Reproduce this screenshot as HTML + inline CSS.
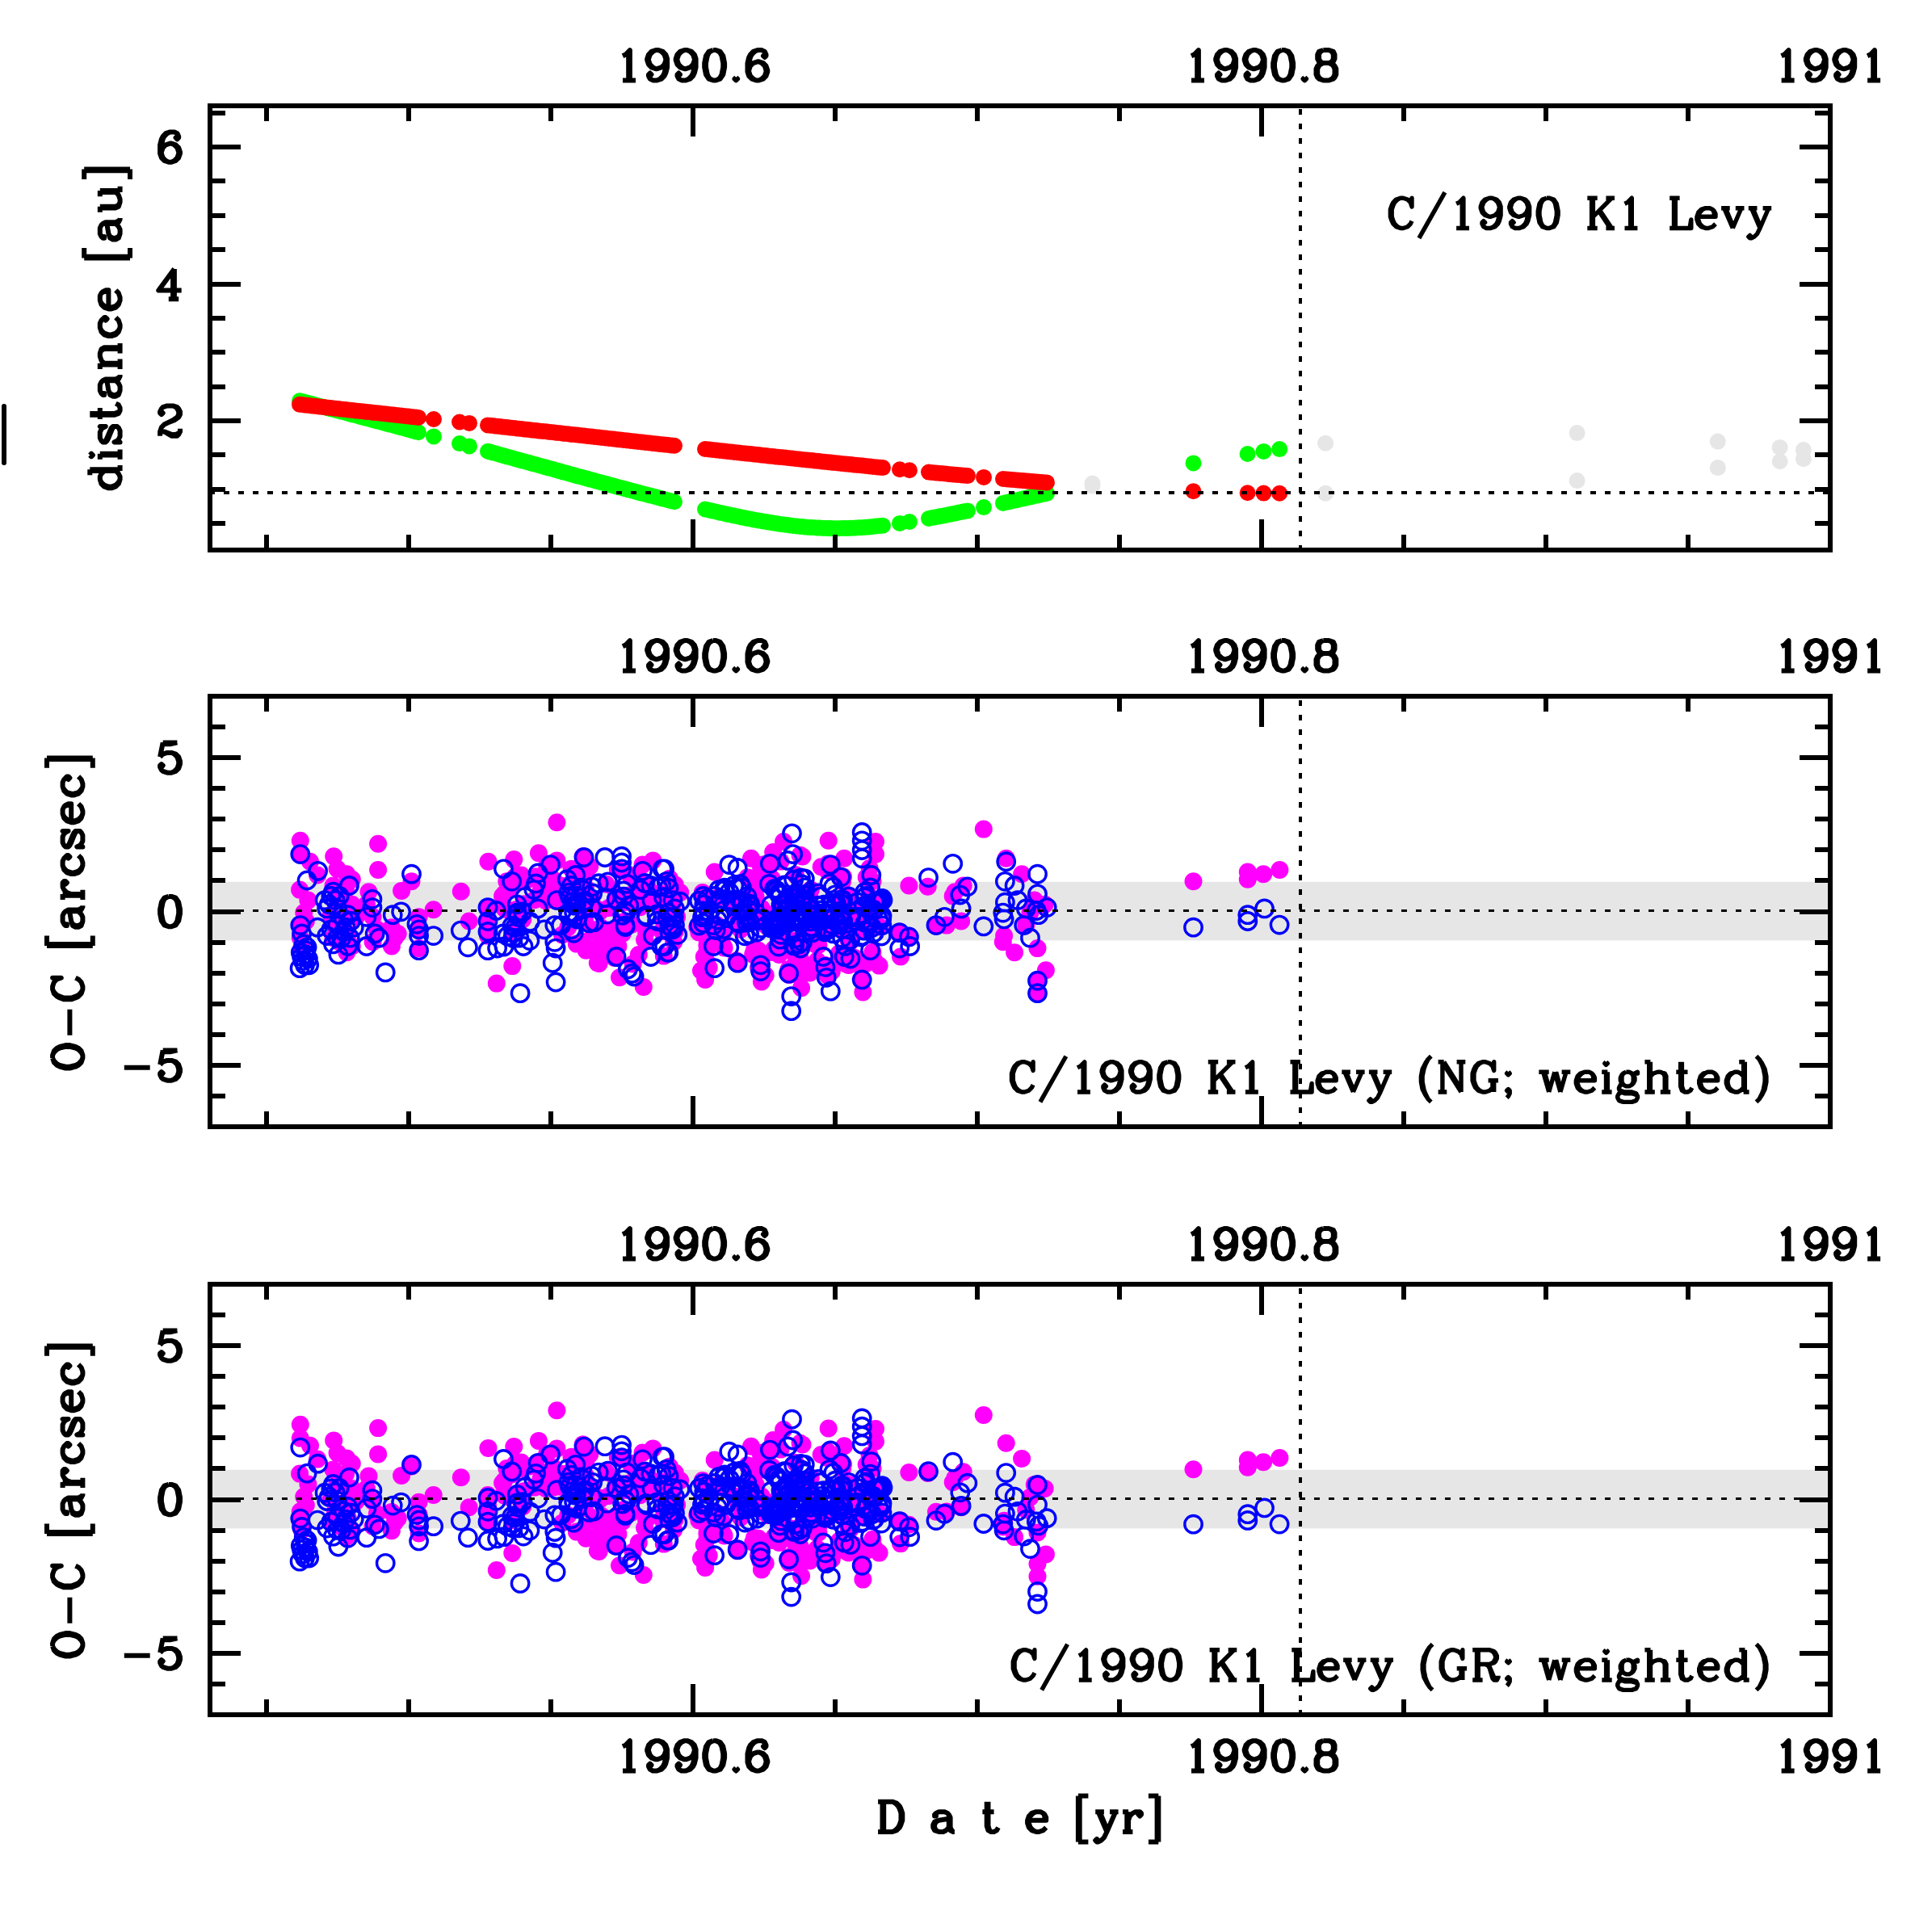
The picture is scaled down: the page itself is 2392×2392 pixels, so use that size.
<!DOCTYPE html><html><head><meta charset="utf-8"><title>C/1990 K1 Levy</title>
<style>html,body{margin:0;padding:0;background:#fff}svg{display:block}text{font-family:"Liberation Sans",sans-serif}</style></head><body>
<svg width="2392" height="2392" viewBox="0 0 2392 2392">
<rect width="2392" height="2392" fill="#fff"/>
<path d="M5 503V573" stroke="#000" stroke-width="6" stroke-linecap="round"/>
<path d="M1342.5 598.5a10 10 0 1 0 20 0a10 10 0 1 0 -20 0M1342.5 601.5a10 10 0 1 0 20 0a10 10 0 1 0 -20 0M1631.1 548.8a10 10 0 1 0 20 0a10 10 0 1 0 -20 0M1631.1 610.8a10 10 0 1 0 20 0a10 10 0 1 0 -20 0M1942.6 536.1a10 10 0 1 0 20 0a10 10 0 1 0 -20 0M1942.6 595.1a10 10 0 1 0 20 0a10 10 0 1 0 -20 0M2116.8 546.6a10 10 0 1 0 20 0a10 10 0 1 0 -20 0M2116.8 579.1a10 10 0 1 0 20 0a10 10 0 1 0 -20 0M2193.7 553.9a10 10 0 1 0 20 0a10 10 0 1 0 -20 0M2193.7 571.2a10 10 0 1 0 20 0a10 10 0 1 0 -20 0M2222.9 557.0a10 10 0 1 0 20 0a10 10 0 1 0 -20 0M2222.9 568.2a10 10 0 1 0 20 0a10 10 0 1 0 -20 0" fill="#e6e6e6"/>
<path d="M361.0 496.2a10 10 0 1 0 20 0a10 10 0 1 0 -20 0M364.0 497.0a10 10 0 1 0 20 0a10 10 0 1 0 -20 0M367.0 497.8a10 10 0 1 0 20 0a10 10 0 1 0 -20 0M370.0 498.6a10 10 0 1 0 20 0a10 10 0 1 0 -20 0M373.0 499.3a10 10 0 1 0 20 0a10 10 0 1 0 -20 0M376.0 500.1a10 10 0 1 0 20 0a10 10 0 1 0 -20 0M379.0 500.9a10 10 0 1 0 20 0a10 10 0 1 0 -20 0M382.0 501.7a10 10 0 1 0 20 0a10 10 0 1 0 -20 0M385.0 502.4a10 10 0 1 0 20 0a10 10 0 1 0 -20 0M388.0 503.2a10 10 0 1 0 20 0a10 10 0 1 0 -20 0M391.0 504.0a10 10 0 1 0 20 0a10 10 0 1 0 -20 0M394.0 504.8a10 10 0 1 0 20 0a10 10 0 1 0 -20 0M397.0 505.6a10 10 0 1 0 20 0a10 10 0 1 0 -20 0M400.0 506.4a10 10 0 1 0 20 0a10 10 0 1 0 -20 0M403.0 507.2a10 10 0 1 0 20 0a10 10 0 1 0 -20 0M406.0 507.9a10 10 0 1 0 20 0a10 10 0 1 0 -20 0M409.0 508.7a10 10 0 1 0 20 0a10 10 0 1 0 -20 0M412.0 509.5a10 10 0 1 0 20 0a10 10 0 1 0 -20 0M415.0 510.3a10 10 0 1 0 20 0a10 10 0 1 0 -20 0M418.0 511.1a10 10 0 1 0 20 0a10 10 0 1 0 -20 0M421.0 511.9a10 10 0 1 0 20 0a10 10 0 1 0 -20 0M424.0 512.7a10 10 0 1 0 20 0a10 10 0 1 0 -20 0M427.0 513.5a10 10 0 1 0 20 0a10 10 0 1 0 -20 0M430.0 514.3a10 10 0 1 0 20 0a10 10 0 1 0 -20 0M433.0 515.1a10 10 0 1 0 20 0a10 10 0 1 0 -20 0M436.0 515.9a10 10 0 1 0 20 0a10 10 0 1 0 -20 0M439.0 516.7a10 10 0 1 0 20 0a10 10 0 1 0 -20 0M442.0 517.5a10 10 0 1 0 20 0a10 10 0 1 0 -20 0M445.0 518.3a10 10 0 1 0 20 0a10 10 0 1 0 -20 0M448.0 519.1a10 10 0 1 0 20 0a10 10 0 1 0 -20 0M451.0 519.9a10 10 0 1 0 20 0a10 10 0 1 0 -20 0M454.0 520.7a10 10 0 1 0 20 0a10 10 0 1 0 -20 0M457.0 521.5a10 10 0 1 0 20 0a10 10 0 1 0 -20 0M460.0 522.3a10 10 0 1 0 20 0a10 10 0 1 0 -20 0M463.0 523.1a10 10 0 1 0 20 0a10 10 0 1 0 -20 0M466.0 523.9a10 10 0 1 0 20 0a10 10 0 1 0 -20 0M469.0 524.7a10 10 0 1 0 20 0a10 10 0 1 0 -20 0M472.0 525.5a10 10 0 1 0 20 0a10 10 0 1 0 -20 0M475.0 526.3a10 10 0 1 0 20 0a10 10 0 1 0 -20 0M478.0 527.1a10 10 0 1 0 20 0a10 10 0 1 0 -20 0M481.0 527.9a10 10 0 1 0 20 0a10 10 0 1 0 -20 0M484.0 528.7a10 10 0 1 0 20 0a10 10 0 1 0 -20 0M487.0 529.5a10 10 0 1 0 20 0a10 10 0 1 0 -20 0M490.0 530.3a10 10 0 1 0 20 0a10 10 0 1 0 -20 0M493.0 531.2a10 10 0 1 0 20 0a10 10 0 1 0 -20 0M496.0 532.0a10 10 0 1 0 20 0a10 10 0 1 0 -20 0M499.0 532.8a10 10 0 1 0 20 0a10 10 0 1 0 -20 0M502.0 533.6a10 10 0 1 0 20 0a10 10 0 1 0 -20 0M505.0 534.4a10 10 0 1 0 20 0a10 10 0 1 0 -20 0M508.0 535.2a10 10 0 1 0 20 0a10 10 0 1 0 -20 0M527.0 540.4a10 10 0 1 0 20 0a10 10 0 1 0 -20 0M559.0 549.1a10 10 0 1 0 20 0a10 10 0 1 0 -20 0M571.0 552.4a10 10 0 1 0 20 0a10 10 0 1 0 -20 0M594.0 558.8a10 10 0 1 0 20 0a10 10 0 1 0 -20 0M597.0 559.6a10 10 0 1 0 20 0a10 10 0 1 0 -20 0M600.0 560.4a10 10 0 1 0 20 0a10 10 0 1 0 -20 0M603.0 561.3a10 10 0 1 0 20 0a10 10 0 1 0 -20 0M606.0 562.1a10 10 0 1 0 20 0a10 10 0 1 0 -20 0M609.0 562.9a10 10 0 1 0 20 0a10 10 0 1 0 -20 0M612.0 563.7a10 10 0 1 0 20 0a10 10 0 1 0 -20 0M615.0 564.6a10 10 0 1 0 20 0a10 10 0 1 0 -20 0M618.0 565.4a10 10 0 1 0 20 0a10 10 0 1 0 -20 0M621.0 566.2a10 10 0 1 0 20 0a10 10 0 1 0 -20 0M624.0 567.1a10 10 0 1 0 20 0a10 10 0 1 0 -20 0M627.0 567.9a10 10 0 1 0 20 0a10 10 0 1 0 -20 0M630.0 568.7a10 10 0 1 0 20 0a10 10 0 1 0 -20 0M633.0 569.5a10 10 0 1 0 20 0a10 10 0 1 0 -20 0M636.0 570.4a10 10 0 1 0 20 0a10 10 0 1 0 -20 0M639.0 571.2a10 10 0 1 0 20 0a10 10 0 1 0 -20 0M642.0 572.0a10 10 0 1 0 20 0a10 10 0 1 0 -20 0M645.0 572.8a10 10 0 1 0 20 0a10 10 0 1 0 -20 0M648.0 573.7a10 10 0 1 0 20 0a10 10 0 1 0 -20 0M651.0 574.5a10 10 0 1 0 20 0a10 10 0 1 0 -20 0M654.0 575.3a10 10 0 1 0 20 0a10 10 0 1 0 -20 0M657.0 576.2a10 10 0 1 0 20 0a10 10 0 1 0 -20 0M660.0 577.0a10 10 0 1 0 20 0a10 10 0 1 0 -20 0M663.0 577.8a10 10 0 1 0 20 0a10 10 0 1 0 -20 0M666.0 578.6a10 10 0 1 0 20 0a10 10 0 1 0 -20 0M669.0 579.5a10 10 0 1 0 20 0a10 10 0 1 0 -20 0M672.0 580.3a10 10 0 1 0 20 0a10 10 0 1 0 -20 0M675.0 581.1a10 10 0 1 0 20 0a10 10 0 1 0 -20 0M678.0 581.9a10 10 0 1 0 20 0a10 10 0 1 0 -20 0M681.0 582.8a10 10 0 1 0 20 0a10 10 0 1 0 -20 0M684.0 583.6a10 10 0 1 0 20 0a10 10 0 1 0 -20 0M687.0 584.4a10 10 0 1 0 20 0a10 10 0 1 0 -20 0M690.0 585.2a10 10 0 1 0 20 0a10 10 0 1 0 -20 0M693.0 586.1a10 10 0 1 0 20 0a10 10 0 1 0 -20 0M696.0 586.9a10 10 0 1 0 20 0a10 10 0 1 0 -20 0M699.0 587.7a10 10 0 1 0 20 0a10 10 0 1 0 -20 0M702.0 588.5a10 10 0 1 0 20 0a10 10 0 1 0 -20 0M705.0 589.4a10 10 0 1 0 20 0a10 10 0 1 0 -20 0M708.0 590.2a10 10 0 1 0 20 0a10 10 0 1 0 -20 0M711.0 591.0a10 10 0 1 0 20 0a10 10 0 1 0 -20 0M714.0 591.8a10 10 0 1 0 20 0a10 10 0 1 0 -20 0M717.0 592.6a10 10 0 1 0 20 0a10 10 0 1 0 -20 0M720.0 593.4a10 10 0 1 0 20 0a10 10 0 1 0 -20 0M723.0 594.3a10 10 0 1 0 20 0a10 10 0 1 0 -20 0M726.0 595.1a10 10 0 1 0 20 0a10 10 0 1 0 -20 0M729.0 595.9a10 10 0 1 0 20 0a10 10 0 1 0 -20 0M732.0 596.7a10 10 0 1 0 20 0a10 10 0 1 0 -20 0M735.0 597.5a10 10 0 1 0 20 0a10 10 0 1 0 -20 0M738.0 598.3a10 10 0 1 0 20 0a10 10 0 1 0 -20 0M741.0 599.1a10 10 0 1 0 20 0a10 10 0 1 0 -20 0M744.0 600.0a10 10 0 1 0 20 0a10 10 0 1 0 -20 0M747.0 600.8a10 10 0 1 0 20 0a10 10 0 1 0 -20 0M750.0 601.6a10 10 0 1 0 20 0a10 10 0 1 0 -20 0M753.0 602.4a10 10 0 1 0 20 0a10 10 0 1 0 -20 0M756.0 603.2a10 10 0 1 0 20 0a10 10 0 1 0 -20 0M759.0 604.0a10 10 0 1 0 20 0a10 10 0 1 0 -20 0M762.0 604.8a10 10 0 1 0 20 0a10 10 0 1 0 -20 0M765.0 605.6a10 10 0 1 0 20 0a10 10 0 1 0 -20 0M768.0 606.4a10 10 0 1 0 20 0a10 10 0 1 0 -20 0M771.0 607.2a10 10 0 1 0 20 0a10 10 0 1 0 -20 0M774.0 608.0a10 10 0 1 0 20 0a10 10 0 1 0 -20 0M777.0 608.8a10 10 0 1 0 20 0a10 10 0 1 0 -20 0M780.0 609.6a10 10 0 1 0 20 0a10 10 0 1 0 -20 0M783.0 610.4a10 10 0 1 0 20 0a10 10 0 1 0 -20 0M786.0 611.2a10 10 0 1 0 20 0a10 10 0 1 0 -20 0M789.0 611.9a10 10 0 1 0 20 0a10 10 0 1 0 -20 0M792.0 612.7a10 10 0 1 0 20 0a10 10 0 1 0 -20 0M795.0 613.5a10 10 0 1 0 20 0a10 10 0 1 0 -20 0M798.0 614.3a10 10 0 1 0 20 0a10 10 0 1 0 -20 0M801.0 615.1a10 10 0 1 0 20 0a10 10 0 1 0 -20 0M804.0 615.8a10 10 0 1 0 20 0a10 10 0 1 0 -20 0M807.0 616.6a10 10 0 1 0 20 0a10 10 0 1 0 -20 0M810.0 617.4a10 10 0 1 0 20 0a10 10 0 1 0 -20 0M813.0 618.2a10 10 0 1 0 20 0a10 10 0 1 0 -20 0M816.0 618.9a10 10 0 1 0 20 0a10 10 0 1 0 -20 0M819.0 619.7a10 10 0 1 0 20 0a10 10 0 1 0 -20 0M822.0 620.5a10 10 0 1 0 20 0a10 10 0 1 0 -20 0M825.0 621.2a10 10 0 1 0 20 0a10 10 0 1 0 -20 0M863.0 630.5a10 10 0 1 0 20 0a10 10 0 1 0 -20 0M866.0 631.2a10 10 0 1 0 20 0a10 10 0 1 0 -20 0M869.0 631.9a10 10 0 1 0 20 0a10 10 0 1 0 -20 0M872.0 632.6a10 10 0 1 0 20 0a10 10 0 1 0 -20 0M875.1 633.3a10 10 0 1 0 20 0a10 10 0 1 0 -20 0M878.1 634.0a10 10 0 1 0 20 0a10 10 0 1 0 -20 0M881.1 634.7a10 10 0 1 0 20 0a10 10 0 1 0 -20 0M884.1 635.3a10 10 0 1 0 20 0a10 10 0 1 0 -20 0M887.1 636.0a10 10 0 1 0 20 0a10 10 0 1 0 -20 0M890.1 636.7a10 10 0 1 0 20 0a10 10 0 1 0 -20 0M893.1 637.3a10 10 0 1 0 20 0a10 10 0 1 0 -20 0M896.2 638.0a10 10 0 1 0 20 0a10 10 0 1 0 -20 0M899.2 638.6a10 10 0 1 0 20 0a10 10 0 1 0 -20 0M902.2 639.2a10 10 0 1 0 20 0a10 10 0 1 0 -20 0M905.2 639.8a10 10 0 1 0 20 0a10 10 0 1 0 -20 0M908.2 640.5a10 10 0 1 0 20 0a10 10 0 1 0 -20 0M911.2 641.1a10 10 0 1 0 20 0a10 10 0 1 0 -20 0M914.2 641.7a10 10 0 1 0 20 0a10 10 0 1 0 -20 0M917.2 642.3a10 10 0 1 0 20 0a10 10 0 1 0 -20 0M920.3 642.8a10 10 0 1 0 20 0a10 10 0 1 0 -20 0M923.3 643.4a10 10 0 1 0 20 0a10 10 0 1 0 -20 0M926.3 644.0a10 10 0 1 0 20 0a10 10 0 1 0 -20 0M929.3 644.5a10 10 0 1 0 20 0a10 10 0 1 0 -20 0M932.3 645.1a10 10 0 1 0 20 0a10 10 0 1 0 -20 0M935.3 645.6a10 10 0 1 0 20 0a10 10 0 1 0 -20 0M938.3 646.1a10 10 0 1 0 20 0a10 10 0 1 0 -20 0M941.4 646.6a10 10 0 1 0 20 0a10 10 0 1 0 -20 0M944.4 647.1a10 10 0 1 0 20 0a10 10 0 1 0 -20 0M947.4 647.6a10 10 0 1 0 20 0a10 10 0 1 0 -20 0M950.4 648.0a10 10 0 1 0 20 0a10 10 0 1 0 -20 0M953.4 648.5a10 10 0 1 0 20 0a10 10 0 1 0 -20 0M956.4 648.9a10 10 0 1 0 20 0a10 10 0 1 0 -20 0M959.4 649.3a10 10 0 1 0 20 0a10 10 0 1 0 -20 0M962.5 649.7a10 10 0 1 0 20 0a10 10 0 1 0 -20 0M965.5 650.1a10 10 0 1 0 20 0a10 10 0 1 0 -20 0M968.5 650.5a10 10 0 1 0 20 0a10 10 0 1 0 -20 0M971.5 650.9a10 10 0 1 0 20 0a10 10 0 1 0 -20 0M974.5 651.2a10 10 0 1 0 20 0a10 10 0 1 0 -20 0M977.5 651.5a10 10 0 1 0 20 0a10 10 0 1 0 -20 0M980.5 651.9a10 10 0 1 0 20 0a10 10 0 1 0 -20 0M983.5 652.1a10 10 0 1 0 20 0a10 10 0 1 0 -20 0M986.6 652.4a10 10 0 1 0 20 0a10 10 0 1 0 -20 0M989.6 652.7a10 10 0 1 0 20 0a10 10 0 1 0 -20 0M992.6 652.9a10 10 0 1 0 20 0a10 10 0 1 0 -20 0M995.6 653.1a10 10 0 1 0 20 0a10 10 0 1 0 -20 0M998.6 653.3a10 10 0 1 0 20 0a10 10 0 1 0 -20 0M1001.6 653.5a10 10 0 1 0 20 0a10 10 0 1 0 -20 0M1004.6 653.6a10 10 0 1 0 20 0a10 10 0 1 0 -20 0M1007.7 653.8a10 10 0 1 0 20 0a10 10 0 1 0 -20 0M1010.7 653.9a10 10 0 1 0 20 0a10 10 0 1 0 -20 0M1013.7 654.0a10 10 0 1 0 20 0a10 10 0 1 0 -20 0M1016.7 654.1a10 10 0 1 0 20 0a10 10 0 1 0 -20 0M1019.7 654.1a10 10 0 1 0 20 0a10 10 0 1 0 -20 0M1022.7 654.2a10 10 0 1 0 20 0a10 10 0 1 0 -20 0M1025.7 654.2a10 10 0 1 0 20 0a10 10 0 1 0 -20 0M1028.8 654.2a10 10 0 1 0 20 0a10 10 0 1 0 -20 0M1031.8 654.1a10 10 0 1 0 20 0a10 10 0 1 0 -20 0M1034.8 654.1a10 10 0 1 0 20 0a10 10 0 1 0 -20 0M1037.8 654.0a10 10 0 1 0 20 0a10 10 0 1 0 -20 0M1040.8 653.9a10 10 0 1 0 20 0a10 10 0 1 0 -20 0M1043.8 653.8a10 10 0 1 0 20 0a10 10 0 1 0 -20 0M1046.8 653.7a10 10 0 1 0 20 0a10 10 0 1 0 -20 0M1049.8 653.5a10 10 0 1 0 20 0a10 10 0 1 0 -20 0M1052.9 653.3a10 10 0 1 0 20 0a10 10 0 1 0 -20 0M1055.9 653.2a10 10 0 1 0 20 0a10 10 0 1 0 -20 0M1058.9 653.0a10 10 0 1 0 20 0a10 10 0 1 0 -20 0M1061.9 652.7a10 10 0 1 0 20 0a10 10 0 1 0 -20 0M1064.9 652.5a10 10 0 1 0 20 0a10 10 0 1 0 -20 0M1067.9 652.2a10 10 0 1 0 20 0a10 10 0 1 0 -20 0M1070.9 651.9a10 10 0 1 0 20 0a10 10 0 1 0 -20 0M1074.0 651.6a10 10 0 1 0 20 0a10 10 0 1 0 -20 0M1077.0 651.3a10 10 0 1 0 20 0a10 10 0 1 0 -20 0M1080.0 651.0a10 10 0 1 0 20 0a10 10 0 1 0 -20 0M1083.0 650.7a10 10 0 1 0 20 0a10 10 0 1 0 -20 0M1104.0 647.9a10 10 0 1 0 20 0a10 10 0 1 0 -20 0M1116.0 646.0a10 10 0 1 0 20 0a10 10 0 1 0 -20 0M1140.0 641.9a10 10 0 1 0 20 0a10 10 0 1 0 -20 0M1143.0 641.3a10 10 0 1 0 20 0a10 10 0 1 0 -20 0M1146.0 640.8a10 10 0 1 0 20 0a10 10 0 1 0 -20 0M1149.0 640.2a10 10 0 1 0 20 0a10 10 0 1 0 -20 0M1152.0 639.6a10 10 0 1 0 20 0a10 10 0 1 0 -20 0M1155.0 639.0a10 10 0 1 0 20 0a10 10 0 1 0 -20 0M1158.0 638.5a10 10 0 1 0 20 0a10 10 0 1 0 -20 0M1161.0 637.9a10 10 0 1 0 20 0a10 10 0 1 0 -20 0M1164.0 637.3a10 10 0 1 0 20 0a10 10 0 1 0 -20 0M1167.0 636.7a10 10 0 1 0 20 0a10 10 0 1 0 -20 0M1170.0 636.1a10 10 0 1 0 20 0a10 10 0 1 0 -20 0M1173.0 635.5a10 10 0 1 0 20 0a10 10 0 1 0 -20 0M1176.0 634.8a10 10 0 1 0 20 0a10 10 0 1 0 -20 0M1179.0 634.2a10 10 0 1 0 20 0a10 10 0 1 0 -20 0M1182.0 633.6a10 10 0 1 0 20 0a10 10 0 1 0 -20 0M1185.0 633.0a10 10 0 1 0 20 0a10 10 0 1 0 -20 0M1188.0 632.4a10 10 0 1 0 20 0a10 10 0 1 0 -20 0M1208.0 628.1a10 10 0 1 0 20 0a10 10 0 1 0 -20 0M1232.0 622.9a10 10 0 1 0 20 0a10 10 0 1 0 -20 0M1235.0 622.2a10 10 0 1 0 20 0a10 10 0 1 0 -20 0M1238.0 621.5a10 10 0 1 0 20 0a10 10 0 1 0 -20 0M1241.0 620.9a10 10 0 1 0 20 0a10 10 0 1 0 -20 0M1244.0 620.2a10 10 0 1 0 20 0a10 10 0 1 0 -20 0M1247.0 619.5a10 10 0 1 0 20 0a10 10 0 1 0 -20 0M1250.0 618.9a10 10 0 1 0 20 0a10 10 0 1 0 -20 0M1253.0 618.2a10 10 0 1 0 20 0a10 10 0 1 0 -20 0M1256.0 617.6a10 10 0 1 0 20 0a10 10 0 1 0 -20 0M1259.0 616.9a10 10 0 1 0 20 0a10 10 0 1 0 -20 0M1262.0 616.2a10 10 0 1 0 20 0a10 10 0 1 0 -20 0M1265.0 615.6a10 10 0 1 0 20 0a10 10 0 1 0 -20 0M1268.0 614.9a10 10 0 1 0 20 0a10 10 0 1 0 -20 0M1271.0 614.2a10 10 0 1 0 20 0a10 10 0 1 0 -20 0M1274.0 613.6a10 10 0 1 0 20 0a10 10 0 1 0 -20 0M1277.0 612.9a10 10 0 1 0 20 0a10 10 0 1 0 -20 0M1280.0 612.2a10 10 0 1 0 20 0a10 10 0 1 0 -20 0M1283.0 611.6a10 10 0 1 0 20 0a10 10 0 1 0 -20 0M1286.0 610.9a10 10 0 1 0 20 0a10 10 0 1 0 -20 0M1467.5 573.4a10 10 0 1 0 20 0a10 10 0 1 0 -20 0M1534.6 562.0a10 10 0 1 0 20 0a10 10 0 1 0 -20 0M1554.5 558.9a10 10 0 1 0 20 0a10 10 0 1 0 -20 0M1574.2 556.1a10 10 0 1 0 20 0a10 10 0 1 0 -20 0" fill="#00ff00"/>
<path d="M361.0 500.8a10 10 0 1 0 20 0a10 10 0 1 0 -20 0M364.0 501.1a10 10 0 1 0 20 0a10 10 0 1 0 -20 0M367.0 501.5a10 10 0 1 0 20 0a10 10 0 1 0 -20 0M370.0 501.8a10 10 0 1 0 20 0a10 10 0 1 0 -20 0M373.0 502.1a10 10 0 1 0 20 0a10 10 0 1 0 -20 0M376.0 502.5a10 10 0 1 0 20 0a10 10 0 1 0 -20 0M379.0 502.8a10 10 0 1 0 20 0a10 10 0 1 0 -20 0M382.0 503.1a10 10 0 1 0 20 0a10 10 0 1 0 -20 0M385.0 503.4a10 10 0 1 0 20 0a10 10 0 1 0 -20 0M388.0 503.8a10 10 0 1 0 20 0a10 10 0 1 0 -20 0M391.0 504.1a10 10 0 1 0 20 0a10 10 0 1 0 -20 0M394.0 504.4a10 10 0 1 0 20 0a10 10 0 1 0 -20 0M397.0 504.7a10 10 0 1 0 20 0a10 10 0 1 0 -20 0M400.0 505.1a10 10 0 1 0 20 0a10 10 0 1 0 -20 0M403.0 505.4a10 10 0 1 0 20 0a10 10 0 1 0 -20 0M406.0 505.7a10 10 0 1 0 20 0a10 10 0 1 0 -20 0M409.0 506.1a10 10 0 1 0 20 0a10 10 0 1 0 -20 0M412.0 506.4a10 10 0 1 0 20 0a10 10 0 1 0 -20 0M415.0 506.7a10 10 0 1 0 20 0a10 10 0 1 0 -20 0M418.0 507.0a10 10 0 1 0 20 0a10 10 0 1 0 -20 0M421.0 507.4a10 10 0 1 0 20 0a10 10 0 1 0 -20 0M424.0 507.7a10 10 0 1 0 20 0a10 10 0 1 0 -20 0M427.0 508.0a10 10 0 1 0 20 0a10 10 0 1 0 -20 0M430.0 508.4a10 10 0 1 0 20 0a10 10 0 1 0 -20 0M433.0 508.7a10 10 0 1 0 20 0a10 10 0 1 0 -20 0M436.0 509.0a10 10 0 1 0 20 0a10 10 0 1 0 -20 0M439.0 509.3a10 10 0 1 0 20 0a10 10 0 1 0 -20 0M442.0 509.7a10 10 0 1 0 20 0a10 10 0 1 0 -20 0M445.0 510.0a10 10 0 1 0 20 0a10 10 0 1 0 -20 0M448.0 510.3a10 10 0 1 0 20 0a10 10 0 1 0 -20 0M451.0 510.7a10 10 0 1 0 20 0a10 10 0 1 0 -20 0M454.0 511.0a10 10 0 1 0 20 0a10 10 0 1 0 -20 0M457.0 511.3a10 10 0 1 0 20 0a10 10 0 1 0 -20 0M460.0 511.6a10 10 0 1 0 20 0a10 10 0 1 0 -20 0M463.0 512.0a10 10 0 1 0 20 0a10 10 0 1 0 -20 0M466.0 512.3a10 10 0 1 0 20 0a10 10 0 1 0 -20 0M469.0 512.6a10 10 0 1 0 20 0a10 10 0 1 0 -20 0M472.0 513.0a10 10 0 1 0 20 0a10 10 0 1 0 -20 0M475.0 513.3a10 10 0 1 0 20 0a10 10 0 1 0 -20 0M478.0 513.6a10 10 0 1 0 20 0a10 10 0 1 0 -20 0M481.0 513.9a10 10 0 1 0 20 0a10 10 0 1 0 -20 0M484.0 514.3a10 10 0 1 0 20 0a10 10 0 1 0 -20 0M487.0 514.6a10 10 0 1 0 20 0a10 10 0 1 0 -20 0M490.0 514.9a10 10 0 1 0 20 0a10 10 0 1 0 -20 0M493.0 515.3a10 10 0 1 0 20 0a10 10 0 1 0 -20 0M496.0 515.6a10 10 0 1 0 20 0a10 10 0 1 0 -20 0M499.0 515.9a10 10 0 1 0 20 0a10 10 0 1 0 -20 0M502.0 516.3a10 10 0 1 0 20 0a10 10 0 1 0 -20 0M505.0 516.6a10 10 0 1 0 20 0a10 10 0 1 0 -20 0M508.0 516.9a10 10 0 1 0 20 0a10 10 0 1 0 -20 0M527.0 519.0a10 10 0 1 0 20 0a10 10 0 1 0 -20 0M559.0 522.5a10 10 0 1 0 20 0a10 10 0 1 0 -20 0M571.0 523.9a10 10 0 1 0 20 0a10 10 0 1 0 -20 0M594.0 526.4a10 10 0 1 0 20 0a10 10 0 1 0 -20 0M597.0 526.7a10 10 0 1 0 20 0a10 10 0 1 0 -20 0M600.0 527.1a10 10 0 1 0 20 0a10 10 0 1 0 -20 0M603.0 527.4a10 10 0 1 0 20 0a10 10 0 1 0 -20 0M606.0 527.7a10 10 0 1 0 20 0a10 10 0 1 0 -20 0M609.0 528.1a10 10 0 1 0 20 0a10 10 0 1 0 -20 0M612.0 528.4a10 10 0 1 0 20 0a10 10 0 1 0 -20 0M615.0 528.7a10 10 0 1 0 20 0a10 10 0 1 0 -20 0M618.0 529.0a10 10 0 1 0 20 0a10 10 0 1 0 -20 0M621.0 529.4a10 10 0 1 0 20 0a10 10 0 1 0 -20 0M624.0 529.7a10 10 0 1 0 20 0a10 10 0 1 0 -20 0M627.0 530.0a10 10 0 1 0 20 0a10 10 0 1 0 -20 0M630.0 530.4a10 10 0 1 0 20 0a10 10 0 1 0 -20 0M633.0 530.7a10 10 0 1 0 20 0a10 10 0 1 0 -20 0M636.0 531.0a10 10 0 1 0 20 0a10 10 0 1 0 -20 0M639.0 531.4a10 10 0 1 0 20 0a10 10 0 1 0 -20 0M642.0 531.7a10 10 0 1 0 20 0a10 10 0 1 0 -20 0M645.0 532.0a10 10 0 1 0 20 0a10 10 0 1 0 -20 0M648.0 532.4a10 10 0 1 0 20 0a10 10 0 1 0 -20 0M651.0 532.7a10 10 0 1 0 20 0a10 10 0 1 0 -20 0M654.0 533.0a10 10 0 1 0 20 0a10 10 0 1 0 -20 0M657.0 533.4a10 10 0 1 0 20 0a10 10 0 1 0 -20 0M660.0 533.7a10 10 0 1 0 20 0a10 10 0 1 0 -20 0M663.0 534.0a10 10 0 1 0 20 0a10 10 0 1 0 -20 0M666.0 534.3a10 10 0 1 0 20 0a10 10 0 1 0 -20 0M669.0 534.7a10 10 0 1 0 20 0a10 10 0 1 0 -20 0M672.0 535.0a10 10 0 1 0 20 0a10 10 0 1 0 -20 0M675.0 535.3a10 10 0 1 0 20 0a10 10 0 1 0 -20 0M678.0 535.7a10 10 0 1 0 20 0a10 10 0 1 0 -20 0M681.0 536.0a10 10 0 1 0 20 0a10 10 0 1 0 -20 0M684.0 536.3a10 10 0 1 0 20 0a10 10 0 1 0 -20 0M687.0 536.7a10 10 0 1 0 20 0a10 10 0 1 0 -20 0M690.0 537.0a10 10 0 1 0 20 0a10 10 0 1 0 -20 0M693.0 537.3a10 10 0 1 0 20 0a10 10 0 1 0 -20 0M696.0 537.7a10 10 0 1 0 20 0a10 10 0 1 0 -20 0M699.0 538.0a10 10 0 1 0 20 0a10 10 0 1 0 -20 0M702.0 538.3a10 10 0 1 0 20 0a10 10 0 1 0 -20 0M705.0 538.6a10 10 0 1 0 20 0a10 10 0 1 0 -20 0M708.0 539.0a10 10 0 1 0 20 0a10 10 0 1 0 -20 0M711.0 539.3a10 10 0 1 0 20 0a10 10 0 1 0 -20 0M714.0 539.6a10 10 0 1 0 20 0a10 10 0 1 0 -20 0M717.0 540.0a10 10 0 1 0 20 0a10 10 0 1 0 -20 0M720.0 540.3a10 10 0 1 0 20 0a10 10 0 1 0 -20 0M723.0 540.6a10 10 0 1 0 20 0a10 10 0 1 0 -20 0M726.0 541.0a10 10 0 1 0 20 0a10 10 0 1 0 -20 0M729.0 541.3a10 10 0 1 0 20 0a10 10 0 1 0 -20 0M732.0 541.6a10 10 0 1 0 20 0a10 10 0 1 0 -20 0M735.0 542.0a10 10 0 1 0 20 0a10 10 0 1 0 -20 0M738.0 542.3a10 10 0 1 0 20 0a10 10 0 1 0 -20 0M741.0 542.6a10 10 0 1 0 20 0a10 10 0 1 0 -20 0M744.0 542.9a10 10 0 1 0 20 0a10 10 0 1 0 -20 0M747.0 543.3a10 10 0 1 0 20 0a10 10 0 1 0 -20 0M750.0 543.6a10 10 0 1 0 20 0a10 10 0 1 0 -20 0M753.0 543.9a10 10 0 1 0 20 0a10 10 0 1 0 -20 0M756.0 544.3a10 10 0 1 0 20 0a10 10 0 1 0 -20 0M759.0 544.6a10 10 0 1 0 20 0a10 10 0 1 0 -20 0M762.0 544.9a10 10 0 1 0 20 0a10 10 0 1 0 -20 0M765.0 545.3a10 10 0 1 0 20 0a10 10 0 1 0 -20 0M768.0 545.6a10 10 0 1 0 20 0a10 10 0 1 0 -20 0M771.0 545.9a10 10 0 1 0 20 0a10 10 0 1 0 -20 0M774.0 546.2a10 10 0 1 0 20 0a10 10 0 1 0 -20 0M777.0 546.6a10 10 0 1 0 20 0a10 10 0 1 0 -20 0M780.0 546.9a10 10 0 1 0 20 0a10 10 0 1 0 -20 0M783.0 547.2a10 10 0 1 0 20 0a10 10 0 1 0 -20 0M786.0 547.6a10 10 0 1 0 20 0a10 10 0 1 0 -20 0M789.0 547.9a10 10 0 1 0 20 0a10 10 0 1 0 -20 0M792.0 548.2a10 10 0 1 0 20 0a10 10 0 1 0 -20 0M795.0 548.5a10 10 0 1 0 20 0a10 10 0 1 0 -20 0M798.0 548.9a10 10 0 1 0 20 0a10 10 0 1 0 -20 0M801.0 549.2a10 10 0 1 0 20 0a10 10 0 1 0 -20 0M804.0 549.5a10 10 0 1 0 20 0a10 10 0 1 0 -20 0M807.0 549.9a10 10 0 1 0 20 0a10 10 0 1 0 -20 0M810.0 550.2a10 10 0 1 0 20 0a10 10 0 1 0 -20 0M813.0 550.5a10 10 0 1 0 20 0a10 10 0 1 0 -20 0M816.0 550.8a10 10 0 1 0 20 0a10 10 0 1 0 -20 0M819.0 551.2a10 10 0 1 0 20 0a10 10 0 1 0 -20 0M822.0 551.5a10 10 0 1 0 20 0a10 10 0 1 0 -20 0M825.0 551.8a10 10 0 1 0 20 0a10 10 0 1 0 -20 0M863.0 556.0a10 10 0 1 0 20 0a10 10 0 1 0 -20 0M866.0 556.3a10 10 0 1 0 20 0a10 10 0 1 0 -20 0M869.0 556.6a10 10 0 1 0 20 0a10 10 0 1 0 -20 0M872.0 556.9a10 10 0 1 0 20 0a10 10 0 1 0 -20 0M875.1 557.3a10 10 0 1 0 20 0a10 10 0 1 0 -20 0M878.1 557.6a10 10 0 1 0 20 0a10 10 0 1 0 -20 0M881.1 557.9a10 10 0 1 0 20 0a10 10 0 1 0 -20 0M884.1 558.3a10 10 0 1 0 20 0a10 10 0 1 0 -20 0M887.1 558.6a10 10 0 1 0 20 0a10 10 0 1 0 -20 0M890.1 558.9a10 10 0 1 0 20 0a10 10 0 1 0 -20 0M893.1 559.2a10 10 0 1 0 20 0a10 10 0 1 0 -20 0M896.2 559.6a10 10 0 1 0 20 0a10 10 0 1 0 -20 0M899.2 559.9a10 10 0 1 0 20 0a10 10 0 1 0 -20 0M902.2 560.2a10 10 0 1 0 20 0a10 10 0 1 0 -20 0M905.2 560.5a10 10 0 1 0 20 0a10 10 0 1 0 -20 0M908.2 560.9a10 10 0 1 0 20 0a10 10 0 1 0 -20 0M911.2 561.2a10 10 0 1 0 20 0a10 10 0 1 0 -20 0M914.2 561.5a10 10 0 1 0 20 0a10 10 0 1 0 -20 0M917.2 561.8a10 10 0 1 0 20 0a10 10 0 1 0 -20 0M920.3 562.1a10 10 0 1 0 20 0a10 10 0 1 0 -20 0M923.3 562.5a10 10 0 1 0 20 0a10 10 0 1 0 -20 0M926.3 562.8a10 10 0 1 0 20 0a10 10 0 1 0 -20 0M929.3 563.1a10 10 0 1 0 20 0a10 10 0 1 0 -20 0M932.3 563.4a10 10 0 1 0 20 0a10 10 0 1 0 -20 0M935.3 563.8a10 10 0 1 0 20 0a10 10 0 1 0 -20 0M938.3 564.1a10 10 0 1 0 20 0a10 10 0 1 0 -20 0M941.4 564.4a10 10 0 1 0 20 0a10 10 0 1 0 -20 0M944.4 564.7a10 10 0 1 0 20 0a10 10 0 1 0 -20 0M947.4 565.0a10 10 0 1 0 20 0a10 10 0 1 0 -20 0M950.4 565.4a10 10 0 1 0 20 0a10 10 0 1 0 -20 0M953.4 565.7a10 10 0 1 0 20 0a10 10 0 1 0 -20 0M956.4 566.0a10 10 0 1 0 20 0a10 10 0 1 0 -20 0M959.4 566.3a10 10 0 1 0 20 0a10 10 0 1 0 -20 0M962.5 566.6a10 10 0 1 0 20 0a10 10 0 1 0 -20 0M965.5 567.0a10 10 0 1 0 20 0a10 10 0 1 0 -20 0M968.5 567.3a10 10 0 1 0 20 0a10 10 0 1 0 -20 0M971.5 567.6a10 10 0 1 0 20 0a10 10 0 1 0 -20 0M974.5 567.9a10 10 0 1 0 20 0a10 10 0 1 0 -20 0M977.5 568.2a10 10 0 1 0 20 0a10 10 0 1 0 -20 0M980.5 568.5a10 10 0 1 0 20 0a10 10 0 1 0 -20 0M983.5 568.9a10 10 0 1 0 20 0a10 10 0 1 0 -20 0M986.6 569.2a10 10 0 1 0 20 0a10 10 0 1 0 -20 0M989.6 569.5a10 10 0 1 0 20 0a10 10 0 1 0 -20 0M992.6 569.8a10 10 0 1 0 20 0a10 10 0 1 0 -20 0M995.6 570.1a10 10 0 1 0 20 0a10 10 0 1 0 -20 0M998.6 570.4a10 10 0 1 0 20 0a10 10 0 1 0 -20 0M1001.6 570.8a10 10 0 1 0 20 0a10 10 0 1 0 -20 0M1004.6 571.1a10 10 0 1 0 20 0a10 10 0 1 0 -20 0M1007.7 571.4a10 10 0 1 0 20 0a10 10 0 1 0 -20 0M1010.7 571.7a10 10 0 1 0 20 0a10 10 0 1 0 -20 0M1013.7 572.0a10 10 0 1 0 20 0a10 10 0 1 0 -20 0M1016.7 572.3a10 10 0 1 0 20 0a10 10 0 1 0 -20 0M1019.7 572.6a10 10 0 1 0 20 0a10 10 0 1 0 -20 0M1022.7 572.9a10 10 0 1 0 20 0a10 10 0 1 0 -20 0M1025.7 573.3a10 10 0 1 0 20 0a10 10 0 1 0 -20 0M1028.8 573.6a10 10 0 1 0 20 0a10 10 0 1 0 -20 0M1031.8 573.9a10 10 0 1 0 20 0a10 10 0 1 0 -20 0M1034.8 574.2a10 10 0 1 0 20 0a10 10 0 1 0 -20 0M1037.8 574.5a10 10 0 1 0 20 0a10 10 0 1 0 -20 0M1040.8 574.8a10 10 0 1 0 20 0a10 10 0 1 0 -20 0M1043.8 575.1a10 10 0 1 0 20 0a10 10 0 1 0 -20 0M1046.8 575.4a10 10 0 1 0 20 0a10 10 0 1 0 -20 0M1049.8 575.7a10 10 0 1 0 20 0a10 10 0 1 0 -20 0M1052.9 576.0a10 10 0 1 0 20 0a10 10 0 1 0 -20 0M1055.9 576.3a10 10 0 1 0 20 0a10 10 0 1 0 -20 0M1058.9 576.6a10 10 0 1 0 20 0a10 10 0 1 0 -20 0M1061.9 577.0a10 10 0 1 0 20 0a10 10 0 1 0 -20 0M1064.9 577.3a10 10 0 1 0 20 0a10 10 0 1 0 -20 0M1067.9 577.6a10 10 0 1 0 20 0a10 10 0 1 0 -20 0M1070.9 577.9a10 10 0 1 0 20 0a10 10 0 1 0 -20 0M1074.0 578.2a10 10 0 1 0 20 0a10 10 0 1 0 -20 0M1077.0 578.5a10 10 0 1 0 20 0a10 10 0 1 0 -20 0M1080.0 578.8a10 10 0 1 0 20 0a10 10 0 1 0 -20 0M1083.0 579.1a10 10 0 1 0 20 0a10 10 0 1 0 -20 0M1104.0 581.2a10 10 0 1 0 20 0a10 10 0 1 0 -20 0M1116.0 582.3a10 10 0 1 0 20 0a10 10 0 1 0 -20 0M1140.0 584.6a10 10 0 1 0 20 0a10 10 0 1 0 -20 0M1143.0 584.9a10 10 0 1 0 20 0a10 10 0 1 0 -20 0M1146.0 585.2a10 10 0 1 0 20 0a10 10 0 1 0 -20 0M1149.0 585.5a10 10 0 1 0 20 0a10 10 0 1 0 -20 0M1152.0 585.8a10 10 0 1 0 20 0a10 10 0 1 0 -20 0M1155.0 586.1a10 10 0 1 0 20 0a10 10 0 1 0 -20 0M1158.0 586.3a10 10 0 1 0 20 0a10 10 0 1 0 -20 0M1161.0 586.6a10 10 0 1 0 20 0a10 10 0 1 0 -20 0M1164.0 586.9a10 10 0 1 0 20 0a10 10 0 1 0 -20 0M1167.0 587.2a10 10 0 1 0 20 0a10 10 0 1 0 -20 0M1170.0 587.5a10 10 0 1 0 20 0a10 10 0 1 0 -20 0M1173.0 587.7a10 10 0 1 0 20 0a10 10 0 1 0 -20 0M1176.0 588.0a10 10 0 1 0 20 0a10 10 0 1 0 -20 0M1179.0 588.3a10 10 0 1 0 20 0a10 10 0 1 0 -20 0M1182.0 588.6a10 10 0 1 0 20 0a10 10 0 1 0 -20 0M1185.0 588.8a10 10 0 1 0 20 0a10 10 0 1 0 -20 0M1188.0 589.1a10 10 0 1 0 20 0a10 10 0 1 0 -20 0M1208.0 590.9a10 10 0 1 0 20 0a10 10 0 1 0 -20 0M1232.0 593.0a10 10 0 1 0 20 0a10 10 0 1 0 -20 0M1235.0 593.3a10 10 0 1 0 20 0a10 10 0 1 0 -20 0M1238.0 593.5a10 10 0 1 0 20 0a10 10 0 1 0 -20 0M1241.0 593.8a10 10 0 1 0 20 0a10 10 0 1 0 -20 0M1244.0 594.0a10 10 0 1 0 20 0a10 10 0 1 0 -20 0M1247.0 594.3a10 10 0 1 0 20 0a10 10 0 1 0 -20 0M1250.0 594.5a10 10 0 1 0 20 0a10 10 0 1 0 -20 0M1253.0 594.8a10 10 0 1 0 20 0a10 10 0 1 0 -20 0M1256.0 595.0a10 10 0 1 0 20 0a10 10 0 1 0 -20 0M1259.0 595.3a10 10 0 1 0 20 0a10 10 0 1 0 -20 0M1262.0 595.5a10 10 0 1 0 20 0a10 10 0 1 0 -20 0M1265.0 595.7a10 10 0 1 0 20 0a10 10 0 1 0 -20 0M1268.0 596.0a10 10 0 1 0 20 0a10 10 0 1 0 -20 0M1271.0 596.2a10 10 0 1 0 20 0a10 10 0 1 0 -20 0M1274.0 596.5a10 10 0 1 0 20 0a10 10 0 1 0 -20 0M1277.0 596.7a10 10 0 1 0 20 0a10 10 0 1 0 -20 0M1280.0 596.9a10 10 0 1 0 20 0a10 10 0 1 0 -20 0M1283.0 597.2a10 10 0 1 0 20 0a10 10 0 1 0 -20 0M1286.0 597.4a10 10 0 1 0 20 0a10 10 0 1 0 -20 0M1467.5 608.3a10 10 0 1 0 20 0a10 10 0 1 0 -20 0M1534.6 610.3a10 10 0 1 0 20 0a10 10 0 1 0 -20 0M1554.5 610.6a10 10 0 1 0 20 0a10 10 0 1 0 -20 0M1574.2 610.8a10 10 0 1 0 20 0a10 10 0 1 0 -20 0" fill="#ff0000"/>
<path d="M259 610.0H2266.0" stroke="#000" stroke-width="4" stroke-dasharray="7 11" fill="none" shape-rendering="crispEdges"/>
<path d="M1610 135.0V681.0" stroke="#000" stroke-width="4" stroke-dasharray="7 11" fill="none" shape-rendering="crispEdges"/>
<path d="M330 131.0v19M330 681.0v-19M506 131.0v19M506 681.0v-19M682 131.0v19M682 681.0v-19M858 131.0v38M858 681.0v-38M1034 131.0v19M1034 681.0v-19M1210 131.0v19M1210 681.0v-19M1386 131.0v19M1386 681.0v-19M1562 131.0v38M1562 681.0v-38M1738 131.0v19M1738 681.0v-19M1914 131.0v19M1914 681.0v-19M2090 131.0v19M2090 681.0v-19M260.0 648.1h19M2266.0 648.1h-19M260.0 605.8h19M2266.0 605.8h-19M260.0 563.4h19M2266.0 563.4h-19M260.0 478.6h19M2266.0 478.6h-19M260.0 436.2h19M2266.0 436.2h-19M260.0 393.9h19M2266.0 393.9h-19M260.0 309.1h19M2266.0 309.1h-19M260.0 266.8h19M2266.0 266.8h-19M260.0 224.4h19M2266.0 224.4h-19M260.0 139.6h19M2266.0 139.6h-19M260.0 521.0h38M2266.0 521.0h-38M260.0 351.5h38M2266.0 351.5h-38M260.0 182.0h38M2266.0 182.0h-38" stroke="#000" stroke-width="6.0" fill="none" shape-rendering="crispEdges"/>
<rect x="260.0" y="131.0" width="2006.0" height="550.0" fill="none" stroke="#000" stroke-width="6.0" shape-rendering="crispEdges"/>
<path transform="translate(858.0 99.4) translate(-97.6 0)" d="M10.6 -30.2L14.2 -31.9L19.5 -37.3L19.5 0.0M17.8 -35.5L17.8 0.0M10.6 0.0L26.6 0.0M63.9 -24.8L62.1 -19.5L58.6 -16.0L53.2 -14.2L51.5 -14.2L46.1 -16.0L42.6 -19.5L40.8 -24.8L40.8 -26.6L42.6 -31.9L46.1 -35.5L51.5 -37.3L55.0 -37.3L60.3 -35.5L63.9 -31.9L65.7 -26.6L65.7 -16.0L63.9 -8.9L62.1 -5.3L58.6 -1.8L53.2 0.0L47.9 0.0L44.4 -1.8L42.6 -5.3L42.6 -7.1L44.4 -8.9L46.1 -7.1L44.4 -5.3M51.5 -14.2L47.9 -16.0L44.4 -19.5L42.6 -24.8L42.6 -26.6L44.4 -31.9L47.9 -35.5L51.5 -37.3M55.0 -37.3L58.6 -35.5L62.1 -31.9L63.9 -26.6L63.9 -16.0L62.1 -8.9L60.3 -5.3L56.8 -1.8L53.2 0.0M99.4 -24.8L97.6 -19.5L94.1 -16.0L88.8 -14.2L87.0 -14.2L81.6 -16.0L78.1 -19.5L76.3 -24.8L76.3 -26.6L78.1 -31.9L81.6 -35.5L87.0 -37.3L90.5 -37.3L95.8 -35.5L99.4 -31.9L101.2 -26.6L101.2 -16.0L99.4 -8.9L97.6 -5.3L94.1 -1.8L88.8 0.0L83.4 0.0L79.9 -1.8L78.1 -5.3L78.1 -7.1L79.9 -8.9L81.6 -7.1L79.9 -5.3M87.0 -14.2L83.4 -16.0L79.9 -19.5L78.1 -24.8L78.1 -26.6L79.9 -31.9L83.4 -35.5L87.0 -37.3M90.5 -37.3L94.1 -35.5L97.6 -31.9L99.4 -26.6L99.4 -16.0L97.6 -8.9L95.8 -5.3L92.3 -1.8L88.8 0.0M122.5 -37.3L117.1 -35.5L113.6 -30.2L111.8 -21.3L111.8 -16.0L113.6 -7.1L117.1 -1.8L122.5 0.0L126.0 0.0L131.3 -1.8L134.9 -7.1L136.7 -16.0L136.7 -21.3L134.9 -30.2L131.3 -35.5L126.0 -37.3L122.5 -37.3M122.5 -37.3L118.9 -35.5L117.1 -33.7L115.4 -30.2L113.6 -21.3L113.6 -16.0L115.4 -7.1L117.1 -3.5L118.9 -1.8L122.5 0.0M126.0 0.0L129.6 -1.8L131.3 -3.5L133.1 -7.1L134.9 -16.0L134.9 -21.3L133.1 -30.2L131.3 -33.7L129.6 -35.5L126.0 -37.3M150.9 -3.5L149.1 -1.8L150.9 0.0L152.7 -1.8L150.9 -3.5M186.4 -31.9L184.6 -30.2L186.4 -28.4L188.1 -30.2L188.1 -31.9L186.4 -35.5L182.8 -37.3L177.5 -37.3L172.2 -35.5L168.6 -31.9L166.8 -28.4L165.1 -21.3L165.1 -10.6L166.8 -5.3L170.4 -1.8L175.7 0.0L179.3 0.0L184.6 -1.8L188.1 -5.3L189.9 -10.6L189.9 -12.4L188.1 -17.8L184.6 -21.3L179.3 -23.1L177.5 -23.1L172.2 -21.3L168.6 -17.8L166.8 -12.4M177.5 -37.3L173.9 -35.5L170.4 -31.9L168.6 -28.4L166.8 -21.3L166.8 -10.6L168.6 -5.3L172.2 -1.8L175.7 0.0M179.3 0.0L182.8 -1.8L186.4 -5.3L188.1 -10.6L188.1 -12.4L186.4 -17.8L182.8 -21.3L179.3 -23.1" fill="none" stroke="#000" stroke-width="6.0" stroke-linecap="butt" stroke-linejoin="round"/>
<path transform="translate(1562.0 99.4) translate(-97.6 0)" d="M10.6 -30.2L14.2 -31.9L19.5 -37.3L19.5 0.0M17.8 -35.5L17.8 0.0M10.6 0.0L26.6 0.0M63.9 -24.8L62.1 -19.5L58.6 -16.0L53.2 -14.2L51.5 -14.2L46.1 -16.0L42.6 -19.5L40.8 -24.8L40.8 -26.6L42.6 -31.9L46.1 -35.5L51.5 -37.3L55.0 -37.3L60.3 -35.5L63.9 -31.9L65.7 -26.6L65.7 -16.0L63.9 -8.9L62.1 -5.3L58.6 -1.8L53.2 0.0L47.9 0.0L44.4 -1.8L42.6 -5.3L42.6 -7.1L44.4 -8.9L46.1 -7.1L44.4 -5.3M51.5 -14.2L47.9 -16.0L44.4 -19.5L42.6 -24.8L42.6 -26.6L44.4 -31.9L47.9 -35.5L51.5 -37.3M55.0 -37.3L58.6 -35.5L62.1 -31.9L63.9 -26.6L63.9 -16.0L62.1 -8.9L60.3 -5.3L56.8 -1.8L53.2 0.0M99.4 -24.8L97.6 -19.5L94.1 -16.0L88.8 -14.2L87.0 -14.2L81.6 -16.0L78.1 -19.5L76.3 -24.8L76.3 -26.6L78.1 -31.9L81.6 -35.5L87.0 -37.3L90.5 -37.3L95.8 -35.5L99.4 -31.9L101.2 -26.6L101.2 -16.0L99.4 -8.9L97.6 -5.3L94.1 -1.8L88.8 0.0L83.4 0.0L79.9 -1.8L78.1 -5.3L78.1 -7.1L79.9 -8.9L81.6 -7.1L79.9 -5.3M87.0 -14.2L83.4 -16.0L79.9 -19.5L78.1 -24.8L78.1 -26.6L79.9 -31.9L83.4 -35.5L87.0 -37.3M90.5 -37.3L94.1 -35.5L97.6 -31.9L99.4 -26.6L99.4 -16.0L97.6 -8.9L95.8 -5.3L92.3 -1.8L88.8 0.0M122.5 -37.3L117.1 -35.5L113.6 -30.2L111.8 -21.3L111.8 -16.0L113.6 -7.1L117.1 -1.8L122.5 0.0L126.0 0.0L131.3 -1.8L134.9 -7.1L136.7 -16.0L136.7 -21.3L134.9 -30.2L131.3 -35.5L126.0 -37.3L122.5 -37.3M122.5 -37.3L118.9 -35.5L117.1 -33.7L115.4 -30.2L113.6 -21.3L113.6 -16.0L115.4 -7.1L117.1 -3.5L118.9 -1.8L122.5 0.0M126.0 0.0L129.6 -1.8L131.3 -3.5L133.1 -7.1L134.9 -16.0L134.9 -21.3L133.1 -30.2L131.3 -33.7L129.6 -35.5L126.0 -37.3M150.9 -3.5L149.1 -1.8L150.9 0.0L152.7 -1.8L150.9 -3.5M173.9 -37.3L168.6 -35.5L166.8 -31.9L166.8 -26.6L168.6 -23.1L173.9 -21.3L181.0 -21.3L186.4 -23.1L188.1 -26.6L188.1 -31.9L186.4 -35.5L181.0 -37.3L173.9 -37.3M173.9 -37.3L170.4 -35.5L168.6 -31.9L168.6 -26.6L170.4 -23.1L173.9 -21.3M181.0 -21.3L184.6 -23.1L186.4 -26.6L186.4 -31.9L184.6 -35.5L181.0 -37.3M173.9 -21.3L168.6 -19.5L166.8 -17.8L165.1 -14.2L165.1 -7.1L166.8 -3.5L168.6 -1.8L173.9 0.0L181.0 0.0L186.4 -1.8L188.1 -3.5L189.9 -7.1L189.9 -14.2L188.1 -17.8L186.4 -19.5L181.0 -21.3M173.9 -21.3L170.4 -19.5L168.6 -17.8L166.8 -14.2L166.8 -7.1L168.6 -3.5L170.4 -1.8L173.9 0.0M181.0 0.0L184.6 -1.8L186.4 -3.5L188.1 -7.1L188.1 -14.2L186.4 -17.8L184.6 -19.5L181.0 -21.3" fill="none" stroke="#000" stroke-width="6.0" stroke-linecap="butt" stroke-linejoin="round"/>
<path transform="translate(2266.0 99.4) translate(-71.0 0)" d="M10.6 -30.2L14.2 -31.9L19.5 -37.3L19.5 0.0M17.8 -35.5L17.8 0.0M10.6 0.0L26.6 0.0M63.9 -24.8L62.1 -19.5L58.6 -16.0L53.2 -14.2L51.5 -14.2L46.1 -16.0L42.6 -19.5L40.8 -24.8L40.8 -26.6L42.6 -31.9L46.1 -35.5L51.5 -37.3L55.0 -37.3L60.3 -35.5L63.9 -31.9L65.7 -26.6L65.7 -16.0L63.9 -8.9L62.1 -5.3L58.6 -1.8L53.2 0.0L47.9 0.0L44.4 -1.8L42.6 -5.3L42.6 -7.1L44.4 -8.9L46.1 -7.1L44.4 -5.3M51.5 -14.2L47.9 -16.0L44.4 -19.5L42.6 -24.8L42.6 -26.6L44.4 -31.9L47.9 -35.5L51.5 -37.3M55.0 -37.3L58.6 -35.5L62.1 -31.9L63.9 -26.6L63.9 -16.0L62.1 -8.9L60.3 -5.3L56.8 -1.8L53.2 0.0M99.4 -24.8L97.6 -19.5L94.1 -16.0L88.8 -14.2L87.0 -14.2L81.6 -16.0L78.1 -19.5L76.3 -24.8L76.3 -26.6L78.1 -31.9L81.6 -35.5L87.0 -37.3L90.5 -37.3L95.8 -35.5L99.4 -31.9L101.2 -26.6L101.2 -16.0L99.4 -8.9L97.6 -5.3L94.1 -1.8L88.8 0.0L83.4 0.0L79.9 -1.8L78.1 -5.3L78.1 -7.1L79.9 -8.9L81.6 -7.1L79.9 -5.3M87.0 -14.2L83.4 -16.0L79.9 -19.5L78.1 -24.8L78.1 -26.6L79.9 -31.9L83.4 -35.5L87.0 -37.3M90.5 -37.3L94.1 -35.5L97.6 -31.9L99.4 -26.6L99.4 -16.0L97.6 -8.9L95.8 -5.3L92.3 -1.8L88.8 0.0M117.1 -30.2L120.7 -31.9L126.0 -37.3L126.0 0.0M124.2 -35.5L124.2 0.0M117.1 0.0L133.1 0.0" fill="none" stroke="#000" stroke-width="6.0" stroke-linecap="butt" stroke-linejoin="round"/>
<path transform="translate(228.3 539.7) translate(-35.5 0)" d="M7.1 -30.2L8.9 -28.4L7.1 -26.6L5.3 -28.4L5.3 -30.2L7.1 -33.7L8.9 -35.5L14.2 -37.3L21.3 -37.3L26.6 -35.5L28.4 -33.7L30.2 -30.2L30.2 -26.6L28.4 -23.1L23.1 -19.5L14.2 -16.0L10.6 -14.2L7.1 -10.6L5.3 -5.3L5.3 0.0M21.3 -37.3L24.8 -35.5L26.6 -33.7L28.4 -30.2L28.4 -26.6L26.6 -23.1L21.3 -19.5L14.2 -16.0M5.3 -3.5L7.1 -5.3L10.6 -5.3L19.5 -1.8L24.8 -1.8L28.4 -3.5L30.2 -5.3M10.6 -5.3L19.5 0.0L26.6 0.0L28.4 -1.8L30.2 -5.3L30.2 -8.9" fill="none" stroke="#000" stroke-width="6.0" stroke-linecap="butt" stroke-linejoin="round"/>
<path transform="translate(228.3 370.2) translate(-35.5 0)" d="M21.3 -33.7L21.3 0.0M23.1 -37.3L23.1 0.0M23.1 -37.3L3.5 -10.6L31.9 -10.6M16.0 0.0L28.4 0.0" fill="none" stroke="#000" stroke-width="6.0" stroke-linecap="butt" stroke-linejoin="round"/>
<path transform="translate(228.3 200.7) translate(-35.5 0)" d="M26.6 -31.9L24.8 -30.2L26.6 -28.4L28.4 -30.2L28.4 -31.9L26.6 -35.5L23.1 -37.3L17.8 -37.3L12.4 -35.5L8.9 -31.9L7.1 -28.4L5.3 -21.3L5.3 -10.6L7.1 -5.3L10.6 -1.8L16.0 0.0L19.5 0.0L24.8 -1.8L28.4 -5.3L30.2 -10.6L30.2 -12.4L28.4 -17.8L24.8 -21.3L19.5 -23.1L17.8 -23.1L12.4 -21.3L8.9 -17.8L7.1 -12.4M17.8 -37.3L14.2 -35.5L10.6 -31.9L8.9 -28.4L7.1 -21.3L7.1 -10.6L8.9 -5.3L12.4 -1.8L16.0 0.0M19.5 0.0L23.1 -1.8L26.6 -5.3L28.4 -10.6L28.4 -12.4L26.6 -17.8L23.1 -21.3L19.5 -23.1" fill="none" stroke="#000" stroke-width="6.0" stroke-linecap="butt" stroke-linejoin="round"/>
<path transform="translate(148.6 406.0) rotate(-90) translate(-203.6 0)" d="M26.6 -37.3L26.6 0.0M28.4 -37.3L28.4 0.0M26.6 -19.5L23.1 -23.1L19.5 -24.8L16.0 -24.8L10.6 -23.1L7.1 -19.5L5.3 -14.2L5.3 -10.6L7.1 -5.3L10.6 -1.8L16.0 0.0L19.5 0.0L23.1 -1.8L26.6 -5.3M16.0 -24.8L12.4 -23.1L8.9 -19.5L7.1 -14.2L7.1 -10.6L8.9 -5.3L12.4 -1.8L16.0 0.0M21.3 -37.3L28.4 -37.3M26.6 0.0L33.7 0.0M46.1 -37.3L44.4 -35.5L46.1 -33.7L47.9 -35.5L46.1 -37.3M46.1 -24.8L46.1 0.0M47.9 -24.8L47.9 0.0M40.8 -24.8L47.9 -24.8M40.8 0.0L53.2 0.0M79.9 -21.3L81.6 -24.8L81.6 -17.8L79.9 -21.3L78.1 -23.1L74.5 -24.8L67.5 -24.8L63.9 -23.1L62.1 -21.3L62.1 -17.8L63.9 -16.0L67.5 -14.2L76.3 -10.6L79.9 -8.9L81.6 -7.1M62.1 -19.5L63.9 -17.8L67.5 -16.0L76.3 -12.4L79.9 -10.6L81.6 -8.9L81.6 -3.5L79.9 -1.8L76.3 0.0L69.2 0.0L65.7 -1.8L63.9 -3.5L62.1 -7.1L62.1 0.0L63.9 -3.5M95.8 -37.3L95.8 -7.1L97.6 -1.8L101.2 0.0L104.7 0.0L108.3 -1.8L110.0 -5.3M97.6 -37.3L97.6 -7.1L99.4 -1.8L101.2 0.0M90.5 -24.8L104.7 -24.8M122.5 -21.3L122.5 -19.5L120.7 -19.5L120.7 -21.3L122.5 -23.1L126.0 -24.8L133.1 -24.8L136.7 -23.1L138.4 -21.3L140.2 -17.8L140.2 -5.3L142.0 -1.8L143.8 0.0M138.4 -21.3L138.4 -5.3L140.2 -1.8L143.8 0.0L145.5 0.0M138.4 -17.8L136.7 -16.0L126.0 -14.2L120.7 -12.4L118.9 -8.9L118.9 -5.3L120.7 -1.8L126.0 0.0L131.3 0.0L134.9 -1.8L138.4 -5.3M126.0 -14.2L122.5 -12.4L120.7 -8.9L120.7 -5.3L122.5 -1.8L126.0 0.0M158.0 -24.8L158.0 0.0M159.8 -24.8L159.8 0.0M159.8 -19.5L163.3 -23.1L168.6 -24.8L172.2 -24.8L177.5 -23.1L179.3 -19.5L179.3 0.0M172.2 -24.8L175.7 -23.1L177.5 -19.5L177.5 0.0M152.7 -24.8L159.8 -24.8M152.7 0.0L165.1 0.0M172.2 0.0L184.6 0.0M214.8 -19.5L213.0 -17.8L214.8 -16.0L216.5 -17.8L216.5 -19.5L213.0 -23.1L209.4 -24.8L204.1 -24.8L198.8 -23.1L195.2 -19.5L193.5 -14.2L193.5 -10.6L195.2 -5.3L198.8 -1.8L204.1 0.0L207.7 0.0L213.0 -1.8L216.5 -5.3M204.1 -24.8L200.6 -23.1L197.0 -19.5L195.2 -14.2L195.2 -10.6L197.0 -5.3L200.6 -1.8L204.1 0.0M229.0 -14.2L250.3 -14.2L250.3 -17.8L248.5 -21.3L246.7 -23.1L243.2 -24.8L237.8 -24.8L232.5 -23.1L229.0 -19.5L227.2 -14.2L227.2 -10.6L229.0 -5.3L232.5 -1.8L237.8 0.0L241.4 0.0L246.7 -1.8L250.3 -5.3M248.5 -14.2L248.5 -19.5L246.7 -23.1M237.8 -24.8L234.3 -23.1L230.8 -19.5L229.0 -14.2L229.0 -10.6L230.8 -5.3L234.3 -1.8L237.8 0.0M290.0 -44.4L290.0 12.4M291.8 -44.4L291.8 12.4M290.0 -44.4L302.5 -44.4M290.0 12.4L302.5 12.4M316.7 -21.3L316.7 -19.5L314.9 -19.5L314.9 -21.3L316.7 -23.1L320.2 -24.8L327.3 -24.8L330.9 -23.1L332.6 -21.3L334.4 -17.8L334.4 -5.3L336.2 -1.8L338.0 0.0M332.6 -21.3L332.6 -5.3L334.4 -1.8L338.0 0.0L339.7 0.0M332.6 -17.8L330.9 -16.0L320.2 -14.2L314.9 -12.4L313.1 -8.9L313.1 -5.3L314.9 -1.8L320.2 0.0L325.5 0.0L329.1 -1.8L332.6 -5.3M320.2 -14.2L316.7 -12.4L314.9 -8.9L314.9 -5.3L316.7 -1.8L320.2 0.0M352.2 -24.8L352.2 -5.3L353.9 -1.8L359.3 0.0L362.8 0.0L368.1 -1.8L371.7 -5.3M353.9 -24.8L353.9 -5.3L355.7 -1.8L359.3 0.0M371.7 -24.8L371.7 0.0M373.5 -24.8L373.5 0.0M346.8 -24.8L353.9 -24.8M366.4 -24.8L373.5 -24.8M371.7 0.0L378.8 0.0M398.3 -44.4L398.3 12.4M400.1 -44.4L400.1 12.4M387.7 -44.4L400.1 -44.4M387.7 12.4L400.1 12.4" fill="none" stroke="#000" stroke-width="6.0" stroke-linecap="butt" stroke-linejoin="round"/>
<path transform="translate(2195.0 282.5) translate(-478.9 0)" d="M30.2 -31.9L31.9 -26.6L31.9 -37.3L30.2 -31.9L26.6 -35.5L21.3 -37.3L17.8 -37.3L12.4 -35.5L8.9 -31.9L7.1 -28.4L5.3 -23.1L5.3 -14.2L7.1 -8.9L8.9 -5.3L12.4 -1.8L17.8 0.0L21.3 0.0L26.6 -1.8L30.2 -5.3L31.9 -8.9M17.8 -37.3L14.2 -35.5L10.6 -31.9L8.9 -28.4L7.1 -23.1L7.1 -14.2L8.9 -8.9L10.6 -5.3L14.2 -1.8L17.8 0.0M72.8 -44.4L40.8 12.4M87.0 -30.2L90.5 -31.9L95.8 -37.3L95.8 0.0M94.1 -35.5L94.1 0.0M87.0 0.0L102.9 0.0M140.2 -24.8L138.4 -19.5L134.9 -16.0L129.6 -14.2L127.8 -14.2L122.5 -16.0L118.9 -19.5L117.1 -24.8L117.1 -26.6L118.9 -31.9L122.5 -35.5L127.8 -37.3L131.3 -37.3L136.7 -35.5L140.2 -31.9L142.0 -26.6L142.0 -16.0L140.2 -8.9L138.4 -5.3L134.9 -1.8L129.6 0.0L124.2 0.0L120.7 -1.8L118.9 -5.3L118.9 -7.1L120.7 -8.9L122.5 -7.1L120.7 -5.3M127.8 -14.2L124.2 -16.0L120.7 -19.5L118.9 -24.8L118.9 -26.6L120.7 -31.9L124.2 -35.5L127.8 -37.3M131.3 -37.3L134.9 -35.5L138.4 -31.9L140.2 -26.6L140.2 -16.0L138.4 -8.9L136.7 -5.3L133.1 -1.8L129.6 0.0M175.7 -24.8L173.9 -19.5L170.4 -16.0L165.1 -14.2L163.3 -14.2L158.0 -16.0L154.4 -19.5L152.7 -24.8L152.7 -26.6L154.4 -31.9L158.0 -35.5L163.3 -37.3L166.8 -37.3L172.2 -35.5L175.7 -31.9L177.5 -26.6L177.5 -16.0L175.7 -8.9L173.9 -5.3L170.4 -1.8L165.1 0.0L159.8 0.0L156.2 -1.8L154.4 -5.3L154.4 -7.1L156.2 -8.9L158.0 -7.1L156.2 -5.3M163.3 -14.2L159.8 -16.0L156.2 -19.5L154.4 -24.8L154.4 -26.6L156.2 -31.9L159.8 -35.5L163.3 -37.3M166.8 -37.3L170.4 -35.5L173.9 -31.9L175.7 -26.6L175.7 -16.0L173.9 -8.9L172.2 -5.3L168.6 -1.8L165.1 0.0M198.8 -37.3L193.5 -35.5L189.9 -30.2L188.1 -21.3L188.1 -16.0L189.9 -7.1L193.5 -1.8L198.8 0.0L202.3 0.0L207.7 -1.8L211.2 -7.1L213.0 -16.0L213.0 -21.3L211.2 -30.2L207.7 -35.5L202.3 -37.3L198.8 -37.3M198.8 -37.3L195.2 -35.5L193.5 -33.7L191.7 -30.2L189.9 -21.3L189.9 -16.0L191.7 -7.1L193.5 -3.5L195.2 -1.8L198.8 0.0M202.3 0.0L205.9 -1.8L207.7 -3.5L209.4 -7.1L211.2 -16.0L211.2 -21.3L209.4 -30.2L207.7 -33.7L205.9 -35.5L202.3 -37.3M254.5 -37.3L254.5 0.0M256.3 -37.3L256.3 0.0M279.4 -37.3L256.3 -14.2M265.2 -21.3L279.4 0.0M263.4 -21.3L277.6 0.0M249.2 -37.3L261.6 -37.3M272.3 -37.3L282.9 -37.3M249.2 0.0L261.6 0.0M272.3 0.0L282.9 0.0M295.4 -30.2L298.9 -31.9L304.2 -37.3L304.2 0.0M302.5 -35.5L302.5 0.0M295.4 0.0L311.3 0.0M356.4 -37.3L356.4 0.0M358.2 -37.3L358.2 0.0M351.1 -37.3L363.5 -37.3M351.1 0.0L377.7 0.0L377.7 -10.6L375.9 0.0M386.6 -14.2L407.9 -14.2L407.9 -17.8L406.1 -21.3L404.3 -23.1L400.8 -24.8L395.5 -24.8L390.1 -23.1L386.6 -19.5L384.8 -14.2L384.8 -10.6L386.6 -5.3L390.1 -1.8L395.5 0.0L399.0 0.0L404.3 -1.8L407.9 -5.3M406.1 -14.2L406.1 -19.5L404.3 -23.1M395.5 -24.8L391.9 -23.1L388.4 -19.5L386.6 -14.2L386.6 -10.6L388.4 -5.3L391.9 -1.8L395.5 0.0M418.5 -24.8L429.2 0.0M420.3 -24.8L429.2 -3.5M439.8 -24.8L429.2 0.0M415.0 -24.8L425.6 -24.8M432.7 -24.8L443.4 -24.8M452.3 -24.8L462.9 0.0M454.0 -24.8L462.9 -3.5M473.6 -24.8L462.9 0.0L459.4 7.1L455.8 10.6L452.3 12.4L450.5 12.4L448.7 10.6L450.5 8.9L452.3 10.6M448.7 -24.8L459.4 -24.8M466.5 -24.8L477.1 -24.8" fill="none" stroke="#000" stroke-width="5.4" stroke-linecap="butt" stroke-linejoin="round"/>
<rect x="260.0" y="1091.8" width="2006.0" height="72.6" fill="#e6e6e6"/>
<path d="M360.8 1040.8a11 11 0 1 0 22 0a11 11 0 1 0 -22 0M360.8 1057.6a11 11 0 1 0 22 0a11 11 0 1 0 -22 0M373.0 1066.7a11 11 0 1 0 22 0a11 11 0 1 0 -22 0M382.1 1083.5a11 11 0 1 0 22 0a11 11 0 1 0 -22 0M360.1 1101.6a11 11 0 1 0 22 0a11 11 0 1 0 -22 0M370.4 1114.6a11 11 0 1 0 22 0a11 11 0 1 0 -22 0M365.2 1130.1a11 11 0 1 0 22 0a11 11 0 1 0 -22 0M367.8 1140.5a11 11 0 1 0 22 0a11 11 0 1 0 -22 0M360.8 1148.2a11 11 0 1 0 22 0a11 11 0 1 0 -22 0M360.8 1161.2a11 11 0 1 0 22 0a11 11 0 1 0 -22 0M362.6 1171.5a11 11 0 1 0 22 0a11 11 0 1 0 -22 0M402.2 1060.2a11 11 0 1 0 22 0a11 11 0 1 0 -22 0M406.6 1075.8a11 11 0 1 0 22 0a11 11 0 1 0 -22 0M418.3 1082.2a11 11 0 1 0 22 0a11 11 0 1 0 -22 0M424.8 1088.7a11 11 0 1 0 22 0a11 11 0 1 0 -22 0M401.5 1096.5a11 11 0 1 0 22 0a11 11 0 1 0 -22 0M417.0 1101.6a11 11 0 1 0 22 0a11 11 0 1 0 -22 0M406.6 1114.6a11 11 0 1 0 22 0a11 11 0 1 0 -22 0M424.8 1119.8a11 11 0 1 0 22 0a11 11 0 1 0 -22 0M398.9 1132.7a11 11 0 1 0 22 0a11 11 0 1 0 -22 0M414.4 1137.9a11 11 0 1 0 22 0a11 11 0 1 0 -22 0M429.9 1135.3a11 11 0 1 0 22 0a11 11 0 1 0 -22 0M404.1 1148.2a11 11 0 1 0 22 0a11 11 0 1 0 -22 0M419.6 1156.0a11 11 0 1 0 22 0a11 11 0 1 0 -22 0M409.2 1166.3a11 11 0 1 0 22 0a11 11 0 1 0 -22 0M424.8 1171.5a11 11 0 1 0 22 0a11 11 0 1 0 -22 0M418.3 1179.3a11 11 0 1 0 22 0a11 11 0 1 0 -22 0M401.5 1161.2a11 11 0 1 0 22 0a11 11 0 1 0 -22 0M457.1 1044.7a11 11 0 1 0 22 0a11 11 0 1 0 -22 0M457.1 1077.0a11 11 0 1 0 22 0a11 11 0 1 0 -22 0M445.5 1104.2a11 11 0 1 0 22 0a11 11 0 1 0 -22 0M442.9 1119.8a11 11 0 1 0 22 0a11 11 0 1 0 -22 0M450.6 1135.3a11 11 0 1 0 22 0a11 11 0 1 0 -22 0M455.8 1150.8a11 11 0 1 0 22 0a11 11 0 1 0 -22 0M450.6 1166.3a11 11 0 1 0 22 0a11 11 0 1 0 -22 0M473.9 1148.2a11 11 0 1 0 22 0a11 11 0 1 0 -22 0M477.8 1161.2a11 11 0 1 0 22 0a11 11 0 1 0 -22 0M473.9 1171.5a11 11 0 1 0 22 0a11 11 0 1 0 -22 0M481.7 1156.0a11 11 0 1 0 22 0a11 11 0 1 0 -22 0M498.5 1091.3a11 11 0 1 0 22 0a11 11 0 1 0 -22 0M486.1 1102.9a11 11 0 1 0 22 0a11 11 0 1 0 -22 0M525.7 1126.2a11 11 0 1 0 22 0a11 11 0 1 0 -22 0M507.6 1135.3a11 11 0 1 0 22 0a11 11 0 1 0 -22 0M507.6 1150.8a11 11 0 1 0 22 0a11 11 0 1 0 -22 0M507.6 1174.1a11 11 0 1 0 22 0a11 11 0 1 0 -22 0M559.8 1103.7a11 11 0 1 0 22 0a11 11 0 1 0 -22 0M569.7 1140.5a11 11 0 1 0 22 0a11 11 0 1 0 -22 0M593.0 1124.9a11 11 0 1 0 22 0a11 11 0 1 0 -22 0M593.0 1137.9a11 11 0 1 0 22 0a11 11 0 1 0 -22 0M593.0 1150.8a11 11 0 1 0 22 0a11 11 0 1 0 -22 0M593.0 1158.6a11 11 0 1 0 22 0a11 11 0 1 0 -22 0M593.5 1066.7a11 11 0 1 0 22 0a11 11 0 1 0 -22 0M625.3 1064.1a11 11 0 1 0 22 0a11 11 0 1 0 -22 0M655.9 1056.3a11 11 0 1 0 22 0a11 11 0 1 0 -22 0M678.4 1018.3a11 11 0 1 0 22 0a11 11 0 1 0 -22 0M678.4 1065.4a11 11 0 1 0 22 0a11 11 0 1 0 -22 0M616.3 1091.3a11 11 0 1 0 22 0a11 11 0 1 0 -22 0M634.4 1083.5a11 11 0 1 0 22 0a11 11 0 1 0 -22 0M611.1 1109.4a11 11 0 1 0 22 0a11 11 0 1 0 -22 0M613.7 1124.9a11 11 0 1 0 22 0a11 11 0 1 0 -22 0M623.3 1196.1a11 11 0 1 0 22 0a11 11 0 1 0 -22 0M603.8 1217.6a11 11 0 1 0 22 0a11 11 0 1 0 -22 0M728.8 1192.2a11 11 0 1 0 22 0a11 11 0 1 0 -22 0M714.6 1176.7a11 11 0 1 0 22 0a11 11 0 1 0 -22 0M756.0 1210.3a11 11 0 1 0 22 0a11 11 0 1 0 -22 0M785.8 1222.0a11 11 0 1 0 22 0a11 11 0 1 0 -22 0M797.4 1065.4a11 11 0 1 0 22 0a11 11 0 1 0 -22 0M784.5 1070.6a11 11 0 1 0 22 0a11 11 0 1 0 -22 0M710.7 1060.2a11 11 0 1 0 22 0a11 11 0 1 0 -22 0M696.5 1075.8a11 11 0 1 0 22 0a11 11 0 1 0 -22 0M769.0 1083.5a11 11 0 1 0 22 0a11 11 0 1 0 -22 0M824.5 1101.6a11 11 0 1 0 22 0a11 11 0 1 0 -22 0M821.9 1119.8a11 11 0 1 0 22 0a11 11 0 1 0 -22 0M827.1 1135.3a11 11 0 1 0 22 0a11 11 0 1 0 -22 0M824.5 1153.4a11 11 0 1 0 22 0a11 11 0 1 0 -22 0M823.2 1166.3a11 11 0 1 0 22 0a11 11 0 1 0 -22 0M873.7 1079.6a11 11 0 1 0 22 0a11 11 0 1 0 -22 0M864.6 1176.7a11 11 0 1 0 22 0a11 11 0 1 0 -22 0M863.3 1194.8a11 11 0 1 0 22 0a11 11 0 1 0 -22 0M862.1 1212.9a11 11 0 1 0 22 0a11 11 0 1 0 -22 0M860.8 1184.5a11 11 0 1 0 22 0a11 11 0 1 0 -22 0M871.1 1161.2a11 11 0 1 0 22 0a11 11 0 1 0 -22 0M919.0 1062.8a11 11 0 1 0 22 0a11 11 0 1 0 -22 0M919.0 1088.7a11 11 0 1 0 22 0a11 11 0 1 0 -22 0M900.9 1189.6a11 11 0 1 0 22 0a11 11 0 1 0 -22 0M902.2 1192.2a11 11 0 1 0 22 0a11 11 0 1 0 -22 0M931.9 1215.5a11 11 0 1 0 22 0a11 11 0 1 0 -22 0M930.6 1205.2a11 11 0 1 0 22 0a11 11 0 1 0 -22 0M928.0 1176.7a11 11 0 1 0 22 0a11 11 0 1 0 -22 0M959.1 1042.1a11 11 0 1 0 22 0a11 11 0 1 0 -22 0M946.2 1055.1a11 11 0 1 0 22 0a11 11 0 1 0 -22 0M941.0 1068.0a11 11 0 1 0 22 0a11 11 0 1 0 -22 0M981.1 1223.3a11 11 0 1 0 22 0a11 11 0 1 0 -22 0M977.2 1207.7a11 11 0 1 0 22 0a11 11 0 1 0 -22 0M974.6 1192.2a11 11 0 1 0 22 0a11 11 0 1 0 -22 0M1014.7 1040.8a11 11 0 1 0 22 0a11 11 0 1 0 -22 0M1005.7 1073.2a11 11 0 1 0 22 0a11 11 0 1 0 -22 0M1034.2 1062.8a11 11 0 1 0 22 0a11 11 0 1 0 -22 0M1013.5 1207.7a11 11 0 1 0 22 0a11 11 0 1 0 -22 0M1009.6 1194.8a11 11 0 1 0 22 0a11 11 0 1 0 -22 0M1073.0 1042.1a11 11 0 1 0 22 0a11 11 0 1 0 -22 0M1073.0 1057.6a11 11 0 1 0 22 0a11 11 0 1 0 -22 0M1057.4 1228.4a11 11 0 1 0 22 0a11 11 0 1 0 -22 0M1056.2 1212.9a11 11 0 1 0 22 0a11 11 0 1 0 -22 0M1054.9 1194.8a11 11 0 1 0 22 0a11 11 0 1 0 -22 0M1114.4 1096.5a11 11 0 1 0 22 0a11 11 0 1 0 -22 0M1137.7 1097.8a11 11 0 1 0 22 0a11 11 0 1 0 -22 0M1104.0 1156.0a11 11 0 1 0 22 0a11 11 0 1 0 -22 0M1104.0 1184.5a11 11 0 1 0 22 0a11 11 0 1 0 -22 0M1114.4 1161.2a11 11 0 1 0 22 0a11 11 0 1 0 -22 0M1171.3 1104.2a11 11 0 1 0 22 0a11 11 0 1 0 -22 0M1181.7 1096.5a11 11 0 1 0 22 0a11 11 0 1 0 -22 0M1168.7 1109.4a11 11 0 1 0 22 0a11 11 0 1 0 -22 0M1148.0 1145.6a11 11 0 1 0 22 0a11 11 0 1 0 -22 0M1161.0 1145.6a11 11 0 1 0 22 0a11 11 0 1 0 -22 0M1179.1 1140.5a11 11 0 1 0 22 0a11 11 0 1 0 -22 0M1206.8 1026.6a11 11 0 1 0 22 0a11 11 0 1 0 -22 0M1234.7 1062.8a11 11 0 1 0 22 0a11 11 0 1 0 -22 0M1254.1 1082.2a11 11 0 1 0 22 0a11 11 0 1 0 -22 0M1269.7 1114.6a11 11 0 1 0 22 0a11 11 0 1 0 -22 0M1282.6 1119.8a11 11 0 1 0 22 0a11 11 0 1 0 -22 0M1264.5 1130.1a11 11 0 1 0 22 0a11 11 0 1 0 -22 0M1232.1 1158.6a11 11 0 1 0 22 0a11 11 0 1 0 -22 0M1230.8 1166.3a11 11 0 1 0 22 0a11 11 0 1 0 -22 0M1245.1 1179.3a11 11 0 1 0 22 0a11 11 0 1 0 -22 0M1273.5 1174.1a11 11 0 1 0 22 0a11 11 0 1 0 -22 0M1259.3 1145.6a11 11 0 1 0 22 0a11 11 0 1 0 -22 0M1283.9 1201.3a11 11 0 1 0 22 0a11 11 0 1 0 -22 0M1273.5 1228.4a11 11 0 1 0 22 0a11 11 0 1 0 -22 0M1273.5 1212.9a11 11 0 1 0 22 0a11 11 0 1 0 -22 0M1466.5 1091.3a11 11 0 1 0 22 0a11 11 0 1 0 -22 0M1533.8 1079.6a11 11 0 1 0 22 0a11 11 0 1 0 -22 0M1533.8 1088.7a11 11 0 1 0 22 0a11 11 0 1 0 -22 0M1553.2 1082.2a11 11 0 1 0 22 0a11 11 0 1 0 -22 0M1573.4 1077.0a11 11 0 1 0 22 0a11 11 0 1 0 -22 0M612.8 1122.9a11 11 0 1 0 22 0a11 11 0 1 0 -22 0M613.3 1106.7a11 11 0 1 0 22 0a11 11 0 1 0 -22 0M650.7 1114.2a11 11 0 1 0 22 0a11 11 0 1 0 -22 0M644.5 1088.1a11 11 0 1 0 22 0a11 11 0 1 0 -22 0M636.3 1138.2a11 11 0 1 0 22 0a11 11 0 1 0 -22 0M636.1 1123.3a11 11 0 1 0 22 0a11 11 0 1 0 -22 0M627.7 1147.9a11 11 0 1 0 22 0a11 11 0 1 0 -22 0M628.7 1125.9a11 11 0 1 0 22 0a11 11 0 1 0 -22 0M623.4 1155.3a11 11 0 1 0 22 0a11 11 0 1 0 -22 0M623.4 1098.5a11 11 0 1 0 22 0a11 11 0 1 0 -22 0M634.8 1091.2a11 11 0 1 0 22 0a11 11 0 1 0 -22 0M616.8 1126.1a11 11 0 1 0 22 0a11 11 0 1 0 -22 0M637.6 1119.2a11 11 0 1 0 22 0a11 11 0 1 0 -22 0M626.6 1085.7a11 11 0 1 0 22 0a11 11 0 1 0 -22 0M664.7 1115.2a11 11 0 1 0 22 0a11 11 0 1 0 -22 0M674.4 1113.4a11 11 0 1 0 22 0a11 11 0 1 0 -22 0M692.3 1148.1a11 11 0 1 0 22 0a11 11 0 1 0 -22 0M658.4 1103.8a11 11 0 1 0 22 0a11 11 0 1 0 -22 0M673.8 1088.9a11 11 0 1 0 22 0a11 11 0 1 0 -22 0M699.8 1112.6a11 11 0 1 0 22 0a11 11 0 1 0 -22 0M685.2 1157.4a11 11 0 1 0 22 0a11 11 0 1 0 -22 0M705.9 1095.2a11 11 0 1 0 22 0a11 11 0 1 0 -22 0M652.2 1085.2a11 11 0 1 0 22 0a11 11 0 1 0 -22 0M666.2 1072.5a11 11 0 1 0 22 0a11 11 0 1 0 -22 0M671.7 1095.7a11 11 0 1 0 22 0a11 11 0 1 0 -22 0M665.0 1113.9a11 11 0 1 0 22 0a11 11 0 1 0 -22 0M692.4 1096.1a11 11 0 1 0 22 0a11 11 0 1 0 -22 0M680.4 1101.9a11 11 0 1 0 22 0a11 11 0 1 0 -22 0M680.2 1095.5a11 11 0 1 0 22 0a11 11 0 1 0 -22 0M682.8 1112.8a11 11 0 1 0 22 0a11 11 0 1 0 -22 0M770.9 1144.8a11 11 0 1 0 22 0a11 11 0 1 0 -22 0M739.6 1094.7a11 11 0 1 0 22 0a11 11 0 1 0 -22 0M772.6 1193.5a11 11 0 1 0 22 0a11 11 0 1 0 -22 0M781.4 1123.3a11 11 0 1 0 22 0a11 11 0 1 0 -22 0M721.1 1112.6a11 11 0 1 0 22 0a11 11 0 1 0 -22 0M702.9 1168.6a11 11 0 1 0 22 0a11 11 0 1 0 -22 0M753.8 1076.4a11 11 0 1 0 22 0a11 11 0 1 0 -22 0M732.5 1128.0a11 11 0 1 0 22 0a11 11 0 1 0 -22 0M713.7 1119.0a11 11 0 1 0 22 0a11 11 0 1 0 -22 0M753.7 1147.4a11 11 0 1 0 22 0a11 11 0 1 0 -22 0M752.7 1110.7a11 11 0 1 0 22 0a11 11 0 1 0 -22 0M760.8 1078.7a11 11 0 1 0 22 0a11 11 0 1 0 -22 0M722.3 1175.3a11 11 0 1 0 22 0a11 11 0 1 0 -22 0M752.1 1107.6a11 11 0 1 0 22 0a11 11 0 1 0 -22 0M754.4 1171.4a11 11 0 1 0 22 0a11 11 0 1 0 -22 0M768.4 1108.3a11 11 0 1 0 22 0a11 11 0 1 0 -22 0M710.8 1165.8a11 11 0 1 0 22 0a11 11 0 1 0 -22 0M748.2 1120.0a11 11 0 1 0 22 0a11 11 0 1 0 -22 0M719.2 1072.8a11 11 0 1 0 22 0a11 11 0 1 0 -22 0M740.1 1173.6a11 11 0 1 0 22 0a11 11 0 1 0 -22 0M743.1 1123.9a11 11 0 1 0 22 0a11 11 0 1 0 -22 0M779.8 1182.1a11 11 0 1 0 22 0a11 11 0 1 0 -22 0M714.3 1083.1a11 11 0 1 0 22 0a11 11 0 1 0 -22 0M713.8 1098.8a11 11 0 1 0 22 0a11 11 0 1 0 -22 0M733.6 1148.7a11 11 0 1 0 22 0a11 11 0 1 0 -22 0M739.5 1152.8a11 11 0 1 0 22 0a11 11 0 1 0 -22 0M731.4 1126.7a11 11 0 1 0 22 0a11 11 0 1 0 -22 0M763.4 1116.9a11 11 0 1 0 22 0a11 11 0 1 0 -22 0M712.9 1138.9a11 11 0 1 0 22 0a11 11 0 1 0 -22 0M721.9 1118.4a11 11 0 1 0 22 0a11 11 0 1 0 -22 0M749.9 1185.9a11 11 0 1 0 22 0a11 11 0 1 0 -22 0M732.4 1159.7a11 11 0 1 0 22 0a11 11 0 1 0 -22 0M752.6 1165.4a11 11 0 1 0 22 0a11 11 0 1 0 -22 0M735.2 1174.5a11 11 0 1 0 22 0a11 11 0 1 0 -22 0M724.5 1151.2a11 11 0 1 0 22 0a11 11 0 1 0 -22 0M749.9 1168.4a11 11 0 1 0 22 0a11 11 0 1 0 -22 0M728.9 1155.5a11 11 0 1 0 22 0a11 11 0 1 0 -22 0M741.3 1179.4a11 11 0 1 0 22 0a11 11 0 1 0 -22 0M762.4 1141.6a11 11 0 1 0 22 0a11 11 0 1 0 -22 0M730.6 1193.0a11 11 0 1 0 22 0a11 11 0 1 0 -22 0M759.8 1155.7a11 11 0 1 0 22 0a11 11 0 1 0 -22 0M761.1 1141.2a11 11 0 1 0 22 0a11 11 0 1 0 -22 0M797.9 1107.6a11 11 0 1 0 22 0a11 11 0 1 0 -22 0M779.0 1091.0a11 11 0 1 0 22 0a11 11 0 1 0 -22 0M810.8 1183.6a11 11 0 1 0 22 0a11 11 0 1 0 -22 0M789.9 1095.0a11 11 0 1 0 22 0a11 11 0 1 0 -22 0M780.1 1106.6a11 11 0 1 0 22 0a11 11 0 1 0 -22 0M805.3 1105.9a11 11 0 1 0 22 0a11 11 0 1 0 -22 0M811.4 1142.3a11 11 0 1 0 22 0a11 11 0 1 0 -22 0M790.4 1118.9a11 11 0 1 0 22 0a11 11 0 1 0 -22 0M787.1 1163.7a11 11 0 1 0 22 0a11 11 0 1 0 -22 0M817.2 1147.6a11 11 0 1 0 22 0a11 11 0 1 0 -22 0M831.2 1105.0a11 11 0 1 0 22 0a11 11 0 1 0 -22 0M819.8 1140.6a11 11 0 1 0 22 0a11 11 0 1 0 -22 0M824.8 1095.6a11 11 0 1 0 22 0a11 11 0 1 0 -22 0M789.2 1094.1a11 11 0 1 0 22 0a11 11 0 1 0 -22 0M810.3 1124.1a11 11 0 1 0 22 0a11 11 0 1 0 -22 0M808.8 1152.9a11 11 0 1 0 22 0a11 11 0 1 0 -22 0M818.0 1087.7a11 11 0 1 0 22 0a11 11 0 1 0 -22 0M789.1 1153.4a11 11 0 1 0 22 0a11 11 0 1 0 -22 0M879.0 1110.5a11 11 0 1 0 22 0a11 11 0 1 0 -22 0M883.3 1156.4a11 11 0 1 0 22 0a11 11 0 1 0 -22 0M865.4 1121.6a11 11 0 1 0 22 0a11 11 0 1 0 -22 0M867.8 1115.4a11 11 0 1 0 22 0a11 11 0 1 0 -22 0M885.6 1173.4a11 11 0 1 0 22 0a11 11 0 1 0 -22 0M914.4 1086.2a11 11 0 1 0 22 0a11 11 0 1 0 -22 0M857.0 1201.8a11 11 0 1 0 22 0a11 11 0 1 0 -22 0M863.9 1190.7a11 11 0 1 0 22 0a11 11 0 1 0 -22 0M864.6 1168.6a11 11 0 1 0 22 0a11 11 0 1 0 -22 0M877.1 1111.7a11 11 0 1 0 22 0a11 11 0 1 0 -22 0M905.9 1150.7a11 11 0 1 0 22 0a11 11 0 1 0 -22 0M852.3 1147.8a11 11 0 1 0 22 0a11 11 0 1 0 -22 0M854.4 1154.4a11 11 0 1 0 22 0a11 11 0 1 0 -22 0M874.8 1160.3a11 11 0 1 0 22 0a11 11 0 1 0 -22 0M914.7 1121.8a11 11 0 1 0 22 0a11 11 0 1 0 -22 0M903.1 1134.3a11 11 0 1 0 22 0a11 11 0 1 0 -22 0M884.2 1170.7a11 11 0 1 0 22 0a11 11 0 1 0 -22 0M864.4 1170.5a11 11 0 1 0 22 0a11 11 0 1 0 -22 0M876.2 1144.9a11 11 0 1 0 22 0a11 11 0 1 0 -22 0M858.8 1105.1a11 11 0 1 0 22 0a11 11 0 1 0 -22 0M866.7 1198.1a11 11 0 1 0 22 0a11 11 0 1 0 -22 0M897.7 1124.2a11 11 0 1 0 22 0a11 11 0 1 0 -22 0M981.2 1168.4a11 11 0 1 0 22 0a11 11 0 1 0 -22 0M923.5 1138.5a11 11 0 1 0 22 0a11 11 0 1 0 -22 0M973.8 1083.1a11 11 0 1 0 22 0a11 11 0 1 0 -22 0M979.6 1058.8a11 11 0 1 0 22 0a11 11 0 1 0 -22 0M984.5 1160.5a11 11 0 1 0 22 0a11 11 0 1 0 -22 0M931.8 1124.6a11 11 0 1 0 22 0a11 11 0 1 0 -22 0M937.5 1133.5a11 11 0 1 0 22 0a11 11 0 1 0 -22 0M944.6 1087.7a11 11 0 1 0 22 0a11 11 0 1 0 -22 0M924.6 1110.2a11 11 0 1 0 22 0a11 11 0 1 0 -22 0M990.7 1125.5a11 11 0 1 0 22 0a11 11 0 1 0 -22 0M970.6 1108.8a11 11 0 1 0 22 0a11 11 0 1 0 -22 0M936.7 1207.6a11 11 0 1 0 22 0a11 11 0 1 0 -22 0M935.0 1144.1a11 11 0 1 0 22 0a11 11 0 1 0 -22 0M962.3 1172.1a11 11 0 1 0 22 0a11 11 0 1 0 -22 0M933.1 1070.6a11 11 0 1 0 22 0a11 11 0 1 0 -22 0M961.0 1127.0a11 11 0 1 0 22 0a11 11 0 1 0 -22 0M959.9 1127.5a11 11 0 1 0 22 0a11 11 0 1 0 -22 0M947.4 1174.7a11 11 0 1 0 22 0a11 11 0 1 0 -22 0M940.1 1148.1a11 11 0 1 0 22 0a11 11 0 1 0 -22 0M982.5 1060.5a11 11 0 1 0 22 0a11 11 0 1 0 -22 0M991.7 1204.5a11 11 0 1 0 22 0a11 11 0 1 0 -22 0M951.7 1128.4a11 11 0 1 0 22 0a11 11 0 1 0 -22 0M931.1 1074.3a11 11 0 1 0 22 0a11 11 0 1 0 -22 0M934.1 1090.9a11 11 0 1 0 22 0a11 11 0 1 0 -22 0M955.1 1121.0a11 11 0 1 0 22 0a11 11 0 1 0 -22 0M924.6 1127.1a11 11 0 1 0 22 0a11 11 0 1 0 -22 0M953.7 1182.0a11 11 0 1 0 22 0a11 11 0 1 0 -22 0M965.4 1200.3a11 11 0 1 0 22 0a11 11 0 1 0 -22 0M953.6 1138.2a11 11 0 1 0 22 0a11 11 0 1 0 -22 0M921.2 1105.8a11 11 0 1 0 22 0a11 11 0 1 0 -22 0M923.0 1176.0a11 11 0 1 0 22 0a11 11 0 1 0 -22 0M962.8 1121.2a11 11 0 1 0 22 0a11 11 0 1 0 -22 0M975.1 1186.6a11 11 0 1 0 22 0a11 11 0 1 0 -22 0M955.7 1175.9a11 11 0 1 0 22 0a11 11 0 1 0 -22 0M959.1 1156.6a11 11 0 1 0 22 0a11 11 0 1 0 -22 0M974.0 1192.5a11 11 0 1 0 22 0a11 11 0 1 0 -22 0M971.9 1165.0a11 11 0 1 0 22 0a11 11 0 1 0 -22 0M955.5 1066.6a11 11 0 1 0 22 0a11 11 0 1 0 -22 0M992.2 1133.6a11 11 0 1 0 22 0a11 11 0 1 0 -22 0M985.7 1115.3a11 11 0 1 0 22 0a11 11 0 1 0 -22 0M923.6 1096.9a11 11 0 1 0 22 0a11 11 0 1 0 -22 0M991.5 1110.5a11 11 0 1 0 22 0a11 11 0 1 0 -22 0M934.0 1183.0a11 11 0 1 0 22 0a11 11 0 1 0 -22 0M921.2 1181.6a11 11 0 1 0 22 0a11 11 0 1 0 -22 0M980.5 1189.5a11 11 0 1 0 22 0a11 11 0 1 0 -22 0M932.9 1184.0a11 11 0 1 0 22 0a11 11 0 1 0 -22 0M979.9 1187.4a11 11 0 1 0 22 0a11 11 0 1 0 -22 0M971.3 1167.0a11 11 0 1 0 22 0a11 11 0 1 0 -22 0M945.3 1178.9a11 11 0 1 0 22 0a11 11 0 1 0 -22 0M966.0 1206.9a11 11 0 1 0 22 0a11 11 0 1 0 -22 0M928.1 1198.0a11 11 0 1 0 22 0a11 11 0 1 0 -22 0M960.2 1176.5a11 11 0 1 0 22 0a11 11 0 1 0 -22 0M1040.3 1110.5a11 11 0 1 0 22 0a11 11 0 1 0 -22 0M1066.2 1131.3a11 11 0 1 0 22 0a11 11 0 1 0 -22 0M1078.1 1147.5a11 11 0 1 0 22 0a11 11 0 1 0 -22 0M1010.9 1203.0a11 11 0 1 0 22 0a11 11 0 1 0 -22 0M1065.3 1110.0a11 11 0 1 0 22 0a11 11 0 1 0 -22 0M997.8 1155.6a11 11 0 1 0 22 0a11 11 0 1 0 -22 0M1038.5 1111.1a11 11 0 1 0 22 0a11 11 0 1 0 -22 0M1057.8 1132.1a11 11 0 1 0 22 0a11 11 0 1 0 -22 0M1069.5 1091.1a11 11 0 1 0 22 0a11 11 0 1 0 -22 0M1014.6 1145.4a11 11 0 1 0 22 0a11 11 0 1 0 -22 0M1039.6 1164.2a11 11 0 1 0 22 0a11 11 0 1 0 -22 0M1012.6 1077.3a11 11 0 1 0 22 0a11 11 0 1 0 -22 0M1030.1 1149.2a11 11 0 1 0 22 0a11 11 0 1 0 -22 0M999.1 1169.4a11 11 0 1 0 22 0a11 11 0 1 0 -22 0M1020.2 1076.5a11 11 0 1 0 22 0a11 11 0 1 0 -22 0M1013.9 1069.6a11 11 0 1 0 22 0a11 11 0 1 0 -22 0M1029.0 1122.0a11 11 0 1 0 22 0a11 11 0 1 0 -22 0M1030.4 1112.3a11 11 0 1 0 22 0a11 11 0 1 0 -22 0M1053.0 1121.5a11 11 0 1 0 22 0a11 11 0 1 0 -22 0M1048.5 1193.3a11 11 0 1 0 22 0a11 11 0 1 0 -22 0M1040.0 1155.4a11 11 0 1 0 22 0a11 11 0 1 0 -22 0M1032.0 1091.4a11 11 0 1 0 22 0a11 11 0 1 0 -22 0M1050.7 1123.0a11 11 0 1 0 22 0a11 11 0 1 0 -22 0M1017.6 1196.0a11 11 0 1 0 22 0a11 11 0 1 0 -22 0M1002.4 1170.0a11 11 0 1 0 22 0a11 11 0 1 0 -22 0M1005.5 1135.8a11 11 0 1 0 22 0a11 11 0 1 0 -22 0M1048.7 1151.1a11 11 0 1 0 22 0a11 11 0 1 0 -22 0M1061.7 1086.2a11 11 0 1 0 22 0a11 11 0 1 0 -22 0M1046.7 1185.8a11 11 0 1 0 22 0a11 11 0 1 0 -22 0M1050.7 1131.9a11 11 0 1 0 22 0a11 11 0 1 0 -22 0M1033.0 1085.6a11 11 0 1 0 22 0a11 11 0 1 0 -22 0M1001.4 1140.2a11 11 0 1 0 22 0a11 11 0 1 0 -22 0M1077.7 1115.7a11 11 0 1 0 22 0a11 11 0 1 0 -22 0M1077.0 1118.8a11 11 0 1 0 22 0a11 11 0 1 0 -22 0M1068.9 1127.8a11 11 0 1 0 22 0a11 11 0 1 0 -22 0M992.8 1101.6a11 11 0 1 0 22 0a11 11 0 1 0 -22 0M1036.5 1130.7a11 11 0 1 0 22 0a11 11 0 1 0 -22 0M1000.7 1189.6a11 11 0 1 0 22 0a11 11 0 1 0 -22 0M1065.6 1075.0a11 11 0 1 0 22 0a11 11 0 1 0 -22 0M1049.1 1124.8a11 11 0 1 0 22 0a11 11 0 1 0 -22 0M1013.8 1151.7a11 11 0 1 0 22 0a11 11 0 1 0 -22 0M1058.7 1150.1a11 11 0 1 0 22 0a11 11 0 1 0 -22 0M1061.6 1192.8a11 11 0 1 0 22 0a11 11 0 1 0 -22 0M1036.6 1193.4a11 11 0 1 0 22 0a11 11 0 1 0 -22 0M1018.8 1202.7a11 11 0 1 0 22 0a11 11 0 1 0 -22 0M1039.6 1195.0a11 11 0 1 0 22 0a11 11 0 1 0 -22 0M1027.8 1180.6a11 11 0 1 0 22 0a11 11 0 1 0 -22 0M1002.4 1162.2a11 11 0 1 0 22 0a11 11 0 1 0 -22 0M1041.6 1166.0a11 11 0 1 0 22 0a11 11 0 1 0 -22 0M1069.3 1178.7a11 11 0 1 0 22 0a11 11 0 1 0 -22 0M1077.6 1195.6a11 11 0 1 0 22 0a11 11 0 1 0 -22 0M1071.9 1190.1a11 11 0 1 0 22 0a11 11 0 1 0 -22 0" fill="#ff00ff"/>
<path d="M361.1 1057.6a10.7 10.7 0 1 0 21.4 0a10.7 10.7 0 1 0 -21.4 0M382.9 1078.3a10.7 10.7 0 1 0 21.4 0a10.7 10.7 0 1 0 -21.4 0M369.4 1090.0a10.7 10.7 0 1 0 21.4 0a10.7 10.7 0 1 0 -21.4 0M421.7 1096.5a10.7 10.7 0 1 0 21.4 0a10.7 10.7 0 1 0 -21.4 0M399.2 1109.4a10.7 10.7 0 1 0 21.4 0a10.7 10.7 0 1 0 -21.4 0M404.4 1114.6a10.7 10.7 0 1 0 21.4 0a10.7 10.7 0 1 0 -21.4 0M396.6 1119.8a10.7 10.7 0 1 0 21.4 0a10.7 10.7 0 1 0 -21.4 0M409.5 1109.4a10.7 10.7 0 1 0 21.4 0a10.7 10.7 0 1 0 -21.4 0M394.0 1124.9a10.7 10.7 0 1 0 21.4 0a10.7 10.7 0 1 0 -21.4 0M406.9 1124.9a10.7 10.7 0 1 0 21.4 0a10.7 10.7 0 1 0 -21.4 0M401.8 1104.2a10.7 10.7 0 1 0 21.4 0a10.7 10.7 0 1 0 -21.4 0M391.4 1114.6a10.7 10.7 0 1 0 21.4 0a10.7 10.7 0 1 0 -21.4 0M361.1 1145.6a10.7 10.7 0 1 0 21.4 0a10.7 10.7 0 1 0 -21.4 0M362.9 1156.0a10.7 10.7 0 1 0 21.4 0a10.7 10.7 0 1 0 -21.4 0M382.4 1148.2a10.7 10.7 0 1 0 21.4 0a10.7 10.7 0 1 0 -21.4 0M365.5 1168.9a10.7 10.7 0 1 0 21.4 0a10.7 10.7 0 1 0 -21.4 0M368.1 1176.7a10.7 10.7 0 1 0 21.4 0a10.7 10.7 0 1 0 -21.4 0M362.9 1184.5a10.7 10.7 0 1 0 21.4 0a10.7 10.7 0 1 0 -21.4 0M370.7 1187.0a10.7 10.7 0 1 0 21.4 0a10.7 10.7 0 1 0 -21.4 0M366.8 1194.8a10.7 10.7 0 1 0 21.4 0a10.7 10.7 0 1 0 -21.4 0M360.4 1198.7a10.7 10.7 0 1 0 21.4 0a10.7 10.7 0 1 0 -21.4 0M372.0 1194.8a10.7 10.7 0 1 0 21.4 0a10.7 10.7 0 1 0 -21.4 0M368.1 1181.9a10.7 10.7 0 1 0 21.4 0a10.7 10.7 0 1 0 -21.4 0M364.2 1189.6a10.7 10.7 0 1 0 21.4 0a10.7 10.7 0 1 0 -21.4 0M369.4 1172.8a10.7 10.7 0 1 0 21.4 0a10.7 10.7 0 1 0 -21.4 0M361.6 1179.3a10.7 10.7 0 1 0 21.4 0a10.7 10.7 0 1 0 -21.4 0M394.0 1158.6a10.7 10.7 0 1 0 21.4 0a10.7 10.7 0 1 0 -21.4 0M406.9 1145.6a10.7 10.7 0 1 0 21.4 0a10.7 10.7 0 1 0 -21.4 0M417.3 1148.2a10.7 10.7 0 1 0 21.4 0a10.7 10.7 0 1 0 -21.4 0M422.5 1161.2a10.7 10.7 0 1 0 21.4 0a10.7 10.7 0 1 0 -21.4 0M412.1 1161.2a10.7 10.7 0 1 0 21.4 0a10.7 10.7 0 1 0 -21.4 0M419.9 1171.5a10.7 10.7 0 1 0 21.4 0a10.7 10.7 0 1 0 -21.4 0M406.9 1161.2a10.7 10.7 0 1 0 21.4 0a10.7 10.7 0 1 0 -21.4 0M399.2 1150.8a10.7 10.7 0 1 0 21.4 0a10.7 10.7 0 1 0 -21.4 0M427.6 1148.2a10.7 10.7 0 1 0 21.4 0a10.7 10.7 0 1 0 -21.4 0M414.7 1137.9a10.7 10.7 0 1 0 21.4 0a10.7 10.7 0 1 0 -21.4 0M419.9 1132.7a10.7 10.7 0 1 0 21.4 0a10.7 10.7 0 1 0 -21.4 0M401.8 1168.9a10.7 10.7 0 1 0 21.4 0a10.7 10.7 0 1 0 -21.4 0M414.7 1153.4a10.7 10.7 0 1 0 21.4 0a10.7 10.7 0 1 0 -21.4 0M423.8 1140.5a10.7 10.7 0 1 0 21.4 0a10.7 10.7 0 1 0 -21.4 0M408.2 1181.9a10.7 10.7 0 1 0 21.4 0a10.7 10.7 0 1 0 -21.4 0M443.2 1171.5a10.7 10.7 0 1 0 21.4 0a10.7 10.7 0 1 0 -21.4 0M450.2 1113.3a10.7 10.7 0 1 0 21.4 0a10.7 10.7 0 1 0 -21.4 0M450.2 1123.6a10.7 10.7 0 1 0 21.4 0a10.7 10.7 0 1 0 -21.4 0M443.2 1135.3a10.7 10.7 0 1 0 21.4 0a10.7 10.7 0 1 0 -21.4 0M453.5 1156.0a10.7 10.7 0 1 0 21.4 0a10.7 10.7 0 1 0 -21.4 0M458.7 1161.2a10.7 10.7 0 1 0 21.4 0a10.7 10.7 0 1 0 -21.4 0M475.5 1132.7a10.7 10.7 0 1 0 21.4 0a10.7 10.7 0 1 0 -21.4 0M485.9 1128.8a10.7 10.7 0 1 0 21.4 0a10.7 10.7 0 1 0 -21.4 0M498.8 1082.2a10.7 10.7 0 1 0 21.4 0a10.7 10.7 0 1 0 -21.4 0M505.3 1144.3a10.7 10.7 0 1 0 21.4 0a10.7 10.7 0 1 0 -21.4 0M507.9 1150.8a10.7 10.7 0 1 0 21.4 0a10.7 10.7 0 1 0 -21.4 0M507.9 1158.6a10.7 10.7 0 1 0 21.4 0a10.7 10.7 0 1 0 -21.4 0M526.0 1158.6a10.7 10.7 0 1 0 21.4 0a10.7 10.7 0 1 0 -21.4 0M507.9 1176.7a10.7 10.7 0 1 0 21.4 0a10.7 10.7 0 1 0 -21.4 0M466.5 1203.9a10.7 10.7 0 1 0 21.4 0a10.7 10.7 0 1 0 -21.4 0M559.6 1152.1a10.7 10.7 0 1 0 21.4 0a10.7 10.7 0 1 0 -21.4 0M568.7 1172.8a10.7 10.7 0 1 0 21.4 0a10.7 10.7 0 1 0 -21.4 0M593.3 1123.6a10.7 10.7 0 1 0 21.4 0a10.7 10.7 0 1 0 -21.4 0M603.6 1127.5a10.7 10.7 0 1 0 21.4 0a10.7 10.7 0 1 0 -21.4 0M593.3 1140.5a10.7 10.7 0 1 0 21.4 0a10.7 10.7 0 1 0 -21.4 0M593.3 1153.4a10.7 10.7 0 1 0 21.4 0a10.7 10.7 0 1 0 -21.4 0M593.3 1176.7a10.7 10.7 0 1 0 21.4 0a10.7 10.7 0 1 0 -21.4 0M604.9 1174.1a10.7 10.7 0 1 0 21.4 0a10.7 10.7 0 1 0 -21.4 0M612.7 1075.8a10.7 10.7 0 1 0 21.4 0a10.7 10.7 0 1 0 -21.4 0M623.0 1091.3a10.7 10.7 0 1 0 21.4 0a10.7 10.7 0 1 0 -21.4 0M629.5 1119.8a10.7 10.7 0 1 0 21.4 0a10.7 10.7 0 1 0 -21.4 0M630.8 1135.3a10.7 10.7 0 1 0 21.4 0a10.7 10.7 0 1 0 -21.4 0M626.9 1148.2a10.7 10.7 0 1 0 21.4 0a10.7 10.7 0 1 0 -21.4 0M632.1 1161.2a10.7 10.7 0 1 0 21.4 0a10.7 10.7 0 1 0 -21.4 0M637.3 1171.5a10.7 10.7 0 1 0 21.4 0a10.7 10.7 0 1 0 -21.4 0M624.3 1161.2a10.7 10.7 0 1 0 21.4 0a10.7 10.7 0 1 0 -21.4 0M629.5 1130.1a10.7 10.7 0 1 0 21.4 0a10.7 10.7 0 1 0 -21.4 0M655.4 1080.9a10.7 10.7 0 1 0 21.4 0a10.7 10.7 0 1 0 -21.4 0M670.9 1070.6a10.7 10.7 0 1 0 21.4 0a10.7 10.7 0 1 0 -21.4 0M652.8 1093.9a10.7 10.7 0 1 0 21.4 0a10.7 10.7 0 1 0 -21.4 0M650.2 1101.6a10.7 10.7 0 1 0 21.4 0a10.7 10.7 0 1 0 -21.4 0M655.4 1124.9a10.7 10.7 0 1 0 21.4 0a10.7 10.7 0 1 0 -21.4 0M633.4 1229.7a10.7 10.7 0 1 0 21.4 0a10.7 10.7 0 1 0 -21.4 0M663.2 1150.8a10.7 10.7 0 1 0 21.4 0a10.7 10.7 0 1 0 -21.4 0M676.1 1145.6a10.7 10.7 0 1 0 21.4 0a10.7 10.7 0 1 0 -21.4 0M683.9 1145.6a10.7 10.7 0 1 0 21.4 0a10.7 10.7 0 1 0 -21.4 0M678.7 1114.6a10.7 10.7 0 1 0 21.4 0a10.7 10.7 0 1 0 -21.4 0M696.8 1150.8a10.7 10.7 0 1 0 21.4 0a10.7 10.7 0 1 0 -21.4 0M676.1 1166.3a10.7 10.7 0 1 0 21.4 0a10.7 10.7 0 1 0 -21.4 0M677.4 1174.1a10.7 10.7 0 1 0 21.4 0a10.7 10.7 0 1 0 -21.4 0M673.5 1192.2a10.7 10.7 0 1 0 21.4 0a10.7 10.7 0 1 0 -21.4 0M677.4 1216.0a10.7 10.7 0 1 0 21.4 0a10.7 10.7 0 1 0 -21.4 0M712.3 1061.5a10.7 10.7 0 1 0 21.4 0a10.7 10.7 0 1 0 -21.4 0M738.2 1061.5a10.7 10.7 0 1 0 21.4 0a10.7 10.7 0 1 0 -21.4 0M758.9 1060.2a10.7 10.7 0 1 0 21.4 0a10.7 10.7 0 1 0 -21.4 0M758.9 1068.0a10.7 10.7 0 1 0 21.4 0a10.7 10.7 0 1 0 -21.4 0M758.9 1075.8a10.7 10.7 0 1 0 21.4 0a10.7 10.7 0 1 0 -21.4 0M691.6 1088.7a10.7 10.7 0 1 0 21.4 0a10.7 10.7 0 1 0 -21.4 0M702.0 1083.5a10.7 10.7 0 1 0 21.4 0a10.7 10.7 0 1 0 -21.4 0M696.8 1096.5a10.7 10.7 0 1 0 21.4 0a10.7 10.7 0 1 0 -21.4 0M752.4 1184.5a10.7 10.7 0 1 0 21.4 0a10.7 10.7 0 1 0 -21.4 0M766.7 1200.0a10.7 10.7 0 1 0 21.4 0a10.7 10.7 0 1 0 -21.4 0M771.8 1205.2a10.7 10.7 0 1 0 21.4 0a10.7 10.7 0 1 0 -21.4 0M774.4 1209.0a10.7 10.7 0 1 0 21.4 0a10.7 10.7 0 1 0 -21.4 0M784.8 1078.3a10.7 10.7 0 1 0 21.4 0a10.7 10.7 0 1 0 -21.4 0M809.4 1075.8a10.7 10.7 0 1 0 21.4 0a10.7 10.7 0 1 0 -21.4 0M795.1 1096.5a10.7 10.7 0 1 0 21.4 0a10.7 10.7 0 1 0 -21.4 0M808.1 1096.5a10.7 10.7 0 1 0 21.4 0a10.7 10.7 0 1 0 -21.4 0M782.2 1101.6a10.7 10.7 0 1 0 21.4 0a10.7 10.7 0 1 0 -21.4 0M795.1 1184.5a10.7 10.7 0 1 0 21.4 0a10.7 10.7 0 1 0 -21.4 0M808.1 1171.5a10.7 10.7 0 1 0 21.4 0a10.7 10.7 0 1 0 -21.4 0M815.8 1179.3a10.7 10.7 0 1 0 21.4 0a10.7 10.7 0 1 0 -21.4 0M797.7 1158.6a10.7 10.7 0 1 0 21.4 0a10.7 10.7 0 1 0 -21.4 0M790.0 1135.3a10.7 10.7 0 1 0 21.4 0a10.7 10.7 0 1 0 -21.4 0M802.9 1140.5a10.7 10.7 0 1 0 21.4 0a10.7 10.7 0 1 0 -21.4 0M821.0 1135.3a10.7 10.7 0 1 0 21.4 0a10.7 10.7 0 1 0 -21.4 0M821.0 1148.2a10.7 10.7 0 1 0 21.4 0a10.7 10.7 0 1 0 -21.4 0M811.9 1075.8a10.7 10.7 0 1 0 21.4 0a10.7 10.7 0 1 0 -21.4 0M814.5 1091.3a10.7 10.7 0 1 0 21.4 0a10.7 10.7 0 1 0 -21.4 0M822.2 1114.6a10.7 10.7 0 1 0 21.4 0a10.7 10.7 0 1 0 -21.4 0M824.8 1124.9a10.7 10.7 0 1 0 21.4 0a10.7 10.7 0 1 0 -21.4 0M823.5 1135.3a10.7 10.7 0 1 0 21.4 0a10.7 10.7 0 1 0 -21.4 0M824.8 1145.6a10.7 10.7 0 1 0 21.4 0a10.7 10.7 0 1 0 -21.4 0M822.2 1150.8a10.7 10.7 0 1 0 21.4 0a10.7 10.7 0 1 0 -21.4 0M811.9 1171.5a10.7 10.7 0 1 0 21.4 0a10.7 10.7 0 1 0 -21.4 0M817.1 1179.3a10.7 10.7 0 1 0 21.4 0a10.7 10.7 0 1 0 -21.4 0M859.8 1109.4a10.7 10.7 0 1 0 21.4 0a10.7 10.7 0 1 0 -21.4 0M861.1 1119.8a10.7 10.7 0 1 0 21.4 0a10.7 10.7 0 1 0 -21.4 0M861.1 1132.7a10.7 10.7 0 1 0 21.4 0a10.7 10.7 0 1 0 -21.4 0M859.8 1143.0a10.7 10.7 0 1 0 21.4 0a10.7 10.7 0 1 0 -21.4 0M872.7 1145.6a10.7 10.7 0 1 0 21.4 0a10.7 10.7 0 1 0 -21.4 0M872.7 1171.5a10.7 10.7 0 1 0 21.4 0a10.7 10.7 0 1 0 -21.4 0M892.1 1172.8a10.7 10.7 0 1 0 21.4 0a10.7 10.7 0 1 0 -21.4 0M874.0 1198.7a10.7 10.7 0 1 0 21.4 0a10.7 10.7 0 1 0 -21.4 0M892.1 1070.6a10.7 10.7 0 1 0 21.4 0a10.7 10.7 0 1 0 -21.4 0M902.5 1074.5a10.7 10.7 0 1 0 21.4 0a10.7 10.7 0 1 0 -21.4 0M879.2 1101.6a10.7 10.7 0 1 0 21.4 0a10.7 10.7 0 1 0 -21.4 0M886.9 1101.6a10.7 10.7 0 1 0 21.4 0a10.7 10.7 0 1 0 -21.4 0M874.0 1109.4a10.7 10.7 0 1 0 21.4 0a10.7 10.7 0 1 0 -21.4 0M894.7 1114.6a10.7 10.7 0 1 0 21.4 0a10.7 10.7 0 1 0 -21.4 0M902.5 1192.2a10.7 10.7 0 1 0 21.4 0a10.7 10.7 0 1 0 -21.4 0M930.9 1194.8a10.7 10.7 0 1 0 21.4 0a10.7 10.7 0 1 0 -21.4 0M930.9 1202.6a10.7 10.7 0 1 0 21.4 0a10.7 10.7 0 1 0 -21.4 0M942.6 1069.3a10.7 10.7 0 1 0 21.4 0a10.7 10.7 0 1 0 -21.4 0M969.8 1031.8a10.7 10.7 0 1 0 21.4 0a10.7 10.7 0 1 0 -21.4 0M971.0 1057.6a10.7 10.7 0 1 0 21.4 0a10.7 10.7 0 1 0 -21.4 0M964.6 1065.4a10.7 10.7 0 1 0 21.4 0a10.7 10.7 0 1 0 -21.4 0M965.9 1205.2a10.7 10.7 0 1 0 21.4 0a10.7 10.7 0 1 0 -21.4 0M969.0 1233.6a10.7 10.7 0 1 0 21.4 0a10.7 10.7 0 1 0 -21.4 0M969.0 1251.7a10.7 10.7 0 1 0 21.4 0a10.7 10.7 0 1 0 -21.4 0M978.8 1168.9a10.7 10.7 0 1 0 21.4 0a10.7 10.7 0 1 0 -21.4 0M980.1 1174.1a10.7 10.7 0 1 0 21.4 0a10.7 10.7 0 1 0 -21.4 0M1017.6 1070.6a10.7 10.7 0 1 0 21.4 0a10.7 10.7 0 1 0 -21.4 0M1016.3 1093.9a10.7 10.7 0 1 0 21.4 0a10.7 10.7 0 1 0 -21.4 0M1008.6 1184.5a10.7 10.7 0 1 0 21.4 0a10.7 10.7 0 1 0 -21.4 0M1011.2 1197.4a10.7 10.7 0 1 0 21.4 0a10.7 10.7 0 1 0 -21.4 0M1012.5 1210.3a10.7 10.7 0 1 0 21.4 0a10.7 10.7 0 1 0 -21.4 0M1017.6 1227.2a10.7 10.7 0 1 0 21.4 0a10.7 10.7 0 1 0 -21.4 0M1042.2 1187.0a10.7 10.7 0 1 0 21.4 0a10.7 10.7 0 1 0 -21.4 0M1034.5 1184.5a10.7 10.7 0 1 0 21.4 0a10.7 10.7 0 1 0 -21.4 0M1056.5 1030.5a10.7 10.7 0 1 0 21.4 0a10.7 10.7 0 1 0 -21.4 0M1056.5 1040.8a10.7 10.7 0 1 0 21.4 0a10.7 10.7 0 1 0 -21.4 0M1056.5 1052.5a10.7 10.7 0 1 0 21.4 0a10.7 10.7 0 1 0 -21.4 0M1056.5 1062.8a10.7 10.7 0 1 0 21.4 0a10.7 10.7 0 1 0 -21.4 0M1068.1 1083.5a10.7 10.7 0 1 0 21.4 0a10.7 10.7 0 1 0 -21.4 0M1066.8 1099.0a10.7 10.7 0 1 0 21.4 0a10.7 10.7 0 1 0 -21.4 0M1082.3 1114.6a10.7 10.7 0 1 0 21.4 0a10.7 10.7 0 1 0 -21.4 0M1081.0 1137.9a10.7 10.7 0 1 0 21.4 0a10.7 10.7 0 1 0 -21.4 0M1056.5 1212.9a10.7 10.7 0 1 0 21.4 0a10.7 10.7 0 1 0 -21.4 0M1066.8 1176.7a10.7 10.7 0 1 0 21.4 0a10.7 10.7 0 1 0 -21.4 0M1103.0 1154.7a10.7 10.7 0 1 0 21.4 0a10.7 10.7 0 1 0 -21.4 0M1114.7 1159.9a10.7 10.7 0 1 0 21.4 0a10.7 10.7 0 1 0 -21.4 0M1103.0 1174.1a10.7 10.7 0 1 0 21.4 0a10.7 10.7 0 1 0 -21.4 0M1116.0 1171.5a10.7 10.7 0 1 0 21.4 0a10.7 10.7 0 1 0 -21.4 0M1138.8 1086.6a10.7 10.7 0 1 0 21.4 0a10.7 10.7 0 1 0 -21.4 0M1169.0 1069.3a10.7 10.7 0 1 0 21.4 0a10.7 10.7 0 1 0 -21.4 0M1187.1 1097.8a10.7 10.7 0 1 0 21.4 0a10.7 10.7 0 1 0 -21.4 0M1178.1 1108.1a10.7 10.7 0 1 0 21.4 0a10.7 10.7 0 1 0 -21.4 0M1179.4 1124.9a10.7 10.7 0 1 0 21.4 0a10.7 10.7 0 1 0 -21.4 0M1158.7 1135.3a10.7 10.7 0 1 0 21.4 0a10.7 10.7 0 1 0 -21.4 0M1148.3 1145.6a10.7 10.7 0 1 0 21.4 0a10.7 10.7 0 1 0 -21.4 0M1207.1 1146.9a10.7 10.7 0 1 0 21.4 0a10.7 10.7 0 1 0 -21.4 0M1235.0 1066.7a10.7 10.7 0 1 0 21.4 0a10.7 10.7 0 1 0 -21.4 0M1273.8 1082.2a10.7 10.7 0 1 0 21.4 0a10.7 10.7 0 1 0 -21.4 0M1233.7 1091.3a10.7 10.7 0 1 0 21.4 0a10.7 10.7 0 1 0 -21.4 0M1245.4 1096.5a10.7 10.7 0 1 0 21.4 0a10.7 10.7 0 1 0 -21.4 0M1273.8 1106.8a10.7 10.7 0 1 0 21.4 0a10.7 10.7 0 1 0 -21.4 0M1233.7 1117.2a10.7 10.7 0 1 0 21.4 0a10.7 10.7 0 1 0 -21.4 0M1249.3 1114.6a10.7 10.7 0 1 0 21.4 0a10.7 10.7 0 1 0 -21.4 0M1231.1 1130.1a10.7 10.7 0 1 0 21.4 0a10.7 10.7 0 1 0 -21.4 0M1232.4 1137.9a10.7 10.7 0 1 0 21.4 0a10.7 10.7 0 1 0 -21.4 0M1259.6 1124.9a10.7 10.7 0 1 0 21.4 0a10.7 10.7 0 1 0 -21.4 0M1272.6 1127.5a10.7 10.7 0 1 0 21.4 0a10.7 10.7 0 1 0 -21.4 0M1285.5 1123.6a10.7 10.7 0 1 0 21.4 0a10.7 10.7 0 1 0 -21.4 0M1275.1 1132.7a10.7 10.7 0 1 0 21.4 0a10.7 10.7 0 1 0 -21.4 0M1257.0 1145.6a10.7 10.7 0 1 0 21.4 0a10.7 10.7 0 1 0 -21.4 0M1264.8 1161.2a10.7 10.7 0 1 0 21.4 0a10.7 10.7 0 1 0 -21.4 0M1273.8 1214.2a10.7 10.7 0 1 0 21.4 0a10.7 10.7 0 1 0 -21.4 0M1273.8 1229.7a10.7 10.7 0 1 0 21.4 0a10.7 10.7 0 1 0 -21.4 0M1466.8 1148.2a10.7 10.7 0 1 0 21.4 0a10.7 10.7 0 1 0 -21.4 0M1534.1 1132.7a10.7 10.7 0 1 0 21.4 0a10.7 10.7 0 1 0 -21.4 0M1534.1 1140.5a10.7 10.7 0 1 0 21.4 0a10.7 10.7 0 1 0 -21.4 0M1554.8 1124.9a10.7 10.7 0 1 0 21.4 0a10.7 10.7 0 1 0 -21.4 0M1573.4 1145.1a10.7 10.7 0 1 0 21.4 0a10.7 10.7 0 1 0 -21.4 0M636.4 1129.0a10.7 10.7 0 1 0 21.4 0a10.7 10.7 0 1 0 -21.4 0M623.3 1146.3a10.7 10.7 0 1 0 21.4 0a10.7 10.7 0 1 0 -21.4 0M639.1 1110.6a10.7 10.7 0 1 0 21.4 0a10.7 10.7 0 1 0 -21.4 0M613.3 1172.0a10.7 10.7 0 1 0 21.4 0a10.7 10.7 0 1 0 -21.4 0M617.5 1159.1a10.7 10.7 0 1 0 21.4 0a10.7 10.7 0 1 0 -21.4 0M612.3 1156.0a10.7 10.7 0 1 0 21.4 0a10.7 10.7 0 1 0 -21.4 0M625.1 1155.3a10.7 10.7 0 1 0 21.4 0a10.7 10.7 0 1 0 -21.4 0M629.0 1131.5a10.7 10.7 0 1 0 21.4 0a10.7 10.7 0 1 0 -21.4 0M645.2 1164.6a10.7 10.7 0 1 0 21.4 0a10.7 10.7 0 1 0 -21.4 0M645.6 1141.2a10.7 10.7 0 1 0 21.4 0a10.7 10.7 0 1 0 -21.4 0M693.0 1105.3a10.7 10.7 0 1 0 21.4 0a10.7 10.7 0 1 0 -21.4 0M712.3 1117.4a10.7 10.7 0 1 0 21.4 0a10.7 10.7 0 1 0 -21.4 0M698.0 1116.7a10.7 10.7 0 1 0 21.4 0a10.7 10.7 0 1 0 -21.4 0M752.5 1113.4a10.7 10.7 0 1 0 21.4 0a10.7 10.7 0 1 0 -21.4 0M765.6 1094.3a10.7 10.7 0 1 0 21.4 0a10.7 10.7 0 1 0 -21.4 0M713.4 1115.2a10.7 10.7 0 1 0 21.4 0a10.7 10.7 0 1 0 -21.4 0M738.9 1111.5a10.7 10.7 0 1 0 21.4 0a10.7 10.7 0 1 0 -21.4 0M703.6 1138.0a10.7 10.7 0 1 0 21.4 0a10.7 10.7 0 1 0 -21.4 0M703.1 1118.5a10.7 10.7 0 1 0 21.4 0a10.7 10.7 0 1 0 -21.4 0M761.5 1110.2a10.7 10.7 0 1 0 21.4 0a10.7 10.7 0 1 0 -21.4 0M724.8 1141.7a10.7 10.7 0 1 0 21.4 0a10.7 10.7 0 1 0 -21.4 0M740.9 1132.1a10.7 10.7 0 1 0 21.4 0a10.7 10.7 0 1 0 -21.4 0M762.7 1127.5a10.7 10.7 0 1 0 21.4 0a10.7 10.7 0 1 0 -21.4 0M710.9 1125.4a10.7 10.7 0 1 0 21.4 0a10.7 10.7 0 1 0 -21.4 0M764.4 1129.7a10.7 10.7 0 1 0 21.4 0a10.7 10.7 0 1 0 -21.4 0M763.4 1147.6a10.7 10.7 0 1 0 21.4 0a10.7 10.7 0 1 0 -21.4 0M730.5 1093.7a10.7 10.7 0 1 0 21.4 0a10.7 10.7 0 1 0 -21.4 0M718.8 1142.9a10.7 10.7 0 1 0 21.4 0a10.7 10.7 0 1 0 -21.4 0M694.8 1110.5a10.7 10.7 0 1 0 21.4 0a10.7 10.7 0 1 0 -21.4 0M693.1 1130.2a10.7 10.7 0 1 0 21.4 0a10.7 10.7 0 1 0 -21.4 0M700.9 1121.2a10.7 10.7 0 1 0 21.4 0a10.7 10.7 0 1 0 -21.4 0M763.4 1145.8a10.7 10.7 0 1 0 21.4 0a10.7 10.7 0 1 0 -21.4 0M723.0 1105.9a10.7 10.7 0 1 0 21.4 0a10.7 10.7 0 1 0 -21.4 0M693.6 1133.8a10.7 10.7 0 1 0 21.4 0a10.7 10.7 0 1 0 -21.4 0M699.5 1155.3a10.7 10.7 0 1 0 21.4 0a10.7 10.7 0 1 0 -21.4 0M708.2 1099.2a10.7 10.7 0 1 0 21.4 0a10.7 10.7 0 1 0 -21.4 0M760.1 1133.3a10.7 10.7 0 1 0 21.4 0a10.7 10.7 0 1 0 -21.4 0M741.8 1092.0a10.7 10.7 0 1 0 21.4 0a10.7 10.7 0 1 0 -21.4 0M768.1 1121.2a10.7 10.7 0 1 0 21.4 0a10.7 10.7 0 1 0 -21.4 0M699.9 1129.6a10.7 10.7 0 1 0 21.4 0a10.7 10.7 0 1 0 -21.4 0M722.0 1097.8a10.7 10.7 0 1 0 21.4 0a10.7 10.7 0 1 0 -21.4 0M702.1 1109.1a10.7 10.7 0 1 0 21.4 0a10.7 10.7 0 1 0 -21.4 0M721.9 1124.0a10.7 10.7 0 1 0 21.4 0a10.7 10.7 0 1 0 -21.4 0M761.1 1103.0a10.7 10.7 0 1 0 21.4 0a10.7 10.7 0 1 0 -21.4 0M816.8 1130.5a10.7 10.7 0 1 0 21.4 0a10.7 10.7 0 1 0 -21.4 0M802.3 1131.9a10.7 10.7 0 1 0 21.4 0a10.7 10.7 0 1 0 -21.4 0M814.9 1136.2a10.7 10.7 0 1 0 21.4 0a10.7 10.7 0 1 0 -21.4 0M787.6 1093.5a10.7 10.7 0 1 0 21.4 0a10.7 10.7 0 1 0 -21.4 0M796.3 1115.0a10.7 10.7 0 1 0 21.4 0a10.7 10.7 0 1 0 -21.4 0M817.3 1099.5a10.7 10.7 0 1 0 21.4 0a10.7 10.7 0 1 0 -21.4 0M831.4 1116.2a10.7 10.7 0 1 0 21.4 0a10.7 10.7 0 1 0 -21.4 0M803.9 1099.0a10.7 10.7 0 1 0 21.4 0a10.7 10.7 0 1 0 -21.4 0M818.0 1146.0a10.7 10.7 0 1 0 21.4 0a10.7 10.7 0 1 0 -21.4 0M789.2 1133.1a10.7 10.7 0 1 0 21.4 0a10.7 10.7 0 1 0 -21.4 0M810.7 1110.7a10.7 10.7 0 1 0 21.4 0a10.7 10.7 0 1 0 -21.4 0M828.1 1157.3a10.7 10.7 0 1 0 21.4 0a10.7 10.7 0 1 0 -21.4 0M875.5 1151.6a10.7 10.7 0 1 0 21.4 0a10.7 10.7 0 1 0 -21.4 0M881.7 1113.0a10.7 10.7 0 1 0 21.4 0a10.7 10.7 0 1 0 -21.4 0M898.0 1096.4a10.7 10.7 0 1 0 21.4 0a10.7 10.7 0 1 0 -21.4 0M902.3 1100.0a10.7 10.7 0 1 0 21.4 0a10.7 10.7 0 1 0 -21.4 0M885.1 1150.4a10.7 10.7 0 1 0 21.4 0a10.7 10.7 0 1 0 -21.4 0M897.2 1121.6a10.7 10.7 0 1 0 21.4 0a10.7 10.7 0 1 0 -21.4 0M892.4 1104.7a10.7 10.7 0 1 0 21.4 0a10.7 10.7 0 1 0 -21.4 0M905.7 1094.7a10.7 10.7 0 1 0 21.4 0a10.7 10.7 0 1 0 -21.4 0M867.0 1128.8a10.7 10.7 0 1 0 21.4 0a10.7 10.7 0 1 0 -21.4 0M908.2 1129.4a10.7 10.7 0 1 0 21.4 0a10.7 10.7 0 1 0 -21.4 0M907.8 1098.8a10.7 10.7 0 1 0 21.4 0a10.7 10.7 0 1 0 -21.4 0M917.6 1141.4a10.7 10.7 0 1 0 21.4 0a10.7 10.7 0 1 0 -21.4 0M859.9 1128.0a10.7 10.7 0 1 0 21.4 0a10.7 10.7 0 1 0 -21.4 0M854.8 1115.3a10.7 10.7 0 1 0 21.4 0a10.7 10.7 0 1 0 -21.4 0M865.3 1112.3a10.7 10.7 0 1 0 21.4 0a10.7 10.7 0 1 0 -21.4 0M896.3 1116.6a10.7 10.7 0 1 0 21.4 0a10.7 10.7 0 1 0 -21.4 0M886.4 1099.1a10.7 10.7 0 1 0 21.4 0a10.7 10.7 0 1 0 -21.4 0M854.8 1146.1a10.7 10.7 0 1 0 21.4 0a10.7 10.7 0 1 0 -21.4 0M888.1 1136.5a10.7 10.7 0 1 0 21.4 0a10.7 10.7 0 1 0 -21.4 0M858.8 1135.7a10.7 10.7 0 1 0 21.4 0a10.7 10.7 0 1 0 -21.4 0M877.6 1139.1a10.7 10.7 0 1 0 21.4 0a10.7 10.7 0 1 0 -21.4 0M880.4 1133.5a10.7 10.7 0 1 0 21.4 0a10.7 10.7 0 1 0 -21.4 0M915.0 1125.8a10.7 10.7 0 1 0 21.4 0a10.7 10.7 0 1 0 -21.4 0M944.3 1142.0a10.7 10.7 0 1 0 21.4 0a10.7 10.7 0 1 0 -21.4 0M904.7 1143.4a10.7 10.7 0 1 0 21.4 0a10.7 10.7 0 1 0 -21.4 0M933.8 1137.4a10.7 10.7 0 1 0 21.4 0a10.7 10.7 0 1 0 -21.4 0M905.4 1114.8a10.7 10.7 0 1 0 21.4 0a10.7 10.7 0 1 0 -21.4 0M944.6 1145.8a10.7 10.7 0 1 0 21.4 0a10.7 10.7 0 1 0 -21.4 0M943.7 1149.0a10.7 10.7 0 1 0 21.4 0a10.7 10.7 0 1 0 -21.4 0M945.9 1140.8a10.7 10.7 0 1 0 21.4 0a10.7 10.7 0 1 0 -21.4 0M924.6 1129.6a10.7 10.7 0 1 0 21.4 0a10.7 10.7 0 1 0 -21.4 0M931.7 1149.3a10.7 10.7 0 1 0 21.4 0a10.7 10.7 0 1 0 -21.4 0M915.2 1126.2a10.7 10.7 0 1 0 21.4 0a10.7 10.7 0 1 0 -21.4 0M926.5 1154.1a10.7 10.7 0 1 0 21.4 0a10.7 10.7 0 1 0 -21.4 0M914.2 1109.9a10.7 10.7 0 1 0 21.4 0a10.7 10.7 0 1 0 -21.4 0M908.9 1118.0a10.7 10.7 0 1 0 21.4 0a10.7 10.7 0 1 0 -21.4 0M943.9 1120.4a10.7 10.7 0 1 0 21.4 0a10.7 10.7 0 1 0 -21.4 0M917.8 1119.1a10.7 10.7 0 1 0 21.4 0a10.7 10.7 0 1 0 -21.4 0M913.7 1133.3a10.7 10.7 0 1 0 21.4 0a10.7 10.7 0 1 0 -21.4 0M911.5 1158.8a10.7 10.7 0 1 0 21.4 0a10.7 10.7 0 1 0 -21.4 0M900.5 1140.9a10.7 10.7 0 1 0 21.4 0a10.7 10.7 0 1 0 -21.4 0M916.9 1156.5a10.7 10.7 0 1 0 21.4 0a10.7 10.7 0 1 0 -21.4 0M913.8 1142.2a10.7 10.7 0 1 0 21.4 0a10.7 10.7 0 1 0 -21.4 0M926.6 1139.8a10.7 10.7 0 1 0 21.4 0a10.7 10.7 0 1 0 -21.4 0M964.4 1118.1a10.7 10.7 0 1 0 21.4 0a10.7 10.7 0 1 0 -21.4 0M972.0 1089.0a10.7 10.7 0 1 0 21.4 0a10.7 10.7 0 1 0 -21.4 0M985.6 1087.9a10.7 10.7 0 1 0 21.4 0a10.7 10.7 0 1 0 -21.4 0M973.1 1171.0a10.7 10.7 0 1 0 21.4 0a10.7 10.7 0 1 0 -21.4 0M972.9 1134.5a10.7 10.7 0 1 0 21.4 0a10.7 10.7 0 1 0 -21.4 0M951.1 1102.5a10.7 10.7 0 1 0 21.4 0a10.7 10.7 0 1 0 -21.4 0M954.8 1163.2a10.7 10.7 0 1 0 21.4 0a10.7 10.7 0 1 0 -21.4 0M995.3 1154.7a10.7 10.7 0 1 0 21.4 0a10.7 10.7 0 1 0 -21.4 0M962.9 1142.1a10.7 10.7 0 1 0 21.4 0a10.7 10.7 0 1 0 -21.4 0M983.2 1116.0a10.7 10.7 0 1 0 21.4 0a10.7 10.7 0 1 0 -21.4 0M953.5 1135.1a10.7 10.7 0 1 0 21.4 0a10.7 10.7 0 1 0 -21.4 0M964.3 1135.3a10.7 10.7 0 1 0 21.4 0a10.7 10.7 0 1 0 -21.4 0M973.2 1109.9a10.7 10.7 0 1 0 21.4 0a10.7 10.7 0 1 0 -21.4 0M956.1 1145.8a10.7 10.7 0 1 0 21.4 0a10.7 10.7 0 1 0 -21.4 0M981.8 1094.6a10.7 10.7 0 1 0 21.4 0a10.7 10.7 0 1 0 -21.4 0M963.6 1112.8a10.7 10.7 0 1 0 21.4 0a10.7 10.7 0 1 0 -21.4 0M988.1 1131.0a10.7 10.7 0 1 0 21.4 0a10.7 10.7 0 1 0 -21.4 0M992.6 1140.9a10.7 10.7 0 1 0 21.4 0a10.7 10.7 0 1 0 -21.4 0M954.0 1146.3a10.7 10.7 0 1 0 21.4 0a10.7 10.7 0 1 0 -21.4 0M951.1 1149.8a10.7 10.7 0 1 0 21.4 0a10.7 10.7 0 1 0 -21.4 0M982.8 1166.4a10.7 10.7 0 1 0 21.4 0a10.7 10.7 0 1 0 -21.4 0M954.1 1142.1a10.7 10.7 0 1 0 21.4 0a10.7 10.7 0 1 0 -21.4 0M959.3 1120.7a10.7 10.7 0 1 0 21.4 0a10.7 10.7 0 1 0 -21.4 0M956.0 1157.3a10.7 10.7 0 1 0 21.4 0a10.7 10.7 0 1 0 -21.4 0M982.5 1127.9a10.7 10.7 0 1 0 21.4 0a10.7 10.7 0 1 0 -21.4 0M980.8 1086.9a10.7 10.7 0 1 0 21.4 0a10.7 10.7 0 1 0 -21.4 0M953.2 1172.1a10.7 10.7 0 1 0 21.4 0a10.7 10.7 0 1 0 -21.4 0M983.2 1113.4a10.7 10.7 0 1 0 21.4 0a10.7 10.7 0 1 0 -21.4 0M955.9 1138.9a10.7 10.7 0 1 0 21.4 0a10.7 10.7 0 1 0 -21.4 0M960.3 1096.0a10.7 10.7 0 1 0 21.4 0a10.7 10.7 0 1 0 -21.4 0M962.5 1096.8a10.7 10.7 0 1 0 21.4 0a10.7 10.7 0 1 0 -21.4 0M985.3 1107.9a10.7 10.7 0 1 0 21.4 0a10.7 10.7 0 1 0 -21.4 0M983.0 1121.0a10.7 10.7 0 1 0 21.4 0a10.7 10.7 0 1 0 -21.4 0M956.3 1119.9a10.7 10.7 0 1 0 21.4 0a10.7 10.7 0 1 0 -21.4 0M964.0 1134.0a10.7 10.7 0 1 0 21.4 0a10.7 10.7 0 1 0 -21.4 0M986.1 1098.8a10.7 10.7 0 1 0 21.4 0a10.7 10.7 0 1 0 -21.4 0M968.0 1139.1a10.7 10.7 0 1 0 21.4 0a10.7 10.7 0 1 0 -21.4 0M964.7 1115.1a10.7 10.7 0 1 0 21.4 0a10.7 10.7 0 1 0 -21.4 0M973.7 1162.1a10.7 10.7 0 1 0 21.4 0a10.7 10.7 0 1 0 -21.4 0M990.4 1152.2a10.7 10.7 0 1 0 21.4 0a10.7 10.7 0 1 0 -21.4 0M950.2 1145.3a10.7 10.7 0 1 0 21.4 0a10.7 10.7 0 1 0 -21.4 0M956.0 1108.0a10.7 10.7 0 1 0 21.4 0a10.7 10.7 0 1 0 -21.4 0M971.3 1170.8a10.7 10.7 0 1 0 21.4 0a10.7 10.7 0 1 0 -21.4 0M970.2 1127.9a10.7 10.7 0 1 0 21.4 0a10.7 10.7 0 1 0 -21.4 0M975.4 1106.9a10.7 10.7 0 1 0 21.4 0a10.7 10.7 0 1 0 -21.4 0M953.9 1107.5a10.7 10.7 0 1 0 21.4 0a10.7 10.7 0 1 0 -21.4 0M964.9 1154.4a10.7 10.7 0 1 0 21.4 0a10.7 10.7 0 1 0 -21.4 0M981.1 1130.6a10.7 10.7 0 1 0 21.4 0a10.7 10.7 0 1 0 -21.4 0M975.9 1140.3a10.7 10.7 0 1 0 21.4 0a10.7 10.7 0 1 0 -21.4 0M974.4 1137.6a10.7 10.7 0 1 0 21.4 0a10.7 10.7 0 1 0 -21.4 0M976.3 1107.9a10.7 10.7 0 1 0 21.4 0a10.7 10.7 0 1 0 -21.4 0M975.5 1105.7a10.7 10.7 0 1 0 21.4 0a10.7 10.7 0 1 0 -21.4 0M912.3 1134.3a10.7 10.7 0 1 0 21.4 0a10.7 10.7 0 1 0 -21.4 0M917.9 1121.8a10.7 10.7 0 1 0 21.4 0a10.7 10.7 0 1 0 -21.4 0M974.4 1111.8a10.7 10.7 0 1 0 21.4 0a10.7 10.7 0 1 0 -21.4 0M963.2 1119.1a10.7 10.7 0 1 0 21.4 0a10.7 10.7 0 1 0 -21.4 0M979.4 1142.4a10.7 10.7 0 1 0 21.4 0a10.7 10.7 0 1 0 -21.4 0M971.3 1125.9a10.7 10.7 0 1 0 21.4 0a10.7 10.7 0 1 0 -21.4 0M948.1 1100.5a10.7 10.7 0 1 0 21.4 0a10.7 10.7 0 1 0 -21.4 0M979.6 1140.5a10.7 10.7 0 1 0 21.4 0a10.7 10.7 0 1 0 -21.4 0M972.2 1123.6a10.7 10.7 0 1 0 21.4 0a10.7 10.7 0 1 0 -21.4 0M976.4 1108.7a10.7 10.7 0 1 0 21.4 0a10.7 10.7 0 1 0 -21.4 0M974.2 1119.3a10.7 10.7 0 1 0 21.4 0a10.7 10.7 0 1 0 -21.4 0M981.9 1143.0a10.7 10.7 0 1 0 21.4 0a10.7 10.7 0 1 0 -21.4 0M941.7 1094.4a10.7 10.7 0 1 0 21.4 0a10.7 10.7 0 1 0 -21.4 0M953.7 1105.5a10.7 10.7 0 1 0 21.4 0a10.7 10.7 0 1 0 -21.4 0M993.9 1147.4a10.7 10.7 0 1 0 21.4 0a10.7 10.7 0 1 0 -21.4 0M1002.4 1141.2a10.7 10.7 0 1 0 21.4 0a10.7 10.7 0 1 0 -21.4 0M994.1 1126.3a10.7 10.7 0 1 0 21.4 0a10.7 10.7 0 1 0 -21.4 0M1077.1 1138.8a10.7 10.7 0 1 0 21.4 0a10.7 10.7 0 1 0 -21.4 0M1010.3 1153.8a10.7 10.7 0 1 0 21.4 0a10.7 10.7 0 1 0 -21.4 0M1014.0 1137.5a10.7 10.7 0 1 0 21.4 0a10.7 10.7 0 1 0 -21.4 0M1080.6 1159.0a10.7 10.7 0 1 0 21.4 0a10.7 10.7 0 1 0 -21.4 0M1080.5 1116.2a10.7 10.7 0 1 0 21.4 0a10.7 10.7 0 1 0 -21.4 0M1027.7 1144.7a10.7 10.7 0 1 0 21.4 0a10.7 10.7 0 1 0 -21.4 0M1081.3 1145.8a10.7 10.7 0 1 0 21.4 0a10.7 10.7 0 1 0 -21.4 0M1060.4 1142.6a10.7 10.7 0 1 0 21.4 0a10.7 10.7 0 1 0 -21.4 0M1041.9 1163.4a10.7 10.7 0 1 0 21.4 0a10.7 10.7 0 1 0 -21.4 0M1008.8 1120.2a10.7 10.7 0 1 0 21.4 0a10.7 10.7 0 1 0 -21.4 0M1042.9 1135.9a10.7 10.7 0 1 0 21.4 0a10.7 10.7 0 1 0 -21.4 0M1002.3 1106.0a10.7 10.7 0 1 0 21.4 0a10.7 10.7 0 1 0 -21.4 0M1066.8 1124.8a10.7 10.7 0 1 0 21.4 0a10.7 10.7 0 1 0 -21.4 0M1002.1 1130.8a10.7 10.7 0 1 0 21.4 0a10.7 10.7 0 1 0 -21.4 0M1000.5 1132.0a10.7 10.7 0 1 0 21.4 0a10.7 10.7 0 1 0 -21.4 0M1031.9 1161.5a10.7 10.7 0 1 0 21.4 0a10.7 10.7 0 1 0 -21.4 0M1030.4 1118.6a10.7 10.7 0 1 0 21.4 0a10.7 10.7 0 1 0 -21.4 0M1002.3 1140.4a10.7 10.7 0 1 0 21.4 0a10.7 10.7 0 1 0 -21.4 0M1031.0 1132.7a10.7 10.7 0 1 0 21.4 0a10.7 10.7 0 1 0 -21.4 0M1028.7 1133.8a10.7 10.7 0 1 0 21.4 0a10.7 10.7 0 1 0 -21.4 0M1033.0 1140.3a10.7 10.7 0 1 0 21.4 0a10.7 10.7 0 1 0 -21.4 0M1059.9 1111.1a10.7 10.7 0 1 0 21.4 0a10.7 10.7 0 1 0 -21.4 0M1071.1 1127.5a10.7 10.7 0 1 0 21.4 0a10.7 10.7 0 1 0 -21.4 0M1030.5 1137.8a10.7 10.7 0 1 0 21.4 0a10.7 10.7 0 1 0 -21.4 0M1077.9 1116.2a10.7 10.7 0 1 0 21.4 0a10.7 10.7 0 1 0 -21.4 0M1058.7 1122.0a10.7 10.7 0 1 0 21.4 0a10.7 10.7 0 1 0 -21.4 0M1030.1 1139.0a10.7 10.7 0 1 0 21.4 0a10.7 10.7 0 1 0 -21.4 0M1011.3 1151.5a10.7 10.7 0 1 0 21.4 0a10.7 10.7 0 1 0 -21.4 0M997.1 1131.8a10.7 10.7 0 1 0 21.4 0a10.7 10.7 0 1 0 -21.4 0M1020.8 1155.9a10.7 10.7 0 1 0 21.4 0a10.7 10.7 0 1 0 -21.4 0M1017.7 1131.7a10.7 10.7 0 1 0 21.4 0a10.7 10.7 0 1 0 -21.4 0M1023.4 1107.8a10.7 10.7 0 1 0 21.4 0a10.7 10.7 0 1 0 -21.4 0M1070.3 1155.8a10.7 10.7 0 1 0 21.4 0a10.7 10.7 0 1 0 -21.4 0M1030.9 1114.0a10.7 10.7 0 1 0 21.4 0a10.7 10.7 0 1 0 -21.4 0M1081.3 1134.0a10.7 10.7 0 1 0 21.4 0a10.7 10.7 0 1 0 -21.4 0M1011.4 1130.0a10.7 10.7 0 1 0 21.4 0a10.7 10.7 0 1 0 -21.4 0M1032.9 1114.2a10.7 10.7 0 1 0 21.4 0a10.7 10.7 0 1 0 -21.4 0M1049.3 1140.2a10.7 10.7 0 1 0 21.4 0a10.7 10.7 0 1 0 -21.4 0M1059.3 1152.2a10.7 10.7 0 1 0 21.4 0a10.7 10.7 0 1 0 -21.4 0M1061.3 1109.5a10.7 10.7 0 1 0 21.4 0a10.7 10.7 0 1 0 -21.4 0M1055.4 1160.0a10.7 10.7 0 1 0 21.4 0a10.7 10.7 0 1 0 -21.4 0M1074.5 1116.3a10.7 10.7 0 1 0 21.4 0a10.7 10.7 0 1 0 -21.4 0M1018.9 1144.6a10.7 10.7 0 1 0 21.4 0a10.7 10.7 0 1 0 -21.4 0M1031.7 1150.3a10.7 10.7 0 1 0 21.4 0a10.7 10.7 0 1 0 -21.4 0M1071.7 1154.7a10.7 10.7 0 1 0 21.4 0a10.7 10.7 0 1 0 -21.4 0M1059.9 1104.7a10.7 10.7 0 1 0 21.4 0a10.7 10.7 0 1 0 -21.4 0M1018.6 1118.1a10.7 10.7 0 1 0 21.4 0a10.7 10.7 0 1 0 -21.4 0M1051.0 1117.0a10.7 10.7 0 1 0 21.4 0a10.7 10.7 0 1 0 -21.4 0M1024.8 1118.3a10.7 10.7 0 1 0 21.4 0a10.7 10.7 0 1 0 -21.4 0M1010.8 1148.4a10.7 10.7 0 1 0 21.4 0a10.7 10.7 0 1 0 -21.4 0M1040.0 1109.9a10.7 10.7 0 1 0 21.4 0a10.7 10.7 0 1 0 -21.4 0M1081.6 1112.5a10.7 10.7 0 1 0 21.4 0a10.7 10.7 0 1 0 -21.4 0M1001.4 1121.4a10.7 10.7 0 1 0 21.4 0a10.7 10.7 0 1 0 -21.4 0M1078.4 1116.3a10.7 10.7 0 1 0 21.4 0a10.7 10.7 0 1 0 -21.4 0M1005.3 1110.0a10.7 10.7 0 1 0 21.4 0a10.7 10.7 0 1 0 -21.4 0M1035.8 1171.4a10.7 10.7 0 1 0 21.4 0a10.7 10.7 0 1 0 -21.4 0M1025.7 1140.7a10.7 10.7 0 1 0 21.4 0a10.7 10.7 0 1 0 -21.4 0M1069.0 1148.5a10.7 10.7 0 1 0 21.4 0a10.7 10.7 0 1 0 -21.4 0M1030.4 1086.1a10.7 10.7 0 1 0 21.4 0a10.7 10.7 0 1 0 -21.4 0M1070.5 1126.2a10.7 10.7 0 1 0 21.4 0a10.7 10.7 0 1 0 -21.4 0M1050.9 1135.1a10.7 10.7 0 1 0 21.4 0a10.7 10.7 0 1 0 -21.4 0M1030.7 1131.1a10.7 10.7 0 1 0 21.4 0a10.7 10.7 0 1 0 -21.4 0M1056.9 1158.5a10.7 10.7 0 1 0 21.4 0a10.7 10.7 0 1 0 -21.4 0M1041.7 1134.7a10.7 10.7 0 1 0 21.4 0a10.7 10.7 0 1 0 -21.4 0M1021.0 1098.2a10.7 10.7 0 1 0 21.4 0a10.7 10.7 0 1 0 -21.4 0M1003.6 1138.4a10.7 10.7 0 1 0 21.4 0a10.7 10.7 0 1 0 -21.4 0M1071.9 1116.8a10.7 10.7 0 1 0 21.4 0a10.7 10.7 0 1 0 -21.4 0" fill="none" stroke="#0000ff" stroke-width="3.4"/>
<path d="M259 1127.8H2266.0" stroke="#000" stroke-width="3.3" stroke-dasharray="7 11" fill="none" shape-rendering="crispEdges"/>
<path d="M1610 867.0V1395.0" stroke="#000" stroke-width="4" stroke-dasharray="7 11" fill="none" shape-rendering="crispEdges"/>
<path d="M330 862.0v19M330 1395.0v-19M506 862.0v19M506 1395.0v-19M682 862.0v19M682 1395.0v-19M858 862.0v38M858 1395.0v-38M1034 862.0v19M1034 1395.0v-19M1210 862.0v19M1210 1395.0v-19M1386 862.0v19M1386 1395.0v-19M1562 862.0v38M1562 1395.0v-38M1738 862.0v19M1738 1395.0v-19M1914 862.0v19M1914 1395.0v-19M2090 862.0v19M2090 1395.0v-19M260.0 1357.1h19M2266.0 1357.1h-19M260.0 1280.9h19M2266.0 1280.9h-19M260.0 1242.8h19M2266.0 1242.8h-19M260.0 1204.7h19M2266.0 1204.7h-19M260.0 1166.6h19M2266.0 1166.6h-19M260.0 1090.4h19M2266.0 1090.4h-19M260.0 1052.3h19M2266.0 1052.3h-19M260.0 1014.2h19M2266.0 1014.2h-19M260.0 976.1h19M2266.0 976.1h-19M260.0 899.9h19M2266.0 899.9h-19M260.0 1319.0h38M2266.0 1319.0h-38M260.0 1128.5h38M2266.0 1128.5h-38M260.0 938.0h38M2266.0 938.0h-38" stroke="#000" stroke-width="6.0" fill="none" shape-rendering="crispEdges"/>
<rect x="260.0" y="862.0" width="2006.0" height="533.0" fill="none" stroke="#000" stroke-width="6.0" shape-rendering="crispEdges"/>
<path transform="translate(858.0 830.4) translate(-97.6 0)" d="M10.6 -30.2L14.2 -31.9L19.5 -37.3L19.5 0.0M17.8 -35.5L17.8 0.0M10.6 0.0L26.6 0.0M63.9 -24.8L62.1 -19.5L58.6 -16.0L53.2 -14.2L51.5 -14.2L46.1 -16.0L42.6 -19.5L40.8 -24.8L40.8 -26.6L42.6 -31.9L46.1 -35.5L51.5 -37.3L55.0 -37.3L60.3 -35.5L63.9 -31.9L65.7 -26.6L65.7 -16.0L63.9 -8.9L62.1 -5.3L58.6 -1.8L53.2 0.0L47.9 0.0L44.4 -1.8L42.6 -5.3L42.6 -7.1L44.4 -8.9L46.1 -7.1L44.4 -5.3M51.5 -14.2L47.9 -16.0L44.4 -19.5L42.6 -24.8L42.6 -26.6L44.4 -31.9L47.9 -35.5L51.5 -37.3M55.0 -37.3L58.6 -35.5L62.1 -31.9L63.9 -26.6L63.9 -16.0L62.1 -8.9L60.3 -5.3L56.8 -1.8L53.2 0.0M99.4 -24.8L97.6 -19.5L94.1 -16.0L88.8 -14.2L87.0 -14.2L81.6 -16.0L78.1 -19.5L76.3 -24.8L76.3 -26.6L78.1 -31.9L81.6 -35.5L87.0 -37.3L90.5 -37.3L95.8 -35.5L99.4 -31.9L101.2 -26.6L101.2 -16.0L99.4 -8.9L97.6 -5.3L94.1 -1.8L88.8 0.0L83.4 0.0L79.9 -1.8L78.1 -5.3L78.1 -7.1L79.9 -8.9L81.6 -7.1L79.9 -5.3M87.0 -14.2L83.4 -16.0L79.9 -19.5L78.1 -24.8L78.1 -26.6L79.9 -31.9L83.4 -35.5L87.0 -37.3M90.5 -37.3L94.1 -35.5L97.6 -31.9L99.4 -26.6L99.4 -16.0L97.6 -8.9L95.8 -5.3L92.3 -1.8L88.8 0.0M122.5 -37.3L117.1 -35.5L113.6 -30.2L111.8 -21.3L111.8 -16.0L113.6 -7.1L117.1 -1.8L122.5 0.0L126.0 0.0L131.3 -1.8L134.9 -7.1L136.7 -16.0L136.7 -21.3L134.9 -30.2L131.3 -35.5L126.0 -37.3L122.5 -37.3M122.5 -37.3L118.9 -35.5L117.1 -33.7L115.4 -30.2L113.6 -21.3L113.6 -16.0L115.4 -7.1L117.1 -3.5L118.9 -1.8L122.5 0.0M126.0 0.0L129.6 -1.8L131.3 -3.5L133.1 -7.1L134.9 -16.0L134.9 -21.3L133.1 -30.2L131.3 -33.7L129.6 -35.5L126.0 -37.3M150.9 -3.5L149.1 -1.8L150.9 0.0L152.7 -1.8L150.9 -3.5M186.4 -31.9L184.6 -30.2L186.4 -28.4L188.1 -30.2L188.1 -31.9L186.4 -35.5L182.8 -37.3L177.5 -37.3L172.2 -35.5L168.6 -31.9L166.8 -28.4L165.1 -21.3L165.1 -10.6L166.8 -5.3L170.4 -1.8L175.7 0.0L179.3 0.0L184.6 -1.8L188.1 -5.3L189.9 -10.6L189.9 -12.4L188.1 -17.8L184.6 -21.3L179.3 -23.1L177.5 -23.1L172.2 -21.3L168.6 -17.8L166.8 -12.4M177.5 -37.3L173.9 -35.5L170.4 -31.9L168.6 -28.4L166.8 -21.3L166.8 -10.6L168.6 -5.3L172.2 -1.8L175.7 0.0M179.3 0.0L182.8 -1.8L186.4 -5.3L188.1 -10.6L188.1 -12.4L186.4 -17.8L182.8 -21.3L179.3 -23.1" fill="none" stroke="#000" stroke-width="6.0" stroke-linecap="butt" stroke-linejoin="round"/>
<path transform="translate(1562.0 830.4) translate(-97.6 0)" d="M10.6 -30.2L14.2 -31.9L19.5 -37.3L19.5 0.0M17.8 -35.5L17.8 0.0M10.6 0.0L26.6 0.0M63.9 -24.8L62.1 -19.5L58.6 -16.0L53.2 -14.2L51.5 -14.2L46.1 -16.0L42.6 -19.5L40.8 -24.8L40.8 -26.6L42.6 -31.9L46.1 -35.5L51.5 -37.3L55.0 -37.3L60.3 -35.5L63.9 -31.9L65.7 -26.6L65.7 -16.0L63.9 -8.9L62.1 -5.3L58.6 -1.8L53.2 0.0L47.9 0.0L44.4 -1.8L42.6 -5.3L42.6 -7.1L44.4 -8.9L46.1 -7.1L44.4 -5.3M51.5 -14.2L47.9 -16.0L44.4 -19.5L42.6 -24.8L42.6 -26.6L44.4 -31.9L47.9 -35.5L51.5 -37.3M55.0 -37.3L58.6 -35.5L62.1 -31.9L63.9 -26.6L63.9 -16.0L62.1 -8.9L60.3 -5.3L56.8 -1.8L53.2 0.0M99.4 -24.8L97.6 -19.5L94.1 -16.0L88.8 -14.2L87.0 -14.2L81.6 -16.0L78.1 -19.5L76.3 -24.8L76.3 -26.6L78.1 -31.9L81.6 -35.5L87.0 -37.3L90.5 -37.3L95.8 -35.5L99.4 -31.9L101.2 -26.6L101.2 -16.0L99.4 -8.9L97.6 -5.3L94.1 -1.8L88.8 0.0L83.4 0.0L79.9 -1.8L78.1 -5.3L78.1 -7.1L79.9 -8.9L81.6 -7.1L79.9 -5.3M87.0 -14.2L83.4 -16.0L79.9 -19.5L78.1 -24.8L78.1 -26.6L79.9 -31.9L83.4 -35.5L87.0 -37.3M90.5 -37.3L94.1 -35.5L97.6 -31.9L99.4 -26.6L99.4 -16.0L97.6 -8.9L95.8 -5.3L92.3 -1.8L88.8 0.0M122.5 -37.3L117.1 -35.5L113.6 -30.2L111.8 -21.3L111.8 -16.0L113.6 -7.1L117.1 -1.8L122.5 0.0L126.0 0.0L131.3 -1.8L134.9 -7.1L136.7 -16.0L136.7 -21.3L134.9 -30.2L131.3 -35.5L126.0 -37.3L122.5 -37.3M122.5 -37.3L118.9 -35.5L117.1 -33.7L115.4 -30.2L113.6 -21.3L113.6 -16.0L115.4 -7.1L117.1 -3.5L118.9 -1.8L122.5 0.0M126.0 0.0L129.6 -1.8L131.3 -3.5L133.1 -7.1L134.9 -16.0L134.9 -21.3L133.1 -30.2L131.3 -33.7L129.6 -35.5L126.0 -37.3M150.9 -3.5L149.1 -1.8L150.9 0.0L152.7 -1.8L150.9 -3.5M173.9 -37.3L168.6 -35.5L166.8 -31.9L166.8 -26.6L168.6 -23.1L173.9 -21.3L181.0 -21.3L186.4 -23.1L188.1 -26.6L188.1 -31.9L186.4 -35.5L181.0 -37.3L173.9 -37.3M173.9 -37.3L170.4 -35.5L168.6 -31.9L168.6 -26.6L170.4 -23.1L173.9 -21.3M181.0 -21.3L184.6 -23.1L186.4 -26.6L186.4 -31.9L184.6 -35.5L181.0 -37.3M173.9 -21.3L168.6 -19.5L166.8 -17.8L165.1 -14.2L165.1 -7.1L166.8 -3.5L168.6 -1.8L173.9 0.0L181.0 0.0L186.4 -1.8L188.1 -3.5L189.9 -7.1L189.9 -14.2L188.1 -17.8L186.4 -19.5L181.0 -21.3M173.9 -21.3L170.4 -19.5L168.6 -17.8L166.8 -14.2L166.8 -7.1L168.6 -3.5L170.4 -1.8L173.9 0.0M181.0 0.0L184.6 -1.8L186.4 -3.5L188.1 -7.1L188.1 -14.2L186.4 -17.8L184.6 -19.5L181.0 -21.3" fill="none" stroke="#000" stroke-width="6.0" stroke-linecap="butt" stroke-linejoin="round"/>
<path transform="translate(2266.0 830.4) translate(-71.0 0)" d="M10.6 -30.2L14.2 -31.9L19.5 -37.3L19.5 0.0M17.8 -35.5L17.8 0.0M10.6 0.0L26.6 0.0M63.9 -24.8L62.1 -19.5L58.6 -16.0L53.2 -14.2L51.5 -14.2L46.1 -16.0L42.6 -19.5L40.8 -24.8L40.8 -26.6L42.6 -31.9L46.1 -35.5L51.5 -37.3L55.0 -37.3L60.3 -35.5L63.9 -31.9L65.7 -26.6L65.7 -16.0L63.9 -8.9L62.1 -5.3L58.6 -1.8L53.2 0.0L47.9 0.0L44.4 -1.8L42.6 -5.3L42.6 -7.1L44.4 -8.9L46.1 -7.1L44.4 -5.3M51.5 -14.2L47.9 -16.0L44.4 -19.5L42.6 -24.8L42.6 -26.6L44.4 -31.9L47.9 -35.5L51.5 -37.3M55.0 -37.3L58.6 -35.5L62.1 -31.9L63.9 -26.6L63.9 -16.0L62.1 -8.9L60.3 -5.3L56.8 -1.8L53.2 0.0M99.4 -24.8L97.6 -19.5L94.1 -16.0L88.8 -14.2L87.0 -14.2L81.6 -16.0L78.1 -19.5L76.3 -24.8L76.3 -26.6L78.1 -31.9L81.6 -35.5L87.0 -37.3L90.5 -37.3L95.8 -35.5L99.4 -31.9L101.2 -26.6L101.2 -16.0L99.4 -8.9L97.6 -5.3L94.1 -1.8L88.8 0.0L83.4 0.0L79.9 -1.8L78.1 -5.3L78.1 -7.1L79.9 -8.9L81.6 -7.1L79.9 -5.3M87.0 -14.2L83.4 -16.0L79.9 -19.5L78.1 -24.8L78.1 -26.6L79.9 -31.9L83.4 -35.5L87.0 -37.3M90.5 -37.3L94.1 -35.5L97.6 -31.9L99.4 -26.6L99.4 -16.0L97.6 -8.9L95.8 -5.3L92.3 -1.8L88.8 0.0M117.1 -30.2L120.7 -31.9L126.0 -37.3L126.0 0.0M124.2 -35.5L124.2 0.0M117.1 0.0L133.1 0.0" fill="none" stroke="#000" stroke-width="6.0" stroke-linecap="butt" stroke-linejoin="round"/>
<path transform="translate(228.3 956.7) translate(-35.5 0)" d="M8.9 -37.3L5.3 -19.5M5.3 -19.5L8.9 -23.1L14.2 -24.8L19.5 -24.8L24.8 -23.1L28.4 -19.5L30.2 -14.2L30.2 -10.6L28.4 -5.3L24.8 -1.8L19.5 0.0L14.2 0.0L8.9 -1.8L7.1 -3.5L5.3 -7.1L5.3 -8.9L7.1 -10.6L8.9 -8.9L7.1 -7.1M19.5 -24.8L23.1 -23.1L26.6 -19.5L28.4 -14.2L28.4 -10.6L26.6 -5.3L23.1 -1.8L19.5 0.0M8.9 -37.3L26.6 -37.3M8.9 -35.5L17.8 -35.5L26.6 -37.3" fill="none" stroke="#000" stroke-width="6.0" stroke-linecap="butt" stroke-linejoin="round"/>
<path transform="translate(228.3 1147.2) translate(-35.5 0)" d="M16.0 -37.3L10.6 -35.5L7.1 -30.2L5.3 -21.3L5.3 -16.0L7.1 -7.1L10.6 -1.8L16.0 0.0L19.5 0.0L24.8 -1.8L28.4 -7.1L30.2 -16.0L30.2 -21.3L28.4 -30.2L24.8 -35.5L19.5 -37.3L16.0 -37.3M16.0 -37.3L12.4 -35.5L10.6 -33.7L8.9 -30.2L7.1 -21.3L7.1 -16.0L8.9 -7.1L10.6 -3.5L12.4 -1.8L16.0 0.0M19.5 0.0L23.1 -1.8L24.8 -3.5L26.6 -7.1L28.4 -16.0L28.4 -21.3L26.6 -30.2L24.8 -33.7L23.1 -35.5L19.5 -37.3" fill="none" stroke="#000" stroke-width="6.0" stroke-linecap="butt" stroke-linejoin="round"/>
<path transform="translate(228.3 1337.7) translate(-81.6 0)" d="M7.1 -16.0L39.0 -16.0M55.0 -37.3L51.5 -19.5M51.5 -19.5L55.0 -23.1L60.3 -24.8L65.7 -24.8L71.0 -23.1L74.5 -19.5L76.3 -14.2L76.3 -10.6L74.5 -5.3L71.0 -1.8L65.7 0.0L60.3 0.0L55.0 -1.8L53.2 -3.5L51.5 -7.1L51.5 -8.9L53.2 -10.6L55.0 -8.9L53.2 -7.1M65.7 -24.8L69.2 -23.1L72.8 -19.5L74.5 -14.2L74.5 -10.6L72.8 -5.3L69.2 -1.8L65.7 0.0M55.0 -37.3L72.8 -37.3M55.0 -35.5L63.9 -35.5L72.8 -37.3" fill="none" stroke="#000" stroke-width="6.0" stroke-linecap="butt" stroke-linejoin="round"/>
<path transform="translate(102.4 1129.5) rotate(-90) translate(-198.3 0)" d="M17.8 -37.3L12.4 -35.5L8.9 -31.9L7.1 -28.4L5.3 -21.3L5.3 -16.0L7.1 -8.9L8.9 -5.3L12.4 -1.8L17.8 0.0L21.3 0.0L26.6 -1.8L30.2 -5.3L31.9 -8.9L33.7 -16.0L33.7 -21.3L31.9 -28.4L30.2 -31.9L26.6 -35.5L21.3 -37.3L17.8 -37.3M17.8 -37.3L14.2 -35.5L10.6 -31.9L8.9 -28.4L7.1 -21.3L7.1 -16.0L8.9 -8.9L10.6 -5.3L14.2 -1.8L17.8 0.0M21.3 0.0L24.8 -1.8L28.4 -5.3L30.2 -8.9L31.9 -16.0L31.9 -21.3L30.2 -28.4L28.4 -31.9L24.8 -35.5L21.3 -37.3M46.1 -16.0L78.1 -16.0M115.4 -31.9L117.1 -26.6L117.1 -37.3L115.4 -31.9L111.8 -35.5L106.5 -37.3L102.9 -37.3L97.6 -35.5L94.1 -31.9L92.3 -28.4L90.5 -23.1L90.5 -14.2L92.3 -8.9L94.1 -5.3L97.6 -1.8L102.9 0.0L106.5 0.0L111.8 -1.8L115.4 -5.3L117.1 -8.9M102.9 -37.3L99.4 -35.5L95.8 -31.9L94.1 -28.4L92.3 -23.1L92.3 -14.2L94.1 -8.9L95.8 -5.3L99.4 -1.8L102.9 0.0M156.9 -44.4L156.9 12.4M158.7 -44.4L158.7 12.4M156.9 -44.4L169.3 -44.4M156.9 12.4L169.3 12.4M183.5 -21.3L183.5 -19.5L181.8 -19.5L181.8 -21.3L183.5 -23.1L187.1 -24.8L194.2 -24.8L197.7 -23.1L199.5 -21.3L201.3 -17.8L201.3 -5.3L203.1 -1.8L204.8 0.0M199.5 -21.3L199.5 -5.3L201.3 -1.8L204.8 0.0L206.6 0.0M199.5 -17.8L197.7 -16.0L187.1 -14.2L181.8 -12.4L180.0 -8.9L180.0 -5.3L181.8 -1.8L187.1 0.0L192.4 0.0L196.0 -1.8L199.5 -5.3M187.1 -14.2L183.5 -12.4L181.8 -8.9L181.8 -5.3L183.5 -1.8L187.1 0.0M219.0 -24.8L219.0 0.0M220.8 -24.8L220.8 0.0M220.8 -14.2L222.6 -19.5L226.1 -23.1L229.7 -24.8L235.0 -24.8L236.8 -23.1L236.8 -21.3L235.0 -19.5L233.2 -21.3L235.0 -23.1M213.7 -24.8L220.8 -24.8M213.7 0.0L226.1 0.0M267.0 -19.5L265.2 -17.8L267.0 -16.0L268.7 -17.8L268.7 -19.5L265.2 -23.1L261.6 -24.8L256.3 -24.8L251.0 -23.1L247.4 -19.5L245.7 -14.2L245.7 -10.6L247.4 -5.3L251.0 -1.8L256.3 0.0L259.9 0.0L265.2 -1.8L268.7 -5.3M256.3 -24.8L252.8 -23.1L249.2 -19.5L247.4 -14.2L247.4 -10.6L249.2 -5.3L252.8 -1.8L256.3 0.0M297.1 -21.3L298.9 -24.8L298.9 -17.8L297.1 -21.3L295.4 -23.1L291.8 -24.8L284.7 -24.8L281.2 -23.1L279.4 -21.3L279.4 -17.8L281.2 -16.0L284.7 -14.2L293.6 -10.6L297.1 -8.9L298.9 -7.1M279.4 -19.5L281.2 -17.8L284.7 -16.0L293.6 -12.4L297.1 -10.6L298.9 -8.9L298.9 -3.5L297.1 -1.8L293.6 0.0L286.5 0.0L282.9 -1.8L281.2 -3.5L279.4 -7.1L279.4 0.0L281.2 -3.5M311.3 -14.2L332.6 -14.2L332.6 -17.8L330.9 -21.3L329.1 -23.1L325.5 -24.8L320.2 -24.8L314.9 -23.1L311.3 -19.5L309.6 -14.2L309.6 -10.6L311.3 -5.3L314.9 -1.8L320.2 0.0L323.8 0.0L329.1 -1.8L332.6 -5.3M330.9 -14.2L330.9 -19.5L329.1 -23.1M320.2 -24.8L316.7 -23.1L313.1 -19.5L311.3 -14.2L311.3 -10.6L313.1 -5.3L316.7 -1.8L320.2 0.0M364.6 -19.5L362.8 -17.8L364.6 -16.0L366.4 -17.8L366.4 -19.5L362.8 -23.1L359.3 -24.8L353.9 -24.8L348.6 -23.1L345.1 -19.5L343.3 -14.2L343.3 -10.6L345.1 -5.3L348.6 -1.8L353.9 0.0L357.5 0.0L362.8 -1.8L366.4 -5.3M353.9 -24.8L350.4 -23.1L346.8 -19.5L345.1 -14.2L345.1 -10.6L346.8 -5.3L350.4 -1.8L353.9 0.0M387.7 -44.4L387.7 12.4M389.4 -44.4L389.4 12.4M377.0 -44.4L389.4 -44.4M377.0 12.4L389.4 12.4" fill="none" stroke="#000" stroke-width="6.0" stroke-linecap="butt" stroke-linejoin="round"/>
<path transform="translate(2194.0 1352.0) translate(-946.8 0)" d="M30.1 -31.9L31.9 -26.6L31.9 -37.2L30.1 -31.9L26.6 -35.4L21.3 -37.2L17.7 -37.2L12.4 -35.4L8.9 -31.9L7.1 -28.3L5.3 -23.0L5.3 -14.2L7.1 -8.9L8.9 -5.3L12.4 -1.8L17.7 0.0L21.3 0.0L26.6 -1.8L30.1 -5.3L31.9 -8.9M17.7 -37.2L14.2 -35.4L10.6 -31.9L8.9 -28.3L7.1 -23.0L7.1 -14.2L8.9 -8.9L10.6 -5.3L14.2 -1.8L17.7 0.0M72.6 -44.3L40.7 12.4M86.8 -30.1L90.3 -31.9L95.6 -37.2L95.6 0.0M93.9 -35.4L93.9 0.0M86.8 0.0L102.7 0.0M139.9 -24.8L138.1 -19.5L134.6 -15.9L129.3 -14.2L127.5 -14.2L122.2 -15.9L118.7 -19.5L116.9 -24.8L116.9 -26.6L118.7 -31.9L122.2 -35.4L127.5 -37.2L131.1 -37.2L136.4 -35.4L139.9 -31.9L141.7 -26.6L141.7 -15.9L139.9 -8.9L138.1 -5.3L134.6 -1.8L129.3 0.0L124.0 0.0L120.4 -1.8L118.7 -5.3L118.7 -7.1L120.4 -8.9L122.2 -7.1L120.4 -5.3M127.5 -14.2L124.0 -15.9L120.4 -19.5L118.7 -24.8L118.7 -26.6L120.4 -31.9L124.0 -35.4L127.5 -37.2M131.1 -37.2L134.6 -35.4L138.1 -31.9L139.9 -26.6L139.9 -15.9L138.1 -8.9L136.4 -5.3L132.8 -1.8L129.3 0.0M175.3 -24.8L173.6 -19.5L170.0 -15.9L164.7 -14.2L162.9 -14.2L157.6 -15.9L154.1 -19.5L152.3 -24.8L152.3 -26.6L154.1 -31.9L157.6 -35.4L162.9 -37.2L166.5 -37.2L171.8 -35.4L175.3 -31.9L177.1 -26.6L177.1 -15.9L175.3 -8.9L173.6 -5.3L170.0 -1.8L164.7 0.0L159.4 0.0L155.8 -1.8L154.1 -5.3L154.1 -7.1L155.8 -8.9L157.6 -7.1L155.8 -5.3M162.9 -14.2L159.4 -15.9L155.8 -19.5L154.1 -24.8L154.1 -26.6L155.8 -31.9L159.4 -35.4L162.9 -37.2M166.5 -37.2L170.0 -35.4L173.6 -31.9L175.3 -26.6L175.3 -15.9L173.6 -8.9L171.8 -5.3L168.2 -1.8L164.7 0.0M198.4 -37.2L193.0 -35.4L189.5 -30.1L187.7 -21.3L187.7 -15.9L189.5 -7.1L193.0 -1.8L198.4 0.0L201.9 0.0L207.2 -1.8L210.7 -7.1L212.5 -15.9L212.5 -21.3L210.7 -30.1L207.2 -35.4L201.9 -37.2L198.4 -37.2M198.4 -37.2L194.8 -35.4L193.0 -33.6L191.3 -30.1L189.5 -21.3L189.5 -15.9L191.3 -7.1L193.0 -3.5L194.8 -1.8L198.4 0.0M201.9 0.0L205.4 -1.8L207.2 -3.5L209.0 -7.1L210.7 -15.9L210.7 -21.3L209.0 -30.1L207.2 -33.6L205.4 -35.4L201.9 -37.2M254.0 -37.2L254.0 0.0M255.7 -37.2L255.7 0.0M278.8 -37.2L255.7 -14.2M264.6 -21.3L278.8 0.0M262.8 -21.3L277.0 0.0M248.6 -37.2L261.0 -37.2M271.7 -37.2L282.3 -37.2M248.6 0.0L261.0 0.0M271.7 0.0L282.3 0.0M294.7 -30.1L298.2 -31.9L303.5 -37.2L303.5 0.0M301.8 -35.4L301.8 0.0M294.7 0.0L310.6 0.0M355.6 -37.2L355.6 0.0M357.4 -37.2L357.4 0.0M350.3 -37.2L362.7 -37.2M350.3 0.0L376.9 0.0L376.9 -10.6L375.1 0.0M385.7 -14.2L407.0 -14.2L407.0 -17.7L405.2 -21.3L403.4 -23.0L399.9 -24.8L394.6 -24.8L389.3 -23.0L385.7 -19.5L384.0 -14.2L384.0 -10.6L385.7 -5.3L389.3 -1.8L394.6 0.0L398.1 0.0L403.4 -1.8L407.0 -5.3M405.2 -14.2L405.2 -19.5L403.4 -23.0M394.6 -24.8L391.0 -23.0L387.5 -19.5L385.7 -14.2L385.7 -10.6L387.5 -5.3L391.0 -1.8L394.6 0.0M417.6 -24.8L428.2 0.0M419.4 -24.8L428.2 -3.5M438.9 -24.8L428.2 0.0M414.1 -24.8L424.7 -24.8M431.8 -24.8L442.4 -24.8M451.3 -24.8L461.9 0.0M453.0 -24.8L461.9 -3.5M472.5 -24.8L461.9 0.0L458.3 7.1L454.8 10.6L451.3 12.4L449.5 12.4L447.7 10.6L449.5 8.9L451.3 10.6M447.7 -24.8L458.3 -24.8M465.4 -24.8L476.0 -24.8M524.6 -44.3L521.0 -40.7L517.5 -35.4L513.9 -28.3L512.2 -19.5L512.2 -12.4L513.9 -3.5L517.5 3.5L521.0 8.9L524.6 12.4M521.0 -40.7L517.5 -33.6L515.7 -28.3L513.9 -19.5L513.9 -12.4L515.7 -3.5L517.5 1.8L521.0 8.9M538.7 -37.2L538.7 0.0M540.5 -37.2L561.8 -3.5M540.5 -33.6L561.8 0.0M561.8 -37.2L561.8 0.0M533.4 -37.2L540.5 -37.2M556.4 -37.2L567.1 -37.2M533.4 0.0L544.1 0.0M600.7 -31.9L602.5 -26.6L602.5 -37.2L600.7 -31.9L597.2 -35.4L591.9 -37.2L588.3 -37.2L583.0 -35.4L579.5 -31.9L577.7 -28.3L575.9 -23.0L575.9 -14.2L577.7 -8.9L579.5 -5.3L583.0 -1.8L588.3 0.0L591.9 0.0L597.2 -1.8L600.7 -5.3M588.3 -37.2L584.8 -35.4L581.2 -31.9L579.5 -28.3L577.7 -23.0L577.7 -14.2L579.5 -8.9L581.2 -5.3L584.8 -1.8L588.3 0.0M600.7 -14.2L600.7 0.0M602.5 -14.2L602.5 0.0M595.4 -14.2L607.8 -14.2M620.2 -24.8L618.4 -23.0L620.2 -21.3L622.0 -23.0L620.2 -24.8M620.2 0.0L618.4 -1.8L620.2 -3.5L622.0 -1.8L622.0 1.8L620.2 5.3L618.4 7.1M663.4 -24.8L670.5 0.0M665.2 -24.8L670.5 -5.3M677.6 -24.8L670.5 0.0M677.6 -24.8L684.7 0.0M679.4 -24.8L684.7 -5.3M691.8 -24.8L684.7 0.0M658.1 -24.8L670.5 -24.8M686.4 -24.8L697.1 -24.8M705.9 -14.2L727.2 -14.2L727.2 -17.7L725.4 -21.3L723.6 -23.0L720.1 -24.8L714.8 -24.8L709.5 -23.0L705.9 -19.5L704.1 -14.2L704.1 -10.6L705.9 -5.3L709.5 -1.8L714.8 0.0L718.3 0.0L723.6 -1.8L727.2 -5.3M725.4 -14.2L725.4 -19.5L723.6 -23.0M714.8 -24.8L711.2 -23.0L707.7 -19.5L705.9 -14.2L705.9 -10.6L707.7 -5.3L711.2 -1.8L714.8 0.0M741.3 -37.2L739.6 -35.4L741.3 -33.6L743.1 -35.4L741.3 -37.2M741.3 -24.8L741.3 0.0M743.1 -24.8L743.1 0.0M736.0 -24.8L743.1 -24.8M736.0 0.0L748.4 0.0M766.1 -24.8L762.6 -23.0L760.8 -21.3L759.1 -17.7L759.1 -14.2L760.8 -10.6L762.6 -8.9L766.1 -7.1L769.7 -7.1L773.2 -8.9L775.0 -10.6L776.8 -14.2L776.8 -17.7L775.0 -21.3L773.2 -23.0L769.7 -24.8L766.1 -24.8M762.6 -23.0L760.8 -19.5L760.8 -12.4L762.6 -8.9M773.2 -8.9L775.0 -12.4L775.0 -19.5L773.2 -23.0M775.0 -21.3L776.8 -23.0L780.3 -24.8L780.3 -23.0L776.8 -23.0M760.8 -10.6L759.1 -8.9L757.3 -5.3L757.3 -3.5L759.1 0.0L764.4 1.8L773.2 1.8L778.5 3.5L780.3 5.3M757.3 -3.5L759.1 -1.8L764.4 0.0L773.2 0.0L778.5 1.8L780.3 5.3L780.3 7.1L778.5 10.6L773.2 12.4L762.6 12.4L757.3 10.6L755.5 7.1L755.5 5.3L757.3 1.8L762.6 0.0M794.5 -37.2L794.5 0.0M796.2 -37.2L796.2 0.0M796.2 -19.5L799.8 -23.0L805.1 -24.8L808.6 -24.8L814.0 -23.0L815.7 -19.5L815.7 0.0M808.6 -24.8L812.2 -23.0L814.0 -19.5L814.0 0.0M789.2 -37.2L796.2 -37.2M789.2 0.0L801.6 0.0M808.6 0.0L821.0 0.0M833.4 -37.2L833.4 -7.1L835.2 -1.8L838.7 0.0L842.3 0.0L845.8 -1.8L847.6 -5.3M835.2 -37.2L835.2 -7.1L837.0 -1.8L838.7 0.0M828.1 -24.8L842.3 -24.8M858.2 -14.2L879.5 -14.2L879.5 -17.7L877.7 -21.3L875.9 -23.0L872.4 -24.8L867.1 -24.8L861.8 -23.0L858.2 -19.5L856.5 -14.2L856.5 -10.6L858.2 -5.3L861.8 -1.8L867.1 0.0L870.6 0.0L875.9 -1.8L879.5 -5.3M877.7 -14.2L877.7 -19.5L875.9 -23.0M867.1 -24.8L863.5 -23.0L860.0 -19.5L858.2 -14.2L858.2 -10.6L860.0 -5.3L863.5 -1.8L867.1 0.0M911.4 -37.2L911.4 0.0M913.1 -37.2L913.1 0.0M911.4 -19.5L907.8 -23.0L904.3 -24.8L900.7 -24.8L895.4 -23.0L891.9 -19.5L890.1 -14.2L890.1 -10.6L891.9 -5.3L895.4 -1.8L900.7 0.0L904.3 0.0L907.8 -1.8L911.4 -5.3M900.7 -24.8L897.2 -23.0L893.6 -19.5L891.9 -14.2L891.9 -10.6L893.6 -5.3L897.2 -1.8L900.7 0.0M906.0 -37.2L913.1 -37.2M911.4 0.0L918.4 0.0M927.3 -44.3L930.8 -40.7L934.4 -35.4L937.9 -28.3L939.7 -19.5L939.7 -12.4L937.9 -3.5L934.4 3.5L930.8 8.9L927.3 12.4M930.8 -40.7L934.4 -33.6L936.2 -28.3L937.9 -19.5L937.9 -12.4L936.2 -3.5L934.4 1.8L930.8 8.9" fill="none" stroke="#000" stroke-width="5.4" stroke-linecap="butt" stroke-linejoin="round"/>
<rect x="260.0" y="1819.8" width="2006.0" height="72.6" fill="#e6e6e6"/>
<path d="M360.8 1763.8a11 11 0 1 0 22 0a11 11 0 1 0 -22 0M360.8 1780.6a11 11 0 1 0 22 0a11 11 0 1 0 -22 0M373.0 1789.8a11 11 0 1 0 22 0a11 11 0 1 0 -22 0M382.1 1806.6a11 11 0 1 0 22 0a11 11 0 1 0 -22 0M360.1 1824.6a11 11 0 1 0 22 0a11 11 0 1 0 -22 0M370.4 1837.6a11 11 0 1 0 22 0a11 11 0 1 0 -22 0M365.2 1853.1a11 11 0 1 0 22 0a11 11 0 1 0 -22 0M367.8 1863.5a11 11 0 1 0 22 0a11 11 0 1 0 -22 0M360.8 1871.2a11 11 0 1 0 22 0a11 11 0 1 0 -22 0M360.8 1884.2a11 11 0 1 0 22 0a11 11 0 1 0 -22 0M362.6 1894.5a11 11 0 1 0 22 0a11 11 0 1 0 -22 0M402.2 1783.4a11 11 0 1 0 22 0a11 11 0 1 0 -22 0M406.6 1798.9a11 11 0 1 0 22 0a11 11 0 1 0 -22 0M418.3 1805.5a11 11 0 1 0 22 0a11 11 0 1 0 -22 0M424.8 1812.0a11 11 0 1 0 22 0a11 11 0 1 0 -22 0M401.5 1819.6a11 11 0 1 0 22 0a11 11 0 1 0 -22 0M417.0 1824.9a11 11 0 1 0 22 0a11 11 0 1 0 -22 0M406.6 1837.8a11 11 0 1 0 22 0a11 11 0 1 0 -22 0M424.8 1843.0a11 11 0 1 0 22 0a11 11 0 1 0 -22 0M398.9 1855.8a11 11 0 1 0 22 0a11 11 0 1 0 -22 0M414.4 1861.1a11 11 0 1 0 22 0a11 11 0 1 0 -22 0M429.9 1858.6a11 11 0 1 0 22 0a11 11 0 1 0 -22 0M404.1 1871.4a11 11 0 1 0 22 0a11 11 0 1 0 -22 0M419.6 1879.2a11 11 0 1 0 22 0a11 11 0 1 0 -22 0M409.2 1889.5a11 11 0 1 0 22 0a11 11 0 1 0 -22 0M424.8 1894.8a11 11 0 1 0 22 0a11 11 0 1 0 -22 0M418.3 1902.5a11 11 0 1 0 22 0a11 11 0 1 0 -22 0M401.5 1884.3a11 11 0 1 0 22 0a11 11 0 1 0 -22 0M457.1 1768.1a11 11 0 1 0 22 0a11 11 0 1 0 -22 0M457.1 1800.4a11 11 0 1 0 22 0a11 11 0 1 0 -22 0M445.5 1827.6a11 11 0 1 0 22 0a11 11 0 1 0 -22 0M442.9 1843.1a11 11 0 1 0 22 0a11 11 0 1 0 -22 0M450.6 1858.6a11 11 0 1 0 22 0a11 11 0 1 0 -22 0M455.8 1874.2a11 11 0 1 0 22 0a11 11 0 1 0 -22 0M450.6 1889.7a11 11 0 1 0 22 0a11 11 0 1 0 -22 0M473.9 1871.9a11 11 0 1 0 22 0a11 11 0 1 0 -22 0M477.8 1885.0a11 11 0 1 0 22 0a11 11 0 1 0 -22 0M473.9 1895.2a11 11 0 1 0 22 0a11 11 0 1 0 -22 0M481.7 1879.9a11 11 0 1 0 22 0a11 11 0 1 0 -22 0M498.5 1815.5a11 11 0 1 0 22 0a11 11 0 1 0 -22 0M486.1 1826.9a11 11 0 1 0 22 0a11 11 0 1 0 -22 0M525.7 1851.0a11 11 0 1 0 22 0a11 11 0 1 0 -22 0M507.6 1859.7a11 11 0 1 0 22 0a11 11 0 1 0 -22 0M507.6 1875.2a11 11 0 1 0 22 0a11 11 0 1 0 -22 0M507.6 1898.5a11 11 0 1 0 22 0a11 11 0 1 0 -22 0M559.8 1829.2a11 11 0 1 0 22 0a11 11 0 1 0 -22 0M569.7 1866.2a11 11 0 1 0 22 0a11 11 0 1 0 -22 0M593.0 1851.1a11 11 0 1 0 22 0a11 11 0 1 0 -22 0M593.0 1864.1a11 11 0 1 0 22 0a11 11 0 1 0 -22 0M593.0 1877.0a11 11 0 1 0 22 0a11 11 0 1 0 -22 0M593.0 1884.8a11 11 0 1 0 22 0a11 11 0 1 0 -22 0M593.5 1792.9a11 11 0 1 0 22 0a11 11 0 1 0 -22 0M625.3 1791.0a11 11 0 1 0 22 0a11 11 0 1 0 -22 0M655.9 1783.9a11 11 0 1 0 22 0a11 11 0 1 0 -22 0M678.4 1746.3a11 11 0 1 0 22 0a11 11 0 1 0 -22 0M678.4 1793.4a11 11 0 1 0 22 0a11 11 0 1 0 -22 0M616.3 1818.0a11 11 0 1 0 22 0a11 11 0 1 0 -22 0M634.4 1810.6a11 11 0 1 0 22 0a11 11 0 1 0 -22 0M611.1 1836.0a11 11 0 1 0 22 0a11 11 0 1 0 -22 0M613.7 1851.6a11 11 0 1 0 22 0a11 11 0 1 0 -22 0M623.3 1922.9a11 11 0 1 0 22 0a11 11 0 1 0 -22 0M603.8 1944.0a11 11 0 1 0 22 0a11 11 0 1 0 -22 0M728.8 1920.2a11 11 0 1 0 22 0a11 11 0 1 0 -22 0M714.6 1904.7a11 11 0 1 0 22 0a11 11 0 1 0 -22 0M756.0 1938.3a11 11 0 1 0 22 0a11 11 0 1 0 -22 0M785.8 1950.0a11 11 0 1 0 22 0a11 11 0 1 0 -22 0M797.4 1793.4a11 11 0 1 0 22 0a11 11 0 1 0 -22 0M784.5 1798.6a11 11 0 1 0 22 0a11 11 0 1 0 -22 0M710.7 1788.2a11 11 0 1 0 22 0a11 11 0 1 0 -22 0M696.5 1803.8a11 11 0 1 0 22 0a11 11 0 1 0 -22 0M769.0 1811.5a11 11 0 1 0 22 0a11 11 0 1 0 -22 0M824.5 1829.6a11 11 0 1 0 22 0a11 11 0 1 0 -22 0M821.9 1847.8a11 11 0 1 0 22 0a11 11 0 1 0 -22 0M827.1 1863.3a11 11 0 1 0 22 0a11 11 0 1 0 -22 0M824.5 1881.4a11 11 0 1 0 22 0a11 11 0 1 0 -22 0M823.2 1894.3a11 11 0 1 0 22 0a11 11 0 1 0 -22 0M873.7 1807.6a11 11 0 1 0 22 0a11 11 0 1 0 -22 0M864.6 1904.7a11 11 0 1 0 22 0a11 11 0 1 0 -22 0M863.3 1922.8a11 11 0 1 0 22 0a11 11 0 1 0 -22 0M862.1 1940.9a11 11 0 1 0 22 0a11 11 0 1 0 -22 0M860.8 1912.5a11 11 0 1 0 22 0a11 11 0 1 0 -22 0M871.1 1889.2a11 11 0 1 0 22 0a11 11 0 1 0 -22 0M919.0 1790.8a11 11 0 1 0 22 0a11 11 0 1 0 -22 0M919.0 1816.7a11 11 0 1 0 22 0a11 11 0 1 0 -22 0M900.9 1917.6a11 11 0 1 0 22 0a11 11 0 1 0 -22 0M902.2 1920.2a11 11 0 1 0 22 0a11 11 0 1 0 -22 0M931.9 1943.5a11 11 0 1 0 22 0a11 11 0 1 0 -22 0M930.6 1933.2a11 11 0 1 0 22 0a11 11 0 1 0 -22 0M928.0 1904.7a11 11 0 1 0 22 0a11 11 0 1 0 -22 0M959.1 1770.1a11 11 0 1 0 22 0a11 11 0 1 0 -22 0M946.2 1783.1a11 11 0 1 0 22 0a11 11 0 1 0 -22 0M941.0 1796.0a11 11 0 1 0 22 0a11 11 0 1 0 -22 0M981.1 1951.3a11 11 0 1 0 22 0a11 11 0 1 0 -22 0M977.2 1935.7a11 11 0 1 0 22 0a11 11 0 1 0 -22 0M974.6 1920.2a11 11 0 1 0 22 0a11 11 0 1 0 -22 0M1014.7 1768.5a11 11 0 1 0 22 0a11 11 0 1 0 -22 0M1005.7 1801.0a11 11 0 1 0 22 0a11 11 0 1 0 -22 0M1034.2 1790.3a11 11 0 1 0 22 0a11 11 0 1 0 -22 0M1013.5 1935.5a11 11 0 1 0 22 0a11 11 0 1 0 -22 0M1009.6 1922.6a11 11 0 1 0 22 0a11 11 0 1 0 -22 0M1073.0 1769.1a11 11 0 1 0 22 0a11 11 0 1 0 -22 0M1073.0 1784.6a11 11 0 1 0 22 0a11 11 0 1 0 -22 0M1057.4 1955.6a11 11 0 1 0 22 0a11 11 0 1 0 -22 0M1056.2 1940.1a11 11 0 1 0 22 0a11 11 0 1 0 -22 0M1054.9 1922.0a11 11 0 1 0 22 0a11 11 0 1 0 -22 0M1114.4 1823.0a11 11 0 1 0 22 0a11 11 0 1 0 -22 0M1137.7 1824.0a11 11 0 1 0 22 0a11 11 0 1 0 -22 0M1104.0 1882.6a11 11 0 1 0 22 0a11 11 0 1 0 -22 0M1104.0 1911.1a11 11 0 1 0 22 0a11 11 0 1 0 -22 0M1114.4 1887.7a11 11 0 1 0 22 0a11 11 0 1 0 -22 0M1171.3 1830.0a11 11 0 1 0 22 0a11 11 0 1 0 -22 0M1181.7 1822.2a11 11 0 1 0 22 0a11 11 0 1 0 -22 0M1168.7 1835.3a11 11 0 1 0 22 0a11 11 0 1 0 -22 0M1148.0 1871.7a11 11 0 1 0 22 0a11 11 0 1 0 -22 0M1161.0 1871.6a11 11 0 1 0 22 0a11 11 0 1 0 -22 0M1179.1 1866.2a11 11 0 1 0 22 0a11 11 0 1 0 -22 0M1206.8 1752.0a11 11 0 1 0 22 0a11 11 0 1 0 -22 0M1234.7 1786.8a11 11 0 1 0 22 0a11 11 0 1 0 -22 0M1254.1 1805.9a11 11 0 1 0 22 0a11 11 0 1 0 -22 0M1269.7 1837.9a11 11 0 1 0 22 0a11 11 0 1 0 -22 0M1282.6 1842.9a11 11 0 1 0 22 0a11 11 0 1 0 -22 0M1264.5 1853.6a11 11 0 1 0 22 0a11 11 0 1 0 -22 0M1232.1 1882.7a11 11 0 1 0 22 0a11 11 0 1 0 -22 0M1230.8 1890.5a11 11 0 1 0 22 0a11 11 0 1 0 -22 0M1245.1 1903.1a11 11 0 1 0 22 0a11 11 0 1 0 -22 0M1273.5 1897.4a11 11 0 1 0 22 0a11 11 0 1 0 -22 0M1259.3 1869.2a11 11 0 1 0 22 0a11 11 0 1 0 -22 0M1283.9 1924.4a11 11 0 1 0 22 0a11 11 0 1 0 -22 0M1273.5 1951.7a11 11 0 1 0 22 0a11 11 0 1 0 -22 0M1273.5 1936.2a11 11 0 1 0 22 0a11 11 0 1 0 -22 0M1466.5 1819.3a11 11 0 1 0 22 0a11 11 0 1 0 -22 0M1533.8 1807.6a11 11 0 1 0 22 0a11 11 0 1 0 -22 0M1533.8 1816.7a11 11 0 1 0 22 0a11 11 0 1 0 -22 0M1553.2 1810.2a11 11 0 1 0 22 0a11 11 0 1 0 -22 0M1573.4 1805.0a11 11 0 1 0 22 0a11 11 0 1 0 -22 0M612.8 1849.6a11 11 0 1 0 22 0a11 11 0 1 0 -22 0M613.3 1833.3a11 11 0 1 0 22 0a11 11 0 1 0 -22 0M650.7 1841.6a11 11 0 1 0 22 0a11 11 0 1 0 -22 0M644.5 1815.4a11 11 0 1 0 22 0a11 11 0 1 0 -22 0M636.3 1865.3a11 11 0 1 0 22 0a11 11 0 1 0 -22 0M636.1 1850.4a11 11 0 1 0 22 0a11 11 0 1 0 -22 0M627.7 1874.8a11 11 0 1 0 22 0a11 11 0 1 0 -22 0M628.7 1852.8a11 11 0 1 0 22 0a11 11 0 1 0 -22 0M623.4 1882.1a11 11 0 1 0 22 0a11 11 0 1 0 -22 0M623.4 1825.3a11 11 0 1 0 22 0a11 11 0 1 0 -22 0M634.8 1818.2a11 11 0 1 0 22 0a11 11 0 1 0 -22 0M616.8 1852.8a11 11 0 1 0 22 0a11 11 0 1 0 -22 0M637.6 1846.3a11 11 0 1 0 22 0a11 11 0 1 0 -22 0M626.6 1812.6a11 11 0 1 0 22 0a11 11 0 1 0 -22 0M664.7 1842.9a11 11 0 1 0 22 0a11 11 0 1 0 -22 0M674.4 1841.4a11 11 0 1 0 22 0a11 11 0 1 0 -22 0M692.3 1876.1a11 11 0 1 0 22 0a11 11 0 1 0 -22 0M658.4 1831.4a11 11 0 1 0 22 0a11 11 0 1 0 -22 0M673.8 1816.8a11 11 0 1 0 22 0a11 11 0 1 0 -22 0M699.8 1840.6a11 11 0 1 0 22 0a11 11 0 1 0 -22 0M685.2 1885.4a11 11 0 1 0 22 0a11 11 0 1 0 -22 0M705.9 1823.2a11 11 0 1 0 22 0a11 11 0 1 0 -22 0M652.2 1812.7a11 11 0 1 0 22 0a11 11 0 1 0 -22 0M666.2 1800.2a11 11 0 1 0 22 0a11 11 0 1 0 -22 0M671.7 1823.5a11 11 0 1 0 22 0a11 11 0 1 0 -22 0M665.0 1841.6a11 11 0 1 0 22 0a11 11 0 1 0 -22 0M692.4 1824.1a11 11 0 1 0 22 0a11 11 0 1 0 -22 0M680.4 1829.9a11 11 0 1 0 22 0a11 11 0 1 0 -22 0M680.2 1823.5a11 11 0 1 0 22 0a11 11 0 1 0 -22 0M682.8 1840.8a11 11 0 1 0 22 0a11 11 0 1 0 -22 0M770.9 1872.8a11 11 0 1 0 22 0a11 11 0 1 0 -22 0M739.6 1822.7a11 11 0 1 0 22 0a11 11 0 1 0 -22 0M772.6 1921.5a11 11 0 1 0 22 0a11 11 0 1 0 -22 0M781.4 1851.3a11 11 0 1 0 22 0a11 11 0 1 0 -22 0M721.1 1840.6a11 11 0 1 0 22 0a11 11 0 1 0 -22 0M702.9 1896.6a11 11 0 1 0 22 0a11 11 0 1 0 -22 0M753.8 1804.4a11 11 0 1 0 22 0a11 11 0 1 0 -22 0M732.5 1856.0a11 11 0 1 0 22 0a11 11 0 1 0 -22 0M713.7 1847.0a11 11 0 1 0 22 0a11 11 0 1 0 -22 0M753.7 1875.4a11 11 0 1 0 22 0a11 11 0 1 0 -22 0M752.7 1838.7a11 11 0 1 0 22 0a11 11 0 1 0 -22 0M760.8 1806.7a11 11 0 1 0 22 0a11 11 0 1 0 -22 0M722.3 1903.3a11 11 0 1 0 22 0a11 11 0 1 0 -22 0M752.1 1835.6a11 11 0 1 0 22 0a11 11 0 1 0 -22 0M754.4 1899.4a11 11 0 1 0 22 0a11 11 0 1 0 -22 0M768.4 1836.3a11 11 0 1 0 22 0a11 11 0 1 0 -22 0M710.8 1893.8a11 11 0 1 0 22 0a11 11 0 1 0 -22 0M748.2 1848.0a11 11 0 1 0 22 0a11 11 0 1 0 -22 0M719.2 1800.8a11 11 0 1 0 22 0a11 11 0 1 0 -22 0M740.1 1901.6a11 11 0 1 0 22 0a11 11 0 1 0 -22 0M743.1 1851.9a11 11 0 1 0 22 0a11 11 0 1 0 -22 0M779.8 1910.1a11 11 0 1 0 22 0a11 11 0 1 0 -22 0M714.3 1811.1a11 11 0 1 0 22 0a11 11 0 1 0 -22 0M713.8 1826.8a11 11 0 1 0 22 0a11 11 0 1 0 -22 0M733.6 1876.7a11 11 0 1 0 22 0a11 11 0 1 0 -22 0M739.5 1880.8a11 11 0 1 0 22 0a11 11 0 1 0 -22 0M731.4 1854.7a11 11 0 1 0 22 0a11 11 0 1 0 -22 0M763.4 1844.9a11 11 0 1 0 22 0a11 11 0 1 0 -22 0M712.9 1866.9a11 11 0 1 0 22 0a11 11 0 1 0 -22 0M721.9 1846.4a11 11 0 1 0 22 0a11 11 0 1 0 -22 0M749.9 1913.9a11 11 0 1 0 22 0a11 11 0 1 0 -22 0M732.4 1887.7a11 11 0 1 0 22 0a11 11 0 1 0 -22 0M752.6 1893.4a11 11 0 1 0 22 0a11 11 0 1 0 -22 0M735.2 1902.5a11 11 0 1 0 22 0a11 11 0 1 0 -22 0M724.5 1879.2a11 11 0 1 0 22 0a11 11 0 1 0 -22 0M749.9 1896.4a11 11 0 1 0 22 0a11 11 0 1 0 -22 0M728.9 1883.5a11 11 0 1 0 22 0a11 11 0 1 0 -22 0M741.3 1907.4a11 11 0 1 0 22 0a11 11 0 1 0 -22 0M762.4 1869.6a11 11 0 1 0 22 0a11 11 0 1 0 -22 0M730.6 1921.0a11 11 0 1 0 22 0a11 11 0 1 0 -22 0M759.8 1883.7a11 11 0 1 0 22 0a11 11 0 1 0 -22 0M761.1 1869.2a11 11 0 1 0 22 0a11 11 0 1 0 -22 0M797.9 1835.6a11 11 0 1 0 22 0a11 11 0 1 0 -22 0M779.0 1819.0a11 11 0 1 0 22 0a11 11 0 1 0 -22 0M810.8 1911.6a11 11 0 1 0 22 0a11 11 0 1 0 -22 0M789.9 1823.0a11 11 0 1 0 22 0a11 11 0 1 0 -22 0M780.1 1834.6a11 11 0 1 0 22 0a11 11 0 1 0 -22 0M805.3 1833.9a11 11 0 1 0 22 0a11 11 0 1 0 -22 0M811.4 1870.3a11 11 0 1 0 22 0a11 11 0 1 0 -22 0M790.4 1846.9a11 11 0 1 0 22 0a11 11 0 1 0 -22 0M787.1 1891.7a11 11 0 1 0 22 0a11 11 0 1 0 -22 0M817.2 1875.6a11 11 0 1 0 22 0a11 11 0 1 0 -22 0M831.2 1833.0a11 11 0 1 0 22 0a11 11 0 1 0 -22 0M819.8 1868.6a11 11 0 1 0 22 0a11 11 0 1 0 -22 0M824.8 1823.6a11 11 0 1 0 22 0a11 11 0 1 0 -22 0M789.2 1822.1a11 11 0 1 0 22 0a11 11 0 1 0 -22 0M810.3 1852.1a11 11 0 1 0 22 0a11 11 0 1 0 -22 0M808.8 1880.9a11 11 0 1 0 22 0a11 11 0 1 0 -22 0M818.0 1815.7a11 11 0 1 0 22 0a11 11 0 1 0 -22 0M789.1 1881.4a11 11 0 1 0 22 0a11 11 0 1 0 -22 0M879.0 1838.5a11 11 0 1 0 22 0a11 11 0 1 0 -22 0M883.3 1884.4a11 11 0 1 0 22 0a11 11 0 1 0 -22 0M865.4 1849.6a11 11 0 1 0 22 0a11 11 0 1 0 -22 0M867.8 1843.4a11 11 0 1 0 22 0a11 11 0 1 0 -22 0M885.6 1901.4a11 11 0 1 0 22 0a11 11 0 1 0 -22 0M914.4 1814.2a11 11 0 1 0 22 0a11 11 0 1 0 -22 0M857.0 1929.8a11 11 0 1 0 22 0a11 11 0 1 0 -22 0M863.9 1918.7a11 11 0 1 0 22 0a11 11 0 1 0 -22 0M864.6 1896.6a11 11 0 1 0 22 0a11 11 0 1 0 -22 0M877.1 1839.7a11 11 0 1 0 22 0a11 11 0 1 0 -22 0M905.9 1878.7a11 11 0 1 0 22 0a11 11 0 1 0 -22 0M852.3 1875.8a11 11 0 1 0 22 0a11 11 0 1 0 -22 0M854.4 1882.4a11 11 0 1 0 22 0a11 11 0 1 0 -22 0M874.8 1888.3a11 11 0 1 0 22 0a11 11 0 1 0 -22 0M914.7 1849.8a11 11 0 1 0 22 0a11 11 0 1 0 -22 0M903.1 1862.3a11 11 0 1 0 22 0a11 11 0 1 0 -22 0M884.2 1898.7a11 11 0 1 0 22 0a11 11 0 1 0 -22 0M864.4 1898.5a11 11 0 1 0 22 0a11 11 0 1 0 -22 0M876.2 1872.9a11 11 0 1 0 22 0a11 11 0 1 0 -22 0M858.8 1833.1a11 11 0 1 0 22 0a11 11 0 1 0 -22 0M866.7 1926.1a11 11 0 1 0 22 0a11 11 0 1 0 -22 0M897.7 1852.2a11 11 0 1 0 22 0a11 11 0 1 0 -22 0M981.2 1896.4a11 11 0 1 0 22 0a11 11 0 1 0 -22 0M923.5 1866.5a11 11 0 1 0 22 0a11 11 0 1 0 -22 0M973.8 1811.1a11 11 0 1 0 22 0a11 11 0 1 0 -22 0M979.6 1786.8a11 11 0 1 0 22 0a11 11 0 1 0 -22 0M984.5 1888.5a11 11 0 1 0 22 0a11 11 0 1 0 -22 0M931.8 1852.6a11 11 0 1 0 22 0a11 11 0 1 0 -22 0M937.5 1861.5a11 11 0 1 0 22 0a11 11 0 1 0 -22 0M944.6 1815.7a11 11 0 1 0 22 0a11 11 0 1 0 -22 0M924.6 1838.2a11 11 0 1 0 22 0a11 11 0 1 0 -22 0M990.7 1853.5a11 11 0 1 0 22 0a11 11 0 1 0 -22 0M970.6 1836.8a11 11 0 1 0 22 0a11 11 0 1 0 -22 0M936.7 1935.6a11 11 0 1 0 22 0a11 11 0 1 0 -22 0M935.0 1872.1a11 11 0 1 0 22 0a11 11 0 1 0 -22 0M962.3 1900.1a11 11 0 1 0 22 0a11 11 0 1 0 -22 0M933.1 1798.6a11 11 0 1 0 22 0a11 11 0 1 0 -22 0M961.0 1855.0a11 11 0 1 0 22 0a11 11 0 1 0 -22 0M959.9 1855.5a11 11 0 1 0 22 0a11 11 0 1 0 -22 0M947.4 1902.7a11 11 0 1 0 22 0a11 11 0 1 0 -22 0M940.1 1876.1a11 11 0 1 0 22 0a11 11 0 1 0 -22 0M982.5 1788.5a11 11 0 1 0 22 0a11 11 0 1 0 -22 0M991.7 1932.5a11 11 0 1 0 22 0a11 11 0 1 0 -22 0M951.7 1856.4a11 11 0 1 0 22 0a11 11 0 1 0 -22 0M931.1 1802.3a11 11 0 1 0 22 0a11 11 0 1 0 -22 0M934.1 1818.9a11 11 0 1 0 22 0a11 11 0 1 0 -22 0M955.1 1849.0a11 11 0 1 0 22 0a11 11 0 1 0 -22 0M924.6 1855.1a11 11 0 1 0 22 0a11 11 0 1 0 -22 0M953.7 1910.0a11 11 0 1 0 22 0a11 11 0 1 0 -22 0M965.4 1928.3a11 11 0 1 0 22 0a11 11 0 1 0 -22 0M953.6 1866.2a11 11 0 1 0 22 0a11 11 0 1 0 -22 0M921.2 1833.8a11 11 0 1 0 22 0a11 11 0 1 0 -22 0M923.0 1904.0a11 11 0 1 0 22 0a11 11 0 1 0 -22 0M962.8 1849.2a11 11 0 1 0 22 0a11 11 0 1 0 -22 0M975.1 1914.6a11 11 0 1 0 22 0a11 11 0 1 0 -22 0M955.7 1903.9a11 11 0 1 0 22 0a11 11 0 1 0 -22 0M959.1 1884.6a11 11 0 1 0 22 0a11 11 0 1 0 -22 0M974.0 1920.5a11 11 0 1 0 22 0a11 11 0 1 0 -22 0M971.9 1893.0a11 11 0 1 0 22 0a11 11 0 1 0 -22 0M955.5 1794.6a11 11 0 1 0 22 0a11 11 0 1 0 -22 0M992.2 1861.6a11 11 0 1 0 22 0a11 11 0 1 0 -22 0M985.7 1843.3a11 11 0 1 0 22 0a11 11 0 1 0 -22 0M923.6 1824.9a11 11 0 1 0 22 0a11 11 0 1 0 -22 0M991.5 1838.4a11 11 0 1 0 22 0a11 11 0 1 0 -22 0M934.0 1911.0a11 11 0 1 0 22 0a11 11 0 1 0 -22 0M921.2 1909.6a11 11 0 1 0 22 0a11 11 0 1 0 -22 0M980.5 1917.5a11 11 0 1 0 22 0a11 11 0 1 0 -22 0M932.9 1912.0a11 11 0 1 0 22 0a11 11 0 1 0 -22 0M979.9 1915.4a11 11 0 1 0 22 0a11 11 0 1 0 -22 0M971.3 1895.0a11 11 0 1 0 22 0a11 11 0 1 0 -22 0M945.3 1906.9a11 11 0 1 0 22 0a11 11 0 1 0 -22 0M966.0 1934.9a11 11 0 1 0 22 0a11 11 0 1 0 -22 0M928.1 1926.0a11 11 0 1 0 22 0a11 11 0 1 0 -22 0M960.2 1904.5a11 11 0 1 0 22 0a11 11 0 1 0 -22 0M1040.3 1837.9a11 11 0 1 0 22 0a11 11 0 1 0 -22 0M1066.2 1858.4a11 11 0 1 0 22 0a11 11 0 1 0 -22 0M1078.1 1874.5a11 11 0 1 0 22 0a11 11 0 1 0 -22 0M1010.9 1930.8a11 11 0 1 0 22 0a11 11 0 1 0 -22 0M1065.3 1837.1a11 11 0 1 0 22 0a11 11 0 1 0 -22 0M997.8 1883.5a11 11 0 1 0 22 0a11 11 0 1 0 -22 0M1038.5 1838.5a11 11 0 1 0 22 0a11 11 0 1 0 -22 0M1057.8 1859.3a11 11 0 1 0 22 0a11 11 0 1 0 -22 0M1069.5 1818.2a11 11 0 1 0 22 0a11 11 0 1 0 -22 0M1014.6 1873.1a11 11 0 1 0 22 0a11 11 0 1 0 -22 0M1039.6 1891.6a11 11 0 1 0 22 0a11 11 0 1 0 -22 0M1012.6 1805.0a11 11 0 1 0 22 0a11 11 0 1 0 -22 0M1030.1 1876.7a11 11 0 1 0 22 0a11 11 0 1 0 -22 0M999.1 1897.3a11 11 0 1 0 22 0a11 11 0 1 0 -22 0M1020.2 1804.1a11 11 0 1 0 22 0a11 11 0 1 0 -22 0M1013.9 1797.3a11 11 0 1 0 22 0a11 11 0 1 0 -22 0M1029.0 1849.5a11 11 0 1 0 22 0a11 11 0 1 0 -22 0M1030.4 1839.8a11 11 0 1 0 22 0a11 11 0 1 0 -22 0M1053.0 1848.7a11 11 0 1 0 22 0a11 11 0 1 0 -22 0M1048.5 1920.6a11 11 0 1 0 22 0a11 11 0 1 0 -22 0M1040.0 1882.8a11 11 0 1 0 22 0a11 11 0 1 0 -22 0M1032.0 1818.8a11 11 0 1 0 22 0a11 11 0 1 0 -22 0M1050.7 1850.2a11 11 0 1 0 22 0a11 11 0 1 0 -22 0M1017.6 1923.6a11 11 0 1 0 22 0a11 11 0 1 0 -22 0M1002.4 1897.8a11 11 0 1 0 22 0a11 11 0 1 0 -22 0M1005.5 1863.6a11 11 0 1 0 22 0a11 11 0 1 0 -22 0M1048.7 1878.4a11 11 0 1 0 22 0a11 11 0 1 0 -22 0M1061.7 1813.3a11 11 0 1 0 22 0a11 11 0 1 0 -22 0M1046.7 1913.1a11 11 0 1 0 22 0a11 11 0 1 0 -22 0M1050.7 1859.2a11 11 0 1 0 22 0a11 11 0 1 0 -22 0M1033.0 1813.1a11 11 0 1 0 22 0a11 11 0 1 0 -22 0M1001.4 1868.1a11 11 0 1 0 22 0a11 11 0 1 0 -22 0M1077.7 1842.6a11 11 0 1 0 22 0a11 11 0 1 0 -22 0M1077.0 1845.7a11 11 0 1 0 22 0a11 11 0 1 0 -22 0M1068.9 1854.8a11 11 0 1 0 22 0a11 11 0 1 0 -22 0M992.8 1829.5a11 11 0 1 0 22 0a11 11 0 1 0 -22 0M1036.5 1858.1a11 11 0 1 0 22 0a11 11 0 1 0 -22 0M1000.7 1917.4a11 11 0 1 0 22 0a11 11 0 1 0 -22 0M1065.6 1802.1a11 11 0 1 0 22 0a11 11 0 1 0 -22 0M1049.1 1852.0a11 11 0 1 0 22 0a11 11 0 1 0 -22 0M1013.8 1879.4a11 11 0 1 0 22 0a11 11 0 1 0 -22 0M1058.7 1877.2a11 11 0 1 0 22 0a11 11 0 1 0 -22 0M1061.6 1920.0a11 11 0 1 0 22 0a11 11 0 1 0 -22 0M1036.6 1920.8a11 11 0 1 0 22 0a11 11 0 1 0 -22 0M1018.8 1930.4a11 11 0 1 0 22 0a11 11 0 1 0 -22 0M1039.6 1922.4a11 11 0 1 0 22 0a11 11 0 1 0 -22 0M1027.8 1908.1a11 11 0 1 0 22 0a11 11 0 1 0 -22 0M1002.4 1890.1a11 11 0 1 0 22 0a11 11 0 1 0 -22 0M1041.6 1893.4a11 11 0 1 0 22 0a11 11 0 1 0 -22 0M1069.3 1905.7a11 11 0 1 0 22 0a11 11 0 1 0 -22 0M1077.6 1922.6a11 11 0 1 0 22 0a11 11 0 1 0 -22 0M1071.9 1917.1a11 11 0 1 0 22 0a11 11 0 1 0 -22 0" fill="#ff00ff"/>
<path d="M361.1 1792.1a10.7 10.7 0 1 0 21.4 0a10.7 10.7 0 1 0 -21.4 0M382.9 1812.2a10.7 10.7 0 1 0 21.4 0a10.7 10.7 0 1 0 -21.4 0M369.4 1824.2a10.7 10.7 0 1 0 21.4 0a10.7 10.7 0 1 0 -21.4 0M421.7 1829.2a10.7 10.7 0 1 0 21.4 0a10.7 10.7 0 1 0 -21.4 0M399.2 1842.8a10.7 10.7 0 1 0 21.4 0a10.7 10.7 0 1 0 -21.4 0M404.4 1847.8a10.7 10.7 0 1 0 21.4 0a10.7 10.7 0 1 0 -21.4 0M396.6 1853.2a10.7 10.7 0 1 0 21.4 0a10.7 10.7 0 1 0 -21.4 0M409.5 1842.5a10.7 10.7 0 1 0 21.4 0a10.7 10.7 0 1 0 -21.4 0M394.0 1858.5a10.7 10.7 0 1 0 21.4 0a10.7 10.7 0 1 0 -21.4 0M406.9 1858.1a10.7 10.7 0 1 0 21.4 0a10.7 10.7 0 1 0 -21.4 0M401.8 1837.5a10.7 10.7 0 1 0 21.4 0a10.7 10.7 0 1 0 -21.4 0M391.4 1848.2a10.7 10.7 0 1 0 21.4 0a10.7 10.7 0 1 0 -21.4 0M361.1 1880.1a10.7 10.7 0 1 0 21.4 0a10.7 10.7 0 1 0 -21.4 0M362.9 1890.4a10.7 10.7 0 1 0 21.4 0a10.7 10.7 0 1 0 -21.4 0M382.4 1882.1a10.7 10.7 0 1 0 21.4 0a10.7 10.7 0 1 0 -21.4 0M365.5 1903.3a10.7 10.7 0 1 0 21.4 0a10.7 10.7 0 1 0 -21.4 0M368.1 1911.0a10.7 10.7 0 1 0 21.4 0a10.7 10.7 0 1 0 -21.4 0M362.9 1918.9a10.7 10.7 0 1 0 21.4 0a10.7 10.7 0 1 0 -21.4 0M370.7 1921.2a10.7 10.7 0 1 0 21.4 0a10.7 10.7 0 1 0 -21.4 0M366.8 1929.1a10.7 10.7 0 1 0 21.4 0a10.7 10.7 0 1 0 -21.4 0M360.4 1933.2a10.7 10.7 0 1 0 21.4 0a10.7 10.7 0 1 0 -21.4 0M372.0 1929.0a10.7 10.7 0 1 0 21.4 0a10.7 10.7 0 1 0 -21.4 0M368.1 1916.1a10.7 10.7 0 1 0 21.4 0a10.7 10.7 0 1 0 -21.4 0M364.2 1924.0a10.7 10.7 0 1 0 21.4 0a10.7 10.7 0 1 0 -21.4 0M369.4 1907.0a10.7 10.7 0 1 0 21.4 0a10.7 10.7 0 1 0 -21.4 0M361.6 1913.7a10.7 10.7 0 1 0 21.4 0a10.7 10.7 0 1 0 -21.4 0M394.0 1892.1a10.7 10.7 0 1 0 21.4 0a10.7 10.7 0 1 0 -21.4 0M406.9 1878.8a10.7 10.7 0 1 0 21.4 0a10.7 10.7 0 1 0 -21.4 0M417.3 1881.1a10.7 10.7 0 1 0 21.4 0a10.7 10.7 0 1 0 -21.4 0M422.5 1893.9a10.7 10.7 0 1 0 21.4 0a10.7 10.7 0 1 0 -21.4 0M412.1 1894.2a10.7 10.7 0 1 0 21.4 0a10.7 10.7 0 1 0 -21.4 0M419.9 1904.3a10.7 10.7 0 1 0 21.4 0a10.7 10.7 0 1 0 -21.4 0M406.9 1894.3a10.7 10.7 0 1 0 21.4 0a10.7 10.7 0 1 0 -21.4 0M399.2 1884.2a10.7 10.7 0 1 0 21.4 0a10.7 10.7 0 1 0 -21.4 0M427.6 1880.8a10.7 10.7 0 1 0 21.4 0a10.7 10.7 0 1 0 -21.4 0M414.7 1870.8a10.7 10.7 0 1 0 21.4 0a10.7 10.7 0 1 0 -21.4 0M419.9 1865.5a10.7 10.7 0 1 0 21.4 0a10.7 10.7 0 1 0 -21.4 0M401.8 1902.2a10.7 10.7 0 1 0 21.4 0a10.7 10.7 0 1 0 -21.4 0M414.7 1886.3a10.7 10.7 0 1 0 21.4 0a10.7 10.7 0 1 0 -21.4 0M423.8 1873.2a10.7 10.7 0 1 0 21.4 0a10.7 10.7 0 1 0 -21.4 0M408.2 1915.0a10.7 10.7 0 1 0 21.4 0a10.7 10.7 0 1 0 -21.4 0M443.2 1903.7a10.7 10.7 0 1 0 21.4 0a10.7 10.7 0 1 0 -21.4 0M450.2 1845.2a10.7 10.7 0 1 0 21.4 0a10.7 10.7 0 1 0 -21.4 0M450.2 1855.6a10.7 10.7 0 1 0 21.4 0a10.7 10.7 0 1 0 -21.4 0M443.2 1867.4a10.7 10.7 0 1 0 21.4 0a10.7 10.7 0 1 0 -21.4 0M453.5 1887.8a10.7 10.7 0 1 0 21.4 0a10.7 10.7 0 1 0 -21.4 0M458.7 1892.9a10.7 10.7 0 1 0 21.4 0a10.7 10.7 0 1 0 -21.4 0M475.5 1864.1a10.7 10.7 0 1 0 21.4 0a10.7 10.7 0 1 0 -21.4 0M485.9 1860.1a10.7 10.7 0 1 0 21.4 0a10.7 10.7 0 1 0 -21.4 0M498.8 1813.5a10.7 10.7 0 1 0 21.4 0a10.7 10.7 0 1 0 -21.4 0M505.3 1875.6a10.7 10.7 0 1 0 21.4 0a10.7 10.7 0 1 0 -21.4 0M507.9 1882.0a10.7 10.7 0 1 0 21.4 0a10.7 10.7 0 1 0 -21.4 0M507.9 1889.8a10.7 10.7 0 1 0 21.4 0a10.7 10.7 0 1 0 -21.4 0M526.0 1889.7a10.7 10.7 0 1 0 21.4 0a10.7 10.7 0 1 0 -21.4 0M507.9 1907.9a10.7 10.7 0 1 0 21.4 0a10.7 10.7 0 1 0 -21.4 0M466.5 1935.3a10.7 10.7 0 1 0 21.4 0a10.7 10.7 0 1 0 -21.4 0M559.6 1883.1a10.7 10.7 0 1 0 21.4 0a10.7 10.7 0 1 0 -21.4 0M568.7 1903.7a10.7 10.7 0 1 0 21.4 0a10.7 10.7 0 1 0 -21.4 0M593.3 1854.5a10.7 10.7 0 1 0 21.4 0a10.7 10.7 0 1 0 -21.4 0M603.6 1858.3a10.7 10.7 0 1 0 21.4 0a10.7 10.7 0 1 0 -21.4 0M593.3 1871.3a10.7 10.7 0 1 0 21.4 0a10.7 10.7 0 1 0 -21.4 0M593.3 1884.2a10.7 10.7 0 1 0 21.4 0a10.7 10.7 0 1 0 -21.4 0M593.3 1907.5a10.7 10.7 0 1 0 21.4 0a10.7 10.7 0 1 0 -21.4 0M604.9 1904.9a10.7 10.7 0 1 0 21.4 0a10.7 10.7 0 1 0 -21.4 0M612.7 1806.5a10.7 10.7 0 1 0 21.4 0a10.7 10.7 0 1 0 -21.4 0M623.0 1822.0a10.7 10.7 0 1 0 21.4 0a10.7 10.7 0 1 0 -21.4 0M629.5 1850.4a10.7 10.7 0 1 0 21.4 0a10.7 10.7 0 1 0 -21.4 0M630.8 1865.9a10.7 10.7 0 1 0 21.4 0a10.7 10.7 0 1 0 -21.4 0M626.9 1878.9a10.7 10.7 0 1 0 21.4 0a10.7 10.7 0 1 0 -21.4 0M632.1 1891.8a10.7 10.7 0 1 0 21.4 0a10.7 10.7 0 1 0 -21.4 0M637.3 1902.1a10.7 10.7 0 1 0 21.4 0a10.7 10.7 0 1 0 -21.4 0M624.3 1891.8a10.7 10.7 0 1 0 21.4 0a10.7 10.7 0 1 0 -21.4 0M629.5 1860.7a10.7 10.7 0 1 0 21.4 0a10.7 10.7 0 1 0 -21.4 0M655.4 1811.3a10.7 10.7 0 1 0 21.4 0a10.7 10.7 0 1 0 -21.4 0M670.9 1800.8a10.7 10.7 0 1 0 21.4 0a10.7 10.7 0 1 0 -21.4 0M652.8 1824.3a10.7 10.7 0 1 0 21.4 0a10.7 10.7 0 1 0 -21.4 0M650.2 1832.1a10.7 10.7 0 1 0 21.4 0a10.7 10.7 0 1 0 -21.4 0M655.4 1855.3a10.7 10.7 0 1 0 21.4 0a10.7 10.7 0 1 0 -21.4 0M633.4 1960.4a10.7 10.7 0 1 0 21.4 0a10.7 10.7 0 1 0 -21.4 0M663.2 1881.1a10.7 10.7 0 1 0 21.4 0a10.7 10.7 0 1 0 -21.4 0M676.1 1875.8a10.7 10.7 0 1 0 21.4 0a10.7 10.7 0 1 0 -21.4 0M683.9 1875.7a10.7 10.7 0 1 0 21.4 0a10.7 10.7 0 1 0 -21.4 0M678.7 1844.7a10.7 10.7 0 1 0 21.4 0a10.7 10.7 0 1 0 -21.4 0M696.8 1880.7a10.7 10.7 0 1 0 21.4 0a10.7 10.7 0 1 0 -21.4 0M676.1 1896.5a10.7 10.7 0 1 0 21.4 0a10.7 10.7 0 1 0 -21.4 0M677.4 1904.2a10.7 10.7 0 1 0 21.4 0a10.7 10.7 0 1 0 -21.4 0M673.5 1922.4a10.7 10.7 0 1 0 21.4 0a10.7 10.7 0 1 0 -21.4 0M677.4 1946.2a10.7 10.7 0 1 0 21.4 0a10.7 10.7 0 1 0 -21.4 0M712.3 1791.1a10.7 10.7 0 1 0 21.4 0a10.7 10.7 0 1 0 -21.4 0M738.2 1790.7a10.7 10.7 0 1 0 21.4 0a10.7 10.7 0 1 0 -21.4 0M758.9 1789.1a10.7 10.7 0 1 0 21.4 0a10.7 10.7 0 1 0 -21.4 0M758.9 1796.8a10.7 10.7 0 1 0 21.4 0a10.7 10.7 0 1 0 -21.4 0M758.9 1804.6a10.7 10.7 0 1 0 21.4 0a10.7 10.7 0 1 0 -21.4 0M691.6 1818.7a10.7 10.7 0 1 0 21.4 0a10.7 10.7 0 1 0 -21.4 0M702.0 1813.3a10.7 10.7 0 1 0 21.4 0a10.7 10.7 0 1 0 -21.4 0M696.8 1826.3a10.7 10.7 0 1 0 21.4 0a10.7 10.7 0 1 0 -21.4 0M752.4 1913.4a10.7 10.7 0 1 0 21.4 0a10.7 10.7 0 1 0 -21.4 0M766.7 1928.7a10.7 10.7 0 1 0 21.4 0a10.7 10.7 0 1 0 -21.4 0M771.8 1933.8a10.7 10.7 0 1 0 21.4 0a10.7 10.7 0 1 0 -21.4 0M774.4 1937.6a10.7 10.7 0 1 0 21.4 0a10.7 10.7 0 1 0 -21.4 0M784.8 1806.8a10.7 10.7 0 1 0 21.4 0a10.7 10.7 0 1 0 -21.4 0M809.4 1803.8a10.7 10.7 0 1 0 21.4 0a10.7 10.7 0 1 0 -21.4 0M795.1 1824.7a10.7 10.7 0 1 0 21.4 0a10.7 10.7 0 1 0 -21.4 0M808.1 1824.5a10.7 10.7 0 1 0 21.4 0a10.7 10.7 0 1 0 -21.4 0M782.2 1830.1a10.7 10.7 0 1 0 21.4 0a10.7 10.7 0 1 0 -21.4 0M795.1 1912.7a10.7 10.7 0 1 0 21.4 0a10.7 10.7 0 1 0 -21.4 0M808.1 1899.6a10.7 10.7 0 1 0 21.4 0a10.7 10.7 0 1 0 -21.4 0M815.8 1907.2a10.7 10.7 0 1 0 21.4 0a10.7 10.7 0 1 0 -21.4 0M797.7 1886.8a10.7 10.7 0 1 0 21.4 0a10.7 10.7 0 1 0 -21.4 0M790.0 1863.6a10.7 10.7 0 1 0 21.4 0a10.7 10.7 0 1 0 -21.4 0M802.9 1868.6a10.7 10.7 0 1 0 21.4 0a10.7 10.7 0 1 0 -21.4 0M821.0 1863.1a10.7 10.7 0 1 0 21.4 0a10.7 10.7 0 1 0 -21.4 0M821.0 1876.1a10.7 10.7 0 1 0 21.4 0a10.7 10.7 0 1 0 -21.4 0M811.9 1803.7a10.7 10.7 0 1 0 21.4 0a10.7 10.7 0 1 0 -21.4 0M814.5 1819.2a10.7 10.7 0 1 0 21.4 0a10.7 10.7 0 1 0 -21.4 0M822.2 1842.4a10.7 10.7 0 1 0 21.4 0a10.7 10.7 0 1 0 -21.4 0M824.8 1852.7a10.7 10.7 0 1 0 21.4 0a10.7 10.7 0 1 0 -21.4 0M823.5 1863.1a10.7 10.7 0 1 0 21.4 0a10.7 10.7 0 1 0 -21.4 0M824.8 1873.4a10.7 10.7 0 1 0 21.4 0a10.7 10.7 0 1 0 -21.4 0M822.2 1878.6a10.7 10.7 0 1 0 21.4 0a10.7 10.7 0 1 0 -21.4 0M811.9 1899.5a10.7 10.7 0 1 0 21.4 0a10.7 10.7 0 1 0 -21.4 0M817.1 1907.2a10.7 10.7 0 1 0 21.4 0a10.7 10.7 0 1 0 -21.4 0M859.8 1836.6a10.7 10.7 0 1 0 21.4 0a10.7 10.7 0 1 0 -21.4 0M861.1 1846.9a10.7 10.7 0 1 0 21.4 0a10.7 10.7 0 1 0 -21.4 0M861.1 1859.9a10.7 10.7 0 1 0 21.4 0a10.7 10.7 0 1 0 -21.4 0M859.8 1870.2a10.7 10.7 0 1 0 21.4 0a10.7 10.7 0 1 0 -21.4 0M872.7 1872.6a10.7 10.7 0 1 0 21.4 0a10.7 10.7 0 1 0 -21.4 0M872.7 1898.5a10.7 10.7 0 1 0 21.4 0a10.7 10.7 0 1 0 -21.4 0M892.1 1899.5a10.7 10.7 0 1 0 21.4 0a10.7 10.7 0 1 0 -21.4 0M874.0 1925.7a10.7 10.7 0 1 0 21.4 0a10.7 10.7 0 1 0 -21.4 0M892.1 1797.2a10.7 10.7 0 1 0 21.4 0a10.7 10.7 0 1 0 -21.4 0M902.5 1801.0a10.7 10.7 0 1 0 21.4 0a10.7 10.7 0 1 0 -21.4 0M879.2 1828.5a10.7 10.7 0 1 0 21.4 0a10.7 10.7 0 1 0 -21.4 0M886.9 1828.4a10.7 10.7 0 1 0 21.4 0a10.7 10.7 0 1 0 -21.4 0M874.0 1836.4a10.7 10.7 0 1 0 21.4 0a10.7 10.7 0 1 0 -21.4 0M894.7 1841.2a10.7 10.7 0 1 0 21.4 0a10.7 10.7 0 1 0 -21.4 0M902.5 1918.7a10.7 10.7 0 1 0 21.4 0a10.7 10.7 0 1 0 -21.4 0M930.9 1920.8a10.7 10.7 0 1 0 21.4 0a10.7 10.7 0 1 0 -21.4 0M930.9 1928.6a10.7 10.7 0 1 0 21.4 0a10.7 10.7 0 1 0 -21.4 0M942.6 1795.1a10.7 10.7 0 1 0 21.4 0a10.7 10.7 0 1 0 -21.4 0M969.8 1757.2a10.7 10.7 0 1 0 21.4 0a10.7 10.7 0 1 0 -21.4 0M971.0 1783.0a10.7 10.7 0 1 0 21.4 0a10.7 10.7 0 1 0 -21.4 0M964.6 1790.9a10.7 10.7 0 1 0 21.4 0a10.7 10.7 0 1 0 -21.4 0M965.9 1930.6a10.7 10.7 0 1 0 21.4 0a10.7 10.7 0 1 0 -21.4 0M969.0 1959.0a10.7 10.7 0 1 0 21.4 0a10.7 10.7 0 1 0 -21.4 0M969.0 1977.1a10.7 10.7 0 1 0 21.4 0a10.7 10.7 0 1 0 -21.4 0M978.8 1894.3a10.7 10.7 0 1 0 21.4 0a10.7 10.7 0 1 0 -21.4 0M980.1 1899.5a10.7 10.7 0 1 0 21.4 0a10.7 10.7 0 1 0 -21.4 0M1017.6 1796.0a10.7 10.7 0 1 0 21.4 0a10.7 10.7 0 1 0 -21.4 0M1016.3 1819.3a10.7 10.7 0 1 0 21.4 0a10.7 10.7 0 1 0 -21.4 0M1008.6 1909.9a10.7 10.7 0 1 0 21.4 0a10.7 10.7 0 1 0 -21.4 0M1011.2 1922.8a10.7 10.7 0 1 0 21.4 0a10.7 10.7 0 1 0 -21.4 0M1012.5 1935.7a10.7 10.7 0 1 0 21.4 0a10.7 10.7 0 1 0 -21.4 0M1017.6 1952.6a10.7 10.7 0 1 0 21.4 0a10.7 10.7 0 1 0 -21.4 0M1042.2 1912.4a10.7 10.7 0 1 0 21.4 0a10.7 10.7 0 1 0 -21.4 0M1034.5 1909.9a10.7 10.7 0 1 0 21.4 0a10.7 10.7 0 1 0 -21.4 0M1056.5 1755.9a10.7 10.7 0 1 0 21.4 0a10.7 10.7 0 1 0 -21.4 0M1056.5 1766.2a10.7 10.7 0 1 0 21.4 0a10.7 10.7 0 1 0 -21.4 0M1056.5 1777.9a10.7 10.7 0 1 0 21.4 0a10.7 10.7 0 1 0 -21.4 0M1056.5 1788.2a10.7 10.7 0 1 0 21.4 0a10.7 10.7 0 1 0 -21.4 0M1068.1 1809.6a10.7 10.7 0 1 0 21.4 0a10.7 10.7 0 1 0 -21.4 0M1066.8 1825.1a10.7 10.7 0 1 0 21.4 0a10.7 10.7 0 1 0 -21.4 0M1082.3 1841.9a10.7 10.7 0 1 0 21.4 0a10.7 10.7 0 1 0 -21.4 0M1081.0 1865.0a10.7 10.7 0 1 0 21.4 0a10.7 10.7 0 1 0 -21.4 0M1056.5 1938.3a10.7 10.7 0 1 0 21.4 0a10.7 10.7 0 1 0 -21.4 0M1066.8 1902.7a10.7 10.7 0 1 0 21.4 0a10.7 10.7 0 1 0 -21.4 0M1103.0 1883.7a10.7 10.7 0 1 0 21.4 0a10.7 10.7 0 1 0 -21.4 0M1114.7 1890.8a10.7 10.7 0 1 0 21.4 0a10.7 10.7 0 1 0 -21.4 0M1103.0 1903.1a10.7 10.7 0 1 0 21.4 0a10.7 10.7 0 1 0 -21.4 0M1116.0 1902.7a10.7 10.7 0 1 0 21.4 0a10.7 10.7 0 1 0 -21.4 0M1138.8 1821.7a10.7 10.7 0 1 0 21.4 0a10.7 10.7 0 1 0 -21.4 0M1169.0 1810.2a10.7 10.7 0 1 0 21.4 0a10.7 10.7 0 1 0 -21.4 0M1187.1 1836.2a10.7 10.7 0 1 0 21.4 0a10.7 10.7 0 1 0 -21.4 0M1178.1 1847.8a10.7 10.7 0 1 0 21.4 0a10.7 10.7 0 1 0 -21.4 0M1179.4 1864.5a10.7 10.7 0 1 0 21.4 0a10.7 10.7 0 1 0 -21.4 0M1158.7 1874.2a10.7 10.7 0 1 0 21.4 0a10.7 10.7 0 1 0 -21.4 0M1148.3 1882.6a10.7 10.7 0 1 0 21.4 0a10.7 10.7 0 1 0 -21.4 0M1207.1 1886.5a10.7 10.7 0 1 0 21.4 0a10.7 10.7 0 1 0 -21.4 0M1235.0 1823.6a10.7 10.7 0 1 0 21.4 0a10.7 10.7 0 1 0 -21.4 0M1273.8 1838.5a10.7 10.7 0 1 0 21.4 0a10.7 10.7 0 1 0 -21.4 0M1233.7 1848.2a10.7 10.7 0 1 0 21.4 0a10.7 10.7 0 1 0 -21.4 0M1245.4 1853.2a10.7 10.7 0 1 0 21.4 0a10.7 10.7 0 1 0 -21.4 0M1273.8 1863.1a10.7 10.7 0 1 0 21.4 0a10.7 10.7 0 1 0 -21.4 0M1233.7 1874.1a10.7 10.7 0 1 0 21.4 0a10.7 10.7 0 1 0 -21.4 0M1249.3 1871.3a10.7 10.7 0 1 0 21.4 0a10.7 10.7 0 1 0 -21.4 0M1231.1 1887.1a10.7 10.7 0 1 0 21.4 0a10.7 10.7 0 1 0 -21.4 0M1232.4 1894.8a10.7 10.7 0 1 0 21.4 0a10.7 10.7 0 1 0 -21.4 0M1259.6 1881.4a10.7 10.7 0 1 0 21.4 0a10.7 10.7 0 1 0 -21.4 0M1272.6 1883.8a10.7 10.7 0 1 0 21.4 0a10.7 10.7 0 1 0 -21.4 0M1285.5 1879.7a10.7 10.7 0 1 0 21.4 0a10.7 10.7 0 1 0 -21.4 0M1275.1 1888.9a10.7 10.7 0 1 0 21.4 0a10.7 10.7 0 1 0 -21.4 0M1257.0 1902.2a10.7 10.7 0 1 0 21.4 0a10.7 10.7 0 1 0 -21.4 0M1264.8 1917.6a10.7 10.7 0 1 0 21.4 0a10.7 10.7 0 1 0 -21.4 0M1273.8 1970.5a10.7 10.7 0 1 0 21.4 0a10.7 10.7 0 1 0 -21.4 0M1273.8 1986.0a10.7 10.7 0 1 0 21.4 0a10.7 10.7 0 1 0 -21.4 0M1466.8 1887.2a10.7 10.7 0 1 0 21.4 0a10.7 10.7 0 1 0 -21.4 0M1534.1 1874.7a10.7 10.7 0 1 0 21.4 0a10.7 10.7 0 1 0 -21.4 0M1534.1 1882.4a10.7 10.7 0 1 0 21.4 0a10.7 10.7 0 1 0 -21.4 0M1554.8 1866.9a10.7 10.7 0 1 0 21.4 0a10.7 10.7 0 1 0 -21.4 0M1573.4 1887.1a10.7 10.7 0 1 0 21.4 0a10.7 10.7 0 1 0 -21.4 0M636.4 1859.6a10.7 10.7 0 1 0 21.4 0a10.7 10.7 0 1 0 -21.4 0M623.3 1877.0a10.7 10.7 0 1 0 21.4 0a10.7 10.7 0 1 0 -21.4 0M639.1 1841.2a10.7 10.7 0 1 0 21.4 0a10.7 10.7 0 1 0 -21.4 0M613.3 1902.7a10.7 10.7 0 1 0 21.4 0a10.7 10.7 0 1 0 -21.4 0M617.5 1889.8a10.7 10.7 0 1 0 21.4 0a10.7 10.7 0 1 0 -21.4 0M612.3 1886.7a10.7 10.7 0 1 0 21.4 0a10.7 10.7 0 1 0 -21.4 0M625.1 1885.9a10.7 10.7 0 1 0 21.4 0a10.7 10.7 0 1 0 -21.4 0M629.0 1862.1a10.7 10.7 0 1 0 21.4 0a10.7 10.7 0 1 0 -21.4 0M645.2 1895.1a10.7 10.7 0 1 0 21.4 0a10.7 10.7 0 1 0 -21.4 0M645.6 1871.8a10.7 10.7 0 1 0 21.4 0a10.7 10.7 0 1 0 -21.4 0M693.0 1835.2a10.7 10.7 0 1 0 21.4 0a10.7 10.7 0 1 0 -21.4 0M712.3 1847.0a10.7 10.7 0 1 0 21.4 0a10.7 10.7 0 1 0 -21.4 0M698.0 1846.6a10.7 10.7 0 1 0 21.4 0a10.7 10.7 0 1 0 -21.4 0M752.5 1842.3a10.7 10.7 0 1 0 21.4 0a10.7 10.7 0 1 0 -21.4 0M765.6 1823.0a10.7 10.7 0 1 0 21.4 0a10.7 10.7 0 1 0 -21.4 0M713.4 1844.8a10.7 10.7 0 1 0 21.4 0a10.7 10.7 0 1 0 -21.4 0M738.9 1840.7a10.7 10.7 0 1 0 21.4 0a10.7 10.7 0 1 0 -21.4 0M703.6 1867.8a10.7 10.7 0 1 0 21.4 0a10.7 10.7 0 1 0 -21.4 0M703.1 1848.2a10.7 10.7 0 1 0 21.4 0a10.7 10.7 0 1 0 -21.4 0M761.5 1839.0a10.7 10.7 0 1 0 21.4 0a10.7 10.7 0 1 0 -21.4 0M724.8 1871.1a10.7 10.7 0 1 0 21.4 0a10.7 10.7 0 1 0 -21.4 0M740.9 1861.2a10.7 10.7 0 1 0 21.4 0a10.7 10.7 0 1 0 -21.4 0M762.7 1856.3a10.7 10.7 0 1 0 21.4 0a10.7 10.7 0 1 0 -21.4 0M710.9 1855.0a10.7 10.7 0 1 0 21.4 0a10.7 10.7 0 1 0 -21.4 0M764.4 1858.4a10.7 10.7 0 1 0 21.4 0a10.7 10.7 0 1 0 -21.4 0M763.4 1876.4a10.7 10.7 0 1 0 21.4 0a10.7 10.7 0 1 0 -21.4 0M730.5 1823.1a10.7 10.7 0 1 0 21.4 0a10.7 10.7 0 1 0 -21.4 0M718.8 1872.4a10.7 10.7 0 1 0 21.4 0a10.7 10.7 0 1 0 -21.4 0M694.8 1840.4a10.7 10.7 0 1 0 21.4 0a10.7 10.7 0 1 0 -21.4 0M693.1 1860.1a10.7 10.7 0 1 0 21.4 0a10.7 10.7 0 1 0 -21.4 0M700.9 1851.0a10.7 10.7 0 1 0 21.4 0a10.7 10.7 0 1 0 -21.4 0M763.4 1874.5a10.7 10.7 0 1 0 21.4 0a10.7 10.7 0 1 0 -21.4 0M723.0 1835.3a10.7 10.7 0 1 0 21.4 0a10.7 10.7 0 1 0 -21.4 0M693.6 1863.7a10.7 10.7 0 1 0 21.4 0a10.7 10.7 0 1 0 -21.4 0M699.5 1885.2a10.7 10.7 0 1 0 21.4 0a10.7 10.7 0 1 0 -21.4 0M708.2 1828.9a10.7 10.7 0 1 0 21.4 0a10.7 10.7 0 1 0 -21.4 0M760.1 1862.1a10.7 10.7 0 1 0 21.4 0a10.7 10.7 0 1 0 -21.4 0M741.8 1821.1a10.7 10.7 0 1 0 21.4 0a10.7 10.7 0 1 0 -21.4 0M768.1 1849.9a10.7 10.7 0 1 0 21.4 0a10.7 10.7 0 1 0 -21.4 0M699.9 1859.4a10.7 10.7 0 1 0 21.4 0a10.7 10.7 0 1 0 -21.4 0M722.0 1827.3a10.7 10.7 0 1 0 21.4 0a10.7 10.7 0 1 0 -21.4 0M702.1 1838.9a10.7 10.7 0 1 0 21.4 0a10.7 10.7 0 1 0 -21.4 0M721.9 1853.5a10.7 10.7 0 1 0 21.4 0a10.7 10.7 0 1 0 -21.4 0M761.1 1831.8a10.7 10.7 0 1 0 21.4 0a10.7 10.7 0 1 0 -21.4 0M816.8 1858.4a10.7 10.7 0 1 0 21.4 0a10.7 10.7 0 1 0 -21.4 0M802.3 1860.0a10.7 10.7 0 1 0 21.4 0a10.7 10.7 0 1 0 -21.4 0M814.9 1864.1a10.7 10.7 0 1 0 21.4 0a10.7 10.7 0 1 0 -21.4 0M787.6 1821.9a10.7 10.7 0 1 0 21.4 0a10.7 10.7 0 1 0 -21.4 0M796.3 1843.3a10.7 10.7 0 1 0 21.4 0a10.7 10.7 0 1 0 -21.4 0M817.3 1827.4a10.7 10.7 0 1 0 21.4 0a10.7 10.7 0 1 0 -21.4 0M831.4 1843.9a10.7 10.7 0 1 0 21.4 0a10.7 10.7 0 1 0 -21.4 0M803.9 1827.1a10.7 10.7 0 1 0 21.4 0a10.7 10.7 0 1 0 -21.4 0M818.0 1873.9a10.7 10.7 0 1 0 21.4 0a10.7 10.7 0 1 0 -21.4 0M789.2 1861.5a10.7 10.7 0 1 0 21.4 0a10.7 10.7 0 1 0 -21.4 0M810.7 1838.7a10.7 10.7 0 1 0 21.4 0a10.7 10.7 0 1 0 -21.4 0M828.1 1885.0a10.7 10.7 0 1 0 21.4 0a10.7 10.7 0 1 0 -21.4 0M875.5 1878.5a10.7 10.7 0 1 0 21.4 0a10.7 10.7 0 1 0 -21.4 0M881.7 1839.9a10.7 10.7 0 1 0 21.4 0a10.7 10.7 0 1 0 -21.4 0M898.0 1822.9a10.7 10.7 0 1 0 21.4 0a10.7 10.7 0 1 0 -21.4 0M902.3 1826.5a10.7 10.7 0 1 0 21.4 0a10.7 10.7 0 1 0 -21.4 0M885.1 1877.2a10.7 10.7 0 1 0 21.4 0a10.7 10.7 0 1 0 -21.4 0M897.2 1848.2a10.7 10.7 0 1 0 21.4 0a10.7 10.7 0 1 0 -21.4 0M892.4 1831.3a10.7 10.7 0 1 0 21.4 0a10.7 10.7 0 1 0 -21.4 0M905.7 1821.2a10.7 10.7 0 1 0 21.4 0a10.7 10.7 0 1 0 -21.4 0M867.0 1855.9a10.7 10.7 0 1 0 21.4 0a10.7 10.7 0 1 0 -21.4 0M908.2 1855.8a10.7 10.7 0 1 0 21.4 0a10.7 10.7 0 1 0 -21.4 0M907.8 1825.2a10.7 10.7 0 1 0 21.4 0a10.7 10.7 0 1 0 -21.4 0M917.6 1867.6a10.7 10.7 0 1 0 21.4 0a10.7 10.7 0 1 0 -21.4 0M859.9 1855.2a10.7 10.7 0 1 0 21.4 0a10.7 10.7 0 1 0 -21.4 0M854.8 1842.5a10.7 10.7 0 1 0 21.4 0a10.7 10.7 0 1 0 -21.4 0M865.3 1839.4a10.7 10.7 0 1 0 21.4 0a10.7 10.7 0 1 0 -21.4 0M896.3 1843.2a10.7 10.7 0 1 0 21.4 0a10.7 10.7 0 1 0 -21.4 0M886.4 1825.9a10.7 10.7 0 1 0 21.4 0a10.7 10.7 0 1 0 -21.4 0M854.8 1873.4a10.7 10.7 0 1 0 21.4 0a10.7 10.7 0 1 0 -21.4 0M888.1 1863.3a10.7 10.7 0 1 0 21.4 0a10.7 10.7 0 1 0 -21.4 0M858.8 1862.9a10.7 10.7 0 1 0 21.4 0a10.7 10.7 0 1 0 -21.4 0M877.6 1866.0a10.7 10.7 0 1 0 21.4 0a10.7 10.7 0 1 0 -21.4 0M880.4 1860.3a10.7 10.7 0 1 0 21.4 0a10.7 10.7 0 1 0 -21.4 0M915.0 1852.0a10.7 10.7 0 1 0 21.4 0a10.7 10.7 0 1 0 -21.4 0M944.3 1867.8a10.7 10.7 0 1 0 21.4 0a10.7 10.7 0 1 0 -21.4 0M904.7 1869.9a10.7 10.7 0 1 0 21.4 0a10.7 10.7 0 1 0 -21.4 0M933.8 1863.4a10.7 10.7 0 1 0 21.4 0a10.7 10.7 0 1 0 -21.4 0M905.4 1841.2a10.7 10.7 0 1 0 21.4 0a10.7 10.7 0 1 0 -21.4 0M944.6 1871.7a10.7 10.7 0 1 0 21.4 0a10.7 10.7 0 1 0 -21.4 0M943.7 1874.8a10.7 10.7 0 1 0 21.4 0a10.7 10.7 0 1 0 -21.4 0M945.9 1866.5a10.7 10.7 0 1 0 21.4 0a10.7 10.7 0 1 0 -21.4 0M924.6 1855.7a10.7 10.7 0 1 0 21.4 0a10.7 10.7 0 1 0 -21.4 0M931.7 1875.3a10.7 10.7 0 1 0 21.4 0a10.7 10.7 0 1 0 -21.4 0M915.2 1852.5a10.7 10.7 0 1 0 21.4 0a10.7 10.7 0 1 0 -21.4 0M926.5 1880.2a10.7 10.7 0 1 0 21.4 0a10.7 10.7 0 1 0 -21.4 0M914.2 1836.2a10.7 10.7 0 1 0 21.4 0a10.7 10.7 0 1 0 -21.4 0M908.9 1844.4a10.7 10.7 0 1 0 21.4 0a10.7 10.7 0 1 0 -21.4 0M943.9 1846.2a10.7 10.7 0 1 0 21.4 0a10.7 10.7 0 1 0 -21.4 0M917.8 1845.4a10.7 10.7 0 1 0 21.4 0a10.7 10.7 0 1 0 -21.4 0M913.7 1859.6a10.7 10.7 0 1 0 21.4 0a10.7 10.7 0 1 0 -21.4 0M911.5 1885.1a10.7 10.7 0 1 0 21.4 0a10.7 10.7 0 1 0 -21.4 0M900.5 1867.4a10.7 10.7 0 1 0 21.4 0a10.7 10.7 0 1 0 -21.4 0M916.9 1882.8a10.7 10.7 0 1 0 21.4 0a10.7 10.7 0 1 0 -21.4 0M913.8 1868.5a10.7 10.7 0 1 0 21.4 0a10.7 10.7 0 1 0 -21.4 0M926.6 1865.9a10.7 10.7 0 1 0 21.4 0a10.7 10.7 0 1 0 -21.4 0M964.4 1843.6a10.7 10.7 0 1 0 21.4 0a10.7 10.7 0 1 0 -21.4 0M972.0 1814.4a10.7 10.7 0 1 0 21.4 0a10.7 10.7 0 1 0 -21.4 0M985.6 1813.3a10.7 10.7 0 1 0 21.4 0a10.7 10.7 0 1 0 -21.4 0M973.1 1896.4a10.7 10.7 0 1 0 21.4 0a10.7 10.7 0 1 0 -21.4 0M972.9 1859.9a10.7 10.7 0 1 0 21.4 0a10.7 10.7 0 1 0 -21.4 0M951.1 1828.2a10.7 10.7 0 1 0 21.4 0a10.7 10.7 0 1 0 -21.4 0M954.8 1888.9a10.7 10.7 0 1 0 21.4 0a10.7 10.7 0 1 0 -21.4 0M995.3 1880.1a10.7 10.7 0 1 0 21.4 0a10.7 10.7 0 1 0 -21.4 0M962.9 1867.6a10.7 10.7 0 1 0 21.4 0a10.7 10.7 0 1 0 -21.4 0M983.2 1841.4a10.7 10.7 0 1 0 21.4 0a10.7 10.7 0 1 0 -21.4 0M953.5 1860.7a10.7 10.7 0 1 0 21.4 0a10.7 10.7 0 1 0 -21.4 0M964.3 1860.7a10.7 10.7 0 1 0 21.4 0a10.7 10.7 0 1 0 -21.4 0M973.2 1835.3a10.7 10.7 0 1 0 21.4 0a10.7 10.7 0 1 0 -21.4 0M956.1 1871.4a10.7 10.7 0 1 0 21.4 0a10.7 10.7 0 1 0 -21.4 0M981.8 1820.0a10.7 10.7 0 1 0 21.4 0a10.7 10.7 0 1 0 -21.4 0M963.6 1838.3a10.7 10.7 0 1 0 21.4 0a10.7 10.7 0 1 0 -21.4 0M988.1 1856.4a10.7 10.7 0 1 0 21.4 0a10.7 10.7 0 1 0 -21.4 0M992.6 1866.3a10.7 10.7 0 1 0 21.4 0a10.7 10.7 0 1 0 -21.4 0M954.0 1871.9a10.7 10.7 0 1 0 21.4 0a10.7 10.7 0 1 0 -21.4 0M951.1 1875.5a10.7 10.7 0 1 0 21.4 0a10.7 10.7 0 1 0 -21.4 0M982.8 1891.8a10.7 10.7 0 1 0 21.4 0a10.7 10.7 0 1 0 -21.4 0M954.1 1867.7a10.7 10.7 0 1 0 21.4 0a10.7 10.7 0 1 0 -21.4 0M959.3 1846.3a10.7 10.7 0 1 0 21.4 0a10.7 10.7 0 1 0 -21.4 0M956.0 1883.0a10.7 10.7 0 1 0 21.4 0a10.7 10.7 0 1 0 -21.4 0M982.5 1853.3a10.7 10.7 0 1 0 21.4 0a10.7 10.7 0 1 0 -21.4 0M980.8 1812.3a10.7 10.7 0 1 0 21.4 0a10.7 10.7 0 1 0 -21.4 0M953.2 1897.7a10.7 10.7 0 1 0 21.4 0a10.7 10.7 0 1 0 -21.4 0M983.2 1838.8a10.7 10.7 0 1 0 21.4 0a10.7 10.7 0 1 0 -21.4 0M955.9 1864.6a10.7 10.7 0 1 0 21.4 0a10.7 10.7 0 1 0 -21.4 0M960.3 1821.6a10.7 10.7 0 1 0 21.4 0a10.7 10.7 0 1 0 -21.4 0M962.5 1822.3a10.7 10.7 0 1 0 21.4 0a10.7 10.7 0 1 0 -21.4 0M985.3 1833.3a10.7 10.7 0 1 0 21.4 0a10.7 10.7 0 1 0 -21.4 0M983.0 1846.4a10.7 10.7 0 1 0 21.4 0a10.7 10.7 0 1 0 -21.4 0M956.3 1845.5a10.7 10.7 0 1 0 21.4 0a10.7 10.7 0 1 0 -21.4 0M964.0 1859.5a10.7 10.7 0 1 0 21.4 0a10.7 10.7 0 1 0 -21.4 0M986.1 1824.2a10.7 10.7 0 1 0 21.4 0a10.7 10.7 0 1 0 -21.4 0M968.0 1864.6a10.7 10.7 0 1 0 21.4 0a10.7 10.7 0 1 0 -21.4 0M964.7 1840.5a10.7 10.7 0 1 0 21.4 0a10.7 10.7 0 1 0 -21.4 0M973.7 1887.5a10.7 10.7 0 1 0 21.4 0a10.7 10.7 0 1 0 -21.4 0M990.4 1877.6a10.7 10.7 0 1 0 21.4 0a10.7 10.7 0 1 0 -21.4 0M950.2 1871.0a10.7 10.7 0 1 0 21.4 0a10.7 10.7 0 1 0 -21.4 0M956.0 1833.6a10.7 10.7 0 1 0 21.4 0a10.7 10.7 0 1 0 -21.4 0M971.3 1896.2a10.7 10.7 0 1 0 21.4 0a10.7 10.7 0 1 0 -21.4 0M970.2 1853.3a10.7 10.7 0 1 0 21.4 0a10.7 10.7 0 1 0 -21.4 0M975.4 1832.3a10.7 10.7 0 1 0 21.4 0a10.7 10.7 0 1 0 -21.4 0M953.9 1833.1a10.7 10.7 0 1 0 21.4 0a10.7 10.7 0 1 0 -21.4 0M964.9 1879.9a10.7 10.7 0 1 0 21.4 0a10.7 10.7 0 1 0 -21.4 0M981.1 1856.0a10.7 10.7 0 1 0 21.4 0a10.7 10.7 0 1 0 -21.4 0M975.9 1865.7a10.7 10.7 0 1 0 21.4 0a10.7 10.7 0 1 0 -21.4 0M974.4 1863.0a10.7 10.7 0 1 0 21.4 0a10.7 10.7 0 1 0 -21.4 0M976.3 1833.3a10.7 10.7 0 1 0 21.4 0a10.7 10.7 0 1 0 -21.4 0M975.5 1831.1a10.7 10.7 0 1 0 21.4 0a10.7 10.7 0 1 0 -21.4 0M912.3 1860.6a10.7 10.7 0 1 0 21.4 0a10.7 10.7 0 1 0 -21.4 0M917.9 1848.1a10.7 10.7 0 1 0 21.4 0a10.7 10.7 0 1 0 -21.4 0M974.4 1837.2a10.7 10.7 0 1 0 21.4 0a10.7 10.7 0 1 0 -21.4 0M963.2 1844.6a10.7 10.7 0 1 0 21.4 0a10.7 10.7 0 1 0 -21.4 0M979.4 1867.8a10.7 10.7 0 1 0 21.4 0a10.7 10.7 0 1 0 -21.4 0M971.3 1851.3a10.7 10.7 0 1 0 21.4 0a10.7 10.7 0 1 0 -21.4 0M948.1 1826.2a10.7 10.7 0 1 0 21.4 0a10.7 10.7 0 1 0 -21.4 0M979.6 1865.9a10.7 10.7 0 1 0 21.4 0a10.7 10.7 0 1 0 -21.4 0M972.2 1849.0a10.7 10.7 0 1 0 21.4 0a10.7 10.7 0 1 0 -21.4 0M976.4 1834.1a10.7 10.7 0 1 0 21.4 0a10.7 10.7 0 1 0 -21.4 0M974.2 1844.7a10.7 10.7 0 1 0 21.4 0a10.7 10.7 0 1 0 -21.4 0M981.9 1868.4a10.7 10.7 0 1 0 21.4 0a10.7 10.7 0 1 0 -21.4 0M941.7 1820.2a10.7 10.7 0 1 0 21.4 0a10.7 10.7 0 1 0 -21.4 0M953.7 1831.2a10.7 10.7 0 1 0 21.4 0a10.7 10.7 0 1 0 -21.4 0M993.9 1872.8a10.7 10.7 0 1 0 21.4 0a10.7 10.7 0 1 0 -21.4 0M1002.4 1866.6a10.7 10.7 0 1 0 21.4 0a10.7 10.7 0 1 0 -21.4 0M994.1 1851.7a10.7 10.7 0 1 0 21.4 0a10.7 10.7 0 1 0 -21.4 0M1077.1 1865.7a10.7 10.7 0 1 0 21.4 0a10.7 10.7 0 1 0 -21.4 0M1010.3 1879.2a10.7 10.7 0 1 0 21.4 0a10.7 10.7 0 1 0 -21.4 0M1014.0 1862.9a10.7 10.7 0 1 0 21.4 0a10.7 10.7 0 1 0 -21.4 0M1080.6 1886.1a10.7 10.7 0 1 0 21.4 0a10.7 10.7 0 1 0 -21.4 0M1080.5 1843.3a10.7 10.7 0 1 0 21.4 0a10.7 10.7 0 1 0 -21.4 0M1027.7 1870.1a10.7 10.7 0 1 0 21.4 0a10.7 10.7 0 1 0 -21.4 0M1081.3 1873.0a10.7 10.7 0 1 0 21.4 0a10.7 10.7 0 1 0 -21.4 0M1060.4 1868.1a10.7 10.7 0 1 0 21.4 0a10.7 10.7 0 1 0 -21.4 0M1041.9 1888.8a10.7 10.7 0 1 0 21.4 0a10.7 10.7 0 1 0 -21.4 0M1008.8 1845.6a10.7 10.7 0 1 0 21.4 0a10.7 10.7 0 1 0 -21.4 0M1042.9 1861.3a10.7 10.7 0 1 0 21.4 0a10.7 10.7 0 1 0 -21.4 0M1002.3 1831.4a10.7 10.7 0 1 0 21.4 0a10.7 10.7 0 1 0 -21.4 0M1066.8 1850.8a10.7 10.7 0 1 0 21.4 0a10.7 10.7 0 1 0 -21.4 0M1002.1 1856.2a10.7 10.7 0 1 0 21.4 0a10.7 10.7 0 1 0 -21.4 0M1000.5 1857.4a10.7 10.7 0 1 0 21.4 0a10.7 10.7 0 1 0 -21.4 0M1031.9 1886.9a10.7 10.7 0 1 0 21.4 0a10.7 10.7 0 1 0 -21.4 0M1030.4 1844.0a10.7 10.7 0 1 0 21.4 0a10.7 10.7 0 1 0 -21.4 0M1002.3 1865.8a10.7 10.7 0 1 0 21.4 0a10.7 10.7 0 1 0 -21.4 0M1031.0 1858.1a10.7 10.7 0 1 0 21.4 0a10.7 10.7 0 1 0 -21.4 0M1028.7 1859.2a10.7 10.7 0 1 0 21.4 0a10.7 10.7 0 1 0 -21.4 0M1033.0 1865.7a10.7 10.7 0 1 0 21.4 0a10.7 10.7 0 1 0 -21.4 0M1059.9 1836.6a10.7 10.7 0 1 0 21.4 0a10.7 10.7 0 1 0 -21.4 0M1071.1 1853.9a10.7 10.7 0 1 0 21.4 0a10.7 10.7 0 1 0 -21.4 0M1030.5 1863.2a10.7 10.7 0 1 0 21.4 0a10.7 10.7 0 1 0 -21.4 0M1077.9 1843.1a10.7 10.7 0 1 0 21.4 0a10.7 10.7 0 1 0 -21.4 0M1058.7 1847.4a10.7 10.7 0 1 0 21.4 0a10.7 10.7 0 1 0 -21.4 0M1030.1 1864.4a10.7 10.7 0 1 0 21.4 0a10.7 10.7 0 1 0 -21.4 0M1011.3 1876.9a10.7 10.7 0 1 0 21.4 0a10.7 10.7 0 1 0 -21.4 0M997.1 1857.2a10.7 10.7 0 1 0 21.4 0a10.7 10.7 0 1 0 -21.4 0M1020.8 1881.3a10.7 10.7 0 1 0 21.4 0a10.7 10.7 0 1 0 -21.4 0M1017.7 1857.1a10.7 10.7 0 1 0 21.4 0a10.7 10.7 0 1 0 -21.4 0M1023.4 1833.2a10.7 10.7 0 1 0 21.4 0a10.7 10.7 0 1 0 -21.4 0M1070.3 1882.1a10.7 10.7 0 1 0 21.4 0a10.7 10.7 0 1 0 -21.4 0M1030.9 1839.4a10.7 10.7 0 1 0 21.4 0a10.7 10.7 0 1 0 -21.4 0M1081.3 1861.2a10.7 10.7 0 1 0 21.4 0a10.7 10.7 0 1 0 -21.4 0M1011.4 1855.4a10.7 10.7 0 1 0 21.4 0a10.7 10.7 0 1 0 -21.4 0M1032.9 1839.6a10.7 10.7 0 1 0 21.4 0a10.7 10.7 0 1 0 -21.4 0M1049.3 1865.6a10.7 10.7 0 1 0 21.4 0a10.7 10.7 0 1 0 -21.4 0M1059.3 1877.6a10.7 10.7 0 1 0 21.4 0a10.7 10.7 0 1 0 -21.4 0M1061.3 1835.0a10.7 10.7 0 1 0 21.4 0a10.7 10.7 0 1 0 -21.4 0M1055.4 1885.4a10.7 10.7 0 1 0 21.4 0a10.7 10.7 0 1 0 -21.4 0M1074.5 1843.0a10.7 10.7 0 1 0 21.4 0a10.7 10.7 0 1 0 -21.4 0M1018.9 1870.0a10.7 10.7 0 1 0 21.4 0a10.7 10.7 0 1 0 -21.4 0M1031.7 1875.7a10.7 10.7 0 1 0 21.4 0a10.7 10.7 0 1 0 -21.4 0M1071.7 1881.1a10.7 10.7 0 1 0 21.4 0a10.7 10.7 0 1 0 -21.4 0M1059.9 1830.1a10.7 10.7 0 1 0 21.4 0a10.7 10.7 0 1 0 -21.4 0M1018.6 1843.5a10.7 10.7 0 1 0 21.4 0a10.7 10.7 0 1 0 -21.4 0M1051.0 1842.4a10.7 10.7 0 1 0 21.4 0a10.7 10.7 0 1 0 -21.4 0M1024.8 1843.7a10.7 10.7 0 1 0 21.4 0a10.7 10.7 0 1 0 -21.4 0M1010.8 1873.8a10.7 10.7 0 1 0 21.4 0a10.7 10.7 0 1 0 -21.4 0M1040.0 1835.3a10.7 10.7 0 1 0 21.4 0a10.7 10.7 0 1 0 -21.4 0M1081.6 1839.7a10.7 10.7 0 1 0 21.4 0a10.7 10.7 0 1 0 -21.4 0M1001.4 1846.8a10.7 10.7 0 1 0 21.4 0a10.7 10.7 0 1 0 -21.4 0M1078.4 1843.3a10.7 10.7 0 1 0 21.4 0a10.7 10.7 0 1 0 -21.4 0M1005.3 1835.4a10.7 10.7 0 1 0 21.4 0a10.7 10.7 0 1 0 -21.4 0M1035.8 1896.8a10.7 10.7 0 1 0 21.4 0a10.7 10.7 0 1 0 -21.4 0M1025.7 1866.1a10.7 10.7 0 1 0 21.4 0a10.7 10.7 0 1 0 -21.4 0M1069.0 1874.7a10.7 10.7 0 1 0 21.4 0a10.7 10.7 0 1 0 -21.4 0M1030.4 1811.5a10.7 10.7 0 1 0 21.4 0a10.7 10.7 0 1 0 -21.4 0M1070.5 1852.5a10.7 10.7 0 1 0 21.4 0a10.7 10.7 0 1 0 -21.4 0M1050.9 1860.5a10.7 10.7 0 1 0 21.4 0a10.7 10.7 0 1 0 -21.4 0M1030.7 1856.5a10.7 10.7 0 1 0 21.4 0a10.7 10.7 0 1 0 -21.4 0M1056.9 1883.9a10.7 10.7 0 1 0 21.4 0a10.7 10.7 0 1 0 -21.4 0M1041.7 1860.1a10.7 10.7 0 1 0 21.4 0a10.7 10.7 0 1 0 -21.4 0M1021.0 1823.6a10.7 10.7 0 1 0 21.4 0a10.7 10.7 0 1 0 -21.4 0M1003.6 1863.8a10.7 10.7 0 1 0 21.4 0a10.7 10.7 0 1 0 -21.4 0M1071.9 1843.2a10.7 10.7 0 1 0 21.4 0a10.7 10.7 0 1 0 -21.4 0" fill="none" stroke="#0000ff" stroke-width="3.4"/>
<path d="M259 1855.8H2266.0" stroke="#000" stroke-width="3.3" stroke-dasharray="7 11" fill="none" shape-rendering="crispEdges"/>
<path d="M1610 1594.5V2123.0" stroke="#000" stroke-width="4" stroke-dasharray="7 11" fill="none" shape-rendering="crispEdges"/>
<path d="M330 1590.0v19M330 2123.0v-19M506 1590.0v19M506 2123.0v-19M682 1590.0v19M682 2123.0v-19M858 1590.0v38M858 2123.0v-38M1034 1590.0v19M1034 2123.0v-19M1210 1590.0v19M1210 2123.0v-19M1386 1590.0v19M1386 2123.0v-19M1562 1590.0v38M1562 2123.0v-38M1738 1590.0v19M1738 2123.0v-19M1914 1590.0v19M1914 2123.0v-19M2090 1590.0v19M2090 2123.0v-19M260.0 2085.1h19M2266.0 2085.1h-19M260.0 2008.9h19M2266.0 2008.9h-19M260.0 1970.8h19M2266.0 1970.8h-19M260.0 1932.7h19M2266.0 1932.7h-19M260.0 1894.6h19M2266.0 1894.6h-19M260.0 1818.4h19M2266.0 1818.4h-19M260.0 1780.3h19M2266.0 1780.3h-19M260.0 1742.2h19M2266.0 1742.2h-19M260.0 1704.1h19M2266.0 1704.1h-19M260.0 1627.9h19M2266.0 1627.9h-19M260.0 2047.0h38M2266.0 2047.0h-38M260.0 1856.5h38M2266.0 1856.5h-38M260.0 1666.0h38M2266.0 1666.0h-38" stroke="#000" stroke-width="6.0" fill="none" shape-rendering="crispEdges"/>
<rect x="260.0" y="1590.0" width="2006.0" height="533.0" fill="none" stroke="#000" stroke-width="6.0" shape-rendering="crispEdges"/>
<path transform="translate(858.0 1558.4) translate(-97.6 0)" d="M10.6 -30.2L14.2 -31.9L19.5 -37.3L19.5 0.0M17.8 -35.5L17.8 0.0M10.6 0.0L26.6 0.0M63.9 -24.8L62.1 -19.5L58.6 -16.0L53.2 -14.2L51.5 -14.2L46.1 -16.0L42.6 -19.5L40.8 -24.8L40.8 -26.6L42.6 -31.9L46.1 -35.5L51.5 -37.3L55.0 -37.3L60.3 -35.5L63.9 -31.9L65.7 -26.6L65.7 -16.0L63.9 -8.9L62.1 -5.3L58.6 -1.8L53.2 0.0L47.9 0.0L44.4 -1.8L42.6 -5.3L42.6 -7.1L44.4 -8.9L46.1 -7.1L44.4 -5.3M51.5 -14.2L47.9 -16.0L44.4 -19.5L42.6 -24.8L42.6 -26.6L44.4 -31.9L47.9 -35.5L51.5 -37.3M55.0 -37.3L58.6 -35.5L62.1 -31.9L63.9 -26.6L63.9 -16.0L62.1 -8.9L60.3 -5.3L56.8 -1.8L53.2 0.0M99.4 -24.8L97.6 -19.5L94.1 -16.0L88.8 -14.2L87.0 -14.2L81.6 -16.0L78.1 -19.5L76.3 -24.8L76.3 -26.6L78.1 -31.9L81.6 -35.5L87.0 -37.3L90.5 -37.3L95.8 -35.5L99.4 -31.9L101.2 -26.6L101.2 -16.0L99.4 -8.9L97.6 -5.3L94.1 -1.8L88.8 0.0L83.4 0.0L79.9 -1.8L78.1 -5.3L78.1 -7.1L79.9 -8.9L81.6 -7.1L79.9 -5.3M87.0 -14.2L83.4 -16.0L79.9 -19.5L78.1 -24.8L78.1 -26.6L79.9 -31.9L83.4 -35.5L87.0 -37.3M90.5 -37.3L94.1 -35.5L97.6 -31.9L99.4 -26.6L99.4 -16.0L97.6 -8.9L95.8 -5.3L92.3 -1.8L88.8 0.0M122.5 -37.3L117.1 -35.5L113.6 -30.2L111.8 -21.3L111.8 -16.0L113.6 -7.1L117.1 -1.8L122.5 0.0L126.0 0.0L131.3 -1.8L134.9 -7.1L136.7 -16.0L136.7 -21.3L134.9 -30.2L131.3 -35.5L126.0 -37.3L122.5 -37.3M122.5 -37.3L118.9 -35.5L117.1 -33.7L115.4 -30.2L113.6 -21.3L113.6 -16.0L115.4 -7.1L117.1 -3.5L118.9 -1.8L122.5 0.0M126.0 0.0L129.6 -1.8L131.3 -3.5L133.1 -7.1L134.9 -16.0L134.9 -21.3L133.1 -30.2L131.3 -33.7L129.6 -35.5L126.0 -37.3M150.9 -3.5L149.1 -1.8L150.9 0.0L152.7 -1.8L150.9 -3.5M186.4 -31.9L184.6 -30.2L186.4 -28.4L188.1 -30.2L188.1 -31.9L186.4 -35.5L182.8 -37.3L177.5 -37.3L172.2 -35.5L168.6 -31.9L166.8 -28.4L165.1 -21.3L165.1 -10.6L166.8 -5.3L170.4 -1.8L175.7 0.0L179.3 0.0L184.6 -1.8L188.1 -5.3L189.9 -10.6L189.9 -12.4L188.1 -17.8L184.6 -21.3L179.3 -23.1L177.5 -23.1L172.2 -21.3L168.6 -17.8L166.8 -12.4M177.5 -37.3L173.9 -35.5L170.4 -31.9L168.6 -28.4L166.8 -21.3L166.8 -10.6L168.6 -5.3L172.2 -1.8L175.7 0.0M179.3 0.0L182.8 -1.8L186.4 -5.3L188.1 -10.6L188.1 -12.4L186.4 -17.8L182.8 -21.3L179.3 -23.1" fill="none" stroke="#000" stroke-width="6.0" stroke-linecap="butt" stroke-linejoin="round"/>
<path transform="translate(1562.0 1558.4) translate(-97.6 0)" d="M10.6 -30.2L14.2 -31.9L19.5 -37.3L19.5 0.0M17.8 -35.5L17.8 0.0M10.6 0.0L26.6 0.0M63.9 -24.8L62.1 -19.5L58.6 -16.0L53.2 -14.2L51.5 -14.2L46.1 -16.0L42.6 -19.5L40.8 -24.8L40.8 -26.6L42.6 -31.9L46.1 -35.5L51.5 -37.3L55.0 -37.3L60.3 -35.5L63.9 -31.9L65.7 -26.6L65.7 -16.0L63.9 -8.9L62.1 -5.3L58.6 -1.8L53.2 0.0L47.9 0.0L44.4 -1.8L42.6 -5.3L42.6 -7.1L44.4 -8.9L46.1 -7.1L44.4 -5.3M51.5 -14.2L47.9 -16.0L44.4 -19.5L42.6 -24.8L42.6 -26.6L44.4 -31.9L47.9 -35.5L51.5 -37.3M55.0 -37.3L58.6 -35.5L62.1 -31.9L63.9 -26.6L63.9 -16.0L62.1 -8.9L60.3 -5.3L56.8 -1.8L53.2 0.0M99.4 -24.8L97.6 -19.5L94.1 -16.0L88.8 -14.2L87.0 -14.2L81.6 -16.0L78.1 -19.5L76.3 -24.8L76.3 -26.6L78.1 -31.9L81.6 -35.5L87.0 -37.3L90.5 -37.3L95.8 -35.5L99.4 -31.9L101.2 -26.6L101.2 -16.0L99.4 -8.9L97.6 -5.3L94.1 -1.8L88.8 0.0L83.4 0.0L79.9 -1.8L78.1 -5.3L78.1 -7.1L79.9 -8.9L81.6 -7.1L79.9 -5.3M87.0 -14.2L83.4 -16.0L79.9 -19.5L78.1 -24.8L78.1 -26.6L79.9 -31.9L83.4 -35.5L87.0 -37.3M90.5 -37.3L94.1 -35.5L97.6 -31.9L99.4 -26.6L99.4 -16.0L97.6 -8.9L95.8 -5.3L92.3 -1.8L88.8 0.0M122.5 -37.3L117.1 -35.5L113.6 -30.2L111.8 -21.3L111.8 -16.0L113.6 -7.1L117.1 -1.8L122.5 0.0L126.0 0.0L131.3 -1.8L134.9 -7.1L136.7 -16.0L136.7 -21.3L134.9 -30.2L131.3 -35.5L126.0 -37.3L122.5 -37.3M122.5 -37.3L118.9 -35.5L117.1 -33.7L115.4 -30.2L113.6 -21.3L113.6 -16.0L115.4 -7.1L117.1 -3.5L118.9 -1.8L122.5 0.0M126.0 0.0L129.6 -1.8L131.3 -3.5L133.1 -7.1L134.9 -16.0L134.9 -21.3L133.1 -30.2L131.3 -33.7L129.6 -35.5L126.0 -37.3M150.9 -3.5L149.1 -1.8L150.9 0.0L152.7 -1.8L150.9 -3.5M173.9 -37.3L168.6 -35.5L166.8 -31.9L166.8 -26.6L168.6 -23.1L173.9 -21.3L181.0 -21.3L186.4 -23.1L188.1 -26.6L188.1 -31.9L186.4 -35.5L181.0 -37.3L173.9 -37.3M173.9 -37.3L170.4 -35.5L168.6 -31.9L168.6 -26.6L170.4 -23.1L173.9 -21.3M181.0 -21.3L184.6 -23.1L186.4 -26.6L186.4 -31.9L184.6 -35.5L181.0 -37.3M173.9 -21.3L168.6 -19.5L166.8 -17.8L165.1 -14.2L165.1 -7.1L166.8 -3.5L168.6 -1.8L173.9 0.0L181.0 0.0L186.4 -1.8L188.1 -3.5L189.9 -7.1L189.9 -14.2L188.1 -17.8L186.4 -19.5L181.0 -21.3M173.9 -21.3L170.4 -19.5L168.6 -17.8L166.8 -14.2L166.8 -7.1L168.6 -3.5L170.4 -1.8L173.9 0.0M181.0 0.0L184.6 -1.8L186.4 -3.5L188.1 -7.1L188.1 -14.2L186.4 -17.8L184.6 -19.5L181.0 -21.3" fill="none" stroke="#000" stroke-width="6.0" stroke-linecap="butt" stroke-linejoin="round"/>
<path transform="translate(2266.0 1558.4) translate(-71.0 0)" d="M10.6 -30.2L14.2 -31.9L19.5 -37.3L19.5 0.0M17.8 -35.5L17.8 0.0M10.6 0.0L26.6 0.0M63.9 -24.8L62.1 -19.5L58.6 -16.0L53.2 -14.2L51.5 -14.2L46.1 -16.0L42.6 -19.5L40.8 -24.8L40.8 -26.6L42.6 -31.9L46.1 -35.5L51.5 -37.3L55.0 -37.3L60.3 -35.5L63.9 -31.9L65.7 -26.6L65.7 -16.0L63.9 -8.9L62.1 -5.3L58.6 -1.8L53.2 0.0L47.9 0.0L44.4 -1.8L42.6 -5.3L42.6 -7.1L44.4 -8.9L46.1 -7.1L44.4 -5.3M51.5 -14.2L47.9 -16.0L44.4 -19.5L42.6 -24.8L42.6 -26.6L44.4 -31.9L47.9 -35.5L51.5 -37.3M55.0 -37.3L58.6 -35.5L62.1 -31.9L63.9 -26.6L63.9 -16.0L62.1 -8.9L60.3 -5.3L56.8 -1.8L53.2 0.0M99.4 -24.8L97.6 -19.5L94.1 -16.0L88.8 -14.2L87.0 -14.2L81.6 -16.0L78.1 -19.5L76.3 -24.8L76.3 -26.6L78.1 -31.9L81.6 -35.5L87.0 -37.3L90.5 -37.3L95.8 -35.5L99.4 -31.9L101.2 -26.6L101.2 -16.0L99.4 -8.9L97.6 -5.3L94.1 -1.8L88.8 0.0L83.4 0.0L79.9 -1.8L78.1 -5.3L78.1 -7.1L79.9 -8.9L81.6 -7.1L79.9 -5.3M87.0 -14.2L83.4 -16.0L79.9 -19.5L78.1 -24.8L78.1 -26.6L79.9 -31.9L83.4 -35.5L87.0 -37.3M90.5 -37.3L94.1 -35.5L97.6 -31.9L99.4 -26.6L99.4 -16.0L97.6 -8.9L95.8 -5.3L92.3 -1.8L88.8 0.0M117.1 -30.2L120.7 -31.9L126.0 -37.3L126.0 0.0M124.2 -35.5L124.2 0.0M117.1 0.0L133.1 0.0" fill="none" stroke="#000" stroke-width="6.0" stroke-linecap="butt" stroke-linejoin="round"/>
<path transform="translate(228.3 1684.7) translate(-35.5 0)" d="M8.9 -37.3L5.3 -19.5M5.3 -19.5L8.9 -23.1L14.2 -24.8L19.5 -24.8L24.8 -23.1L28.4 -19.5L30.2 -14.2L30.2 -10.6L28.4 -5.3L24.8 -1.8L19.5 0.0L14.2 0.0L8.9 -1.8L7.1 -3.5L5.3 -7.1L5.3 -8.9L7.1 -10.6L8.9 -8.9L7.1 -7.1M19.5 -24.8L23.1 -23.1L26.6 -19.5L28.4 -14.2L28.4 -10.6L26.6 -5.3L23.1 -1.8L19.5 0.0M8.9 -37.3L26.6 -37.3M8.9 -35.5L17.8 -35.5L26.6 -37.3" fill="none" stroke="#000" stroke-width="6.0" stroke-linecap="butt" stroke-linejoin="round"/>
<path transform="translate(228.3 1875.2) translate(-35.5 0)" d="M16.0 -37.3L10.6 -35.5L7.1 -30.2L5.3 -21.3L5.3 -16.0L7.1 -7.1L10.6 -1.8L16.0 0.0L19.5 0.0L24.8 -1.8L28.4 -7.1L30.2 -16.0L30.2 -21.3L28.4 -30.2L24.8 -35.5L19.5 -37.3L16.0 -37.3M16.0 -37.3L12.4 -35.5L10.6 -33.7L8.9 -30.2L7.1 -21.3L7.1 -16.0L8.9 -7.1L10.6 -3.5L12.4 -1.8L16.0 0.0M19.5 0.0L23.1 -1.8L24.8 -3.5L26.6 -7.1L28.4 -16.0L28.4 -21.3L26.6 -30.2L24.8 -33.7L23.1 -35.5L19.5 -37.3" fill="none" stroke="#000" stroke-width="6.0" stroke-linecap="butt" stroke-linejoin="round"/>
<path transform="translate(228.3 2065.7) translate(-81.6 0)" d="M7.1 -16.0L39.0 -16.0M55.0 -37.3L51.5 -19.5M51.5 -19.5L55.0 -23.1L60.3 -24.8L65.7 -24.8L71.0 -23.1L74.5 -19.5L76.3 -14.2L76.3 -10.6L74.5 -5.3L71.0 -1.8L65.7 0.0L60.3 0.0L55.0 -1.8L53.2 -3.5L51.5 -7.1L51.5 -8.9L53.2 -10.6L55.0 -8.9L53.2 -7.1M65.7 -24.8L69.2 -23.1L72.8 -19.5L74.5 -14.2L74.5 -10.6L72.8 -5.3L69.2 -1.8L65.7 0.0M55.0 -37.3L72.8 -37.3M55.0 -35.5L63.9 -35.5L72.8 -37.3" fill="none" stroke="#000" stroke-width="6.0" stroke-linecap="butt" stroke-linejoin="round"/>
<path transform="translate(102.4 1857.5) rotate(-90) translate(-198.3 0)" d="M17.8 -37.3L12.4 -35.5L8.9 -31.9L7.1 -28.4L5.3 -21.3L5.3 -16.0L7.1 -8.9L8.9 -5.3L12.4 -1.8L17.8 0.0L21.3 0.0L26.6 -1.8L30.2 -5.3L31.9 -8.9L33.7 -16.0L33.7 -21.3L31.9 -28.4L30.2 -31.9L26.6 -35.5L21.3 -37.3L17.8 -37.3M17.8 -37.3L14.2 -35.5L10.6 -31.9L8.9 -28.4L7.1 -21.3L7.1 -16.0L8.9 -8.9L10.6 -5.3L14.2 -1.8L17.8 0.0M21.3 0.0L24.8 -1.8L28.4 -5.3L30.2 -8.9L31.9 -16.0L31.9 -21.3L30.2 -28.4L28.4 -31.9L24.8 -35.5L21.3 -37.3M46.1 -16.0L78.1 -16.0M115.4 -31.9L117.1 -26.6L117.1 -37.3L115.4 -31.9L111.8 -35.5L106.5 -37.3L102.9 -37.3L97.6 -35.5L94.1 -31.9L92.3 -28.4L90.5 -23.1L90.5 -14.2L92.3 -8.9L94.1 -5.3L97.6 -1.8L102.9 0.0L106.5 0.0L111.8 -1.8L115.4 -5.3L117.1 -8.9M102.9 -37.3L99.4 -35.5L95.8 -31.9L94.1 -28.4L92.3 -23.1L92.3 -14.2L94.1 -8.9L95.8 -5.3L99.4 -1.8L102.9 0.0M156.9 -44.4L156.9 12.4M158.7 -44.4L158.7 12.4M156.9 -44.4L169.3 -44.4M156.9 12.4L169.3 12.4M183.5 -21.3L183.5 -19.5L181.8 -19.5L181.8 -21.3L183.5 -23.1L187.1 -24.8L194.2 -24.8L197.7 -23.1L199.5 -21.3L201.3 -17.8L201.3 -5.3L203.1 -1.8L204.8 0.0M199.5 -21.3L199.5 -5.3L201.3 -1.8L204.8 0.0L206.6 0.0M199.5 -17.8L197.7 -16.0L187.1 -14.2L181.8 -12.4L180.0 -8.9L180.0 -5.3L181.8 -1.8L187.1 0.0L192.4 0.0L196.0 -1.8L199.5 -5.3M187.1 -14.2L183.5 -12.4L181.8 -8.9L181.8 -5.3L183.5 -1.8L187.1 0.0M219.0 -24.8L219.0 0.0M220.8 -24.8L220.8 0.0M220.8 -14.2L222.6 -19.5L226.1 -23.1L229.7 -24.8L235.0 -24.8L236.8 -23.1L236.8 -21.3L235.0 -19.5L233.2 -21.3L235.0 -23.1M213.7 -24.8L220.8 -24.8M213.7 0.0L226.1 0.0M267.0 -19.5L265.2 -17.8L267.0 -16.0L268.7 -17.8L268.7 -19.5L265.2 -23.1L261.6 -24.8L256.3 -24.8L251.0 -23.1L247.4 -19.5L245.7 -14.2L245.7 -10.6L247.4 -5.3L251.0 -1.8L256.3 0.0L259.9 0.0L265.2 -1.8L268.7 -5.3M256.3 -24.8L252.8 -23.1L249.2 -19.5L247.4 -14.2L247.4 -10.6L249.2 -5.3L252.8 -1.8L256.3 0.0M297.1 -21.3L298.9 -24.8L298.9 -17.8L297.1 -21.3L295.4 -23.1L291.8 -24.8L284.7 -24.8L281.2 -23.1L279.4 -21.3L279.4 -17.8L281.2 -16.0L284.7 -14.2L293.6 -10.6L297.1 -8.9L298.9 -7.1M279.4 -19.5L281.2 -17.8L284.7 -16.0L293.6 -12.4L297.1 -10.6L298.9 -8.9L298.9 -3.5L297.1 -1.8L293.6 0.0L286.5 0.0L282.9 -1.8L281.2 -3.5L279.4 -7.1L279.4 0.0L281.2 -3.5M311.3 -14.2L332.6 -14.2L332.6 -17.8L330.9 -21.3L329.1 -23.1L325.5 -24.8L320.2 -24.8L314.9 -23.1L311.3 -19.5L309.6 -14.2L309.6 -10.6L311.3 -5.3L314.9 -1.8L320.2 0.0L323.8 0.0L329.1 -1.8L332.6 -5.3M330.9 -14.2L330.9 -19.5L329.1 -23.1M320.2 -24.8L316.7 -23.1L313.1 -19.5L311.3 -14.2L311.3 -10.6L313.1 -5.3L316.7 -1.8L320.2 0.0M364.6 -19.5L362.8 -17.8L364.6 -16.0L366.4 -17.8L366.4 -19.5L362.8 -23.1L359.3 -24.8L353.9 -24.8L348.6 -23.1L345.1 -19.5L343.3 -14.2L343.3 -10.6L345.1 -5.3L348.6 -1.8L353.9 0.0L357.5 0.0L362.8 -1.8L366.4 -5.3M353.9 -24.8L350.4 -23.1L346.8 -19.5L345.1 -14.2L345.1 -10.6L346.8 -5.3L350.4 -1.8L353.9 0.0M387.7 -44.4L387.7 12.4M389.4 -44.4L389.4 12.4M377.0 -44.4L389.4 -44.4M377.0 12.4L389.4 12.4" fill="none" stroke="#000" stroke-width="6.0" stroke-linecap="butt" stroke-linejoin="round"/>
<path transform="translate(2194.0 2080.0) translate(-945.0 0)" d="M30.1 -31.9L31.9 -26.6L31.9 -37.2L30.1 -31.9L26.6 -35.4L21.3 -37.2L17.7 -37.2L12.4 -35.4L8.9 -31.9L7.1 -28.3L5.3 -23.0L5.3 -14.2L7.1 -8.9L8.9 -5.3L12.4 -1.8L17.7 0.0L21.3 0.0L26.6 -1.8L30.1 -5.3L31.9 -8.9M17.7 -37.2L14.2 -35.4L10.6 -31.9L8.9 -28.3L7.1 -23.0L7.1 -14.2L8.9 -8.9L10.6 -5.3L14.2 -1.8L17.7 0.0M72.6 -44.3L40.7 12.4M86.8 -30.1L90.3 -31.9L95.6 -37.2L95.6 0.0M93.9 -35.4L93.9 0.0M86.8 0.0L102.7 0.0M139.9 -24.8L138.1 -19.5L134.6 -15.9L129.3 -14.2L127.5 -14.2L122.2 -15.9L118.7 -19.5L116.9 -24.8L116.9 -26.6L118.7 -31.9L122.2 -35.4L127.5 -37.2L131.1 -37.2L136.4 -35.4L139.9 -31.9L141.7 -26.6L141.7 -15.9L139.9 -8.9L138.1 -5.3L134.6 -1.8L129.3 0.0L124.0 0.0L120.4 -1.8L118.7 -5.3L118.7 -7.1L120.4 -8.9L122.2 -7.1L120.4 -5.3M127.5 -14.2L124.0 -15.9L120.4 -19.5L118.7 -24.8L118.7 -26.6L120.4 -31.9L124.0 -35.4L127.5 -37.2M131.1 -37.2L134.6 -35.4L138.1 -31.9L139.9 -26.6L139.9 -15.9L138.1 -8.9L136.4 -5.3L132.8 -1.8L129.3 0.0M175.3 -24.8L173.6 -19.5L170.0 -15.9L164.7 -14.2L162.9 -14.2L157.6 -15.9L154.1 -19.5L152.3 -24.8L152.3 -26.6L154.1 -31.9L157.6 -35.4L162.9 -37.2L166.5 -37.2L171.8 -35.4L175.3 -31.9L177.1 -26.6L177.1 -15.9L175.3 -8.9L173.6 -5.3L170.0 -1.8L164.7 0.0L159.4 0.0L155.8 -1.8L154.1 -5.3L154.1 -7.1L155.8 -8.9L157.6 -7.1L155.8 -5.3M162.9 -14.2L159.4 -15.9L155.8 -19.5L154.1 -24.8L154.1 -26.6L155.8 -31.9L159.4 -35.4L162.9 -37.2M166.5 -37.2L170.0 -35.4L173.6 -31.9L175.3 -26.6L175.3 -15.9L173.6 -8.9L171.8 -5.3L168.2 -1.8L164.7 0.0M198.4 -37.2L193.0 -35.4L189.5 -30.1L187.7 -21.3L187.7 -15.9L189.5 -7.1L193.0 -1.8L198.4 0.0L201.9 0.0L207.2 -1.8L210.7 -7.1L212.5 -15.9L212.5 -21.3L210.7 -30.1L207.2 -35.4L201.9 -37.2L198.4 -37.2M198.4 -37.2L194.8 -35.4L193.0 -33.6L191.3 -30.1L189.5 -21.3L189.5 -15.9L191.3 -7.1L193.0 -3.5L194.8 -1.8L198.4 0.0M201.9 0.0L205.4 -1.8L207.2 -3.5L209.0 -7.1L210.7 -15.9L210.7 -21.3L209.0 -30.1L207.2 -33.6L205.4 -35.4L201.9 -37.2M254.0 -37.2L254.0 0.0M255.7 -37.2L255.7 0.0M278.8 -37.2L255.7 -14.2M264.6 -21.3L278.8 0.0M262.8 -21.3L277.0 0.0M248.6 -37.2L261.0 -37.2M271.7 -37.2L282.3 -37.2M248.6 0.0L261.0 0.0M271.7 0.0L282.3 0.0M294.7 -30.1L298.2 -31.9L303.5 -37.2L303.5 0.0M301.8 -35.4L301.8 0.0M294.7 0.0L310.6 0.0M355.6 -37.2L355.6 0.0M357.4 -37.2L357.4 0.0M350.3 -37.2L362.7 -37.2M350.3 0.0L376.9 0.0L376.9 -10.6L375.1 0.0M385.7 -14.2L407.0 -14.2L407.0 -17.7L405.2 -21.3L403.4 -23.0L399.9 -24.8L394.6 -24.8L389.3 -23.0L385.7 -19.5L384.0 -14.2L384.0 -10.6L385.7 -5.3L389.3 -1.8L394.6 0.0L398.1 0.0L403.4 -1.8L407.0 -5.3M405.2 -14.2L405.2 -19.5L403.4 -23.0M394.6 -24.8L391.0 -23.0L387.5 -19.5L385.7 -14.2L385.7 -10.6L387.5 -5.3L391.0 -1.8L394.6 0.0M417.6 -24.8L428.2 0.0M419.4 -24.8L428.2 -3.5M438.9 -24.8L428.2 0.0M414.1 -24.8L424.7 -24.8M431.8 -24.8L442.4 -24.8M451.3 -24.8L461.9 0.0M453.0 -24.8L461.9 -3.5M472.5 -24.8L461.9 0.0L458.3 7.1L454.8 10.6L451.3 12.4L449.5 12.4L447.7 10.6L449.5 8.9L451.3 10.6M447.7 -24.8L458.3 -24.8M465.4 -24.8L476.0 -24.8M524.6 -44.3L521.0 -40.7L517.5 -35.4L513.9 -28.3L512.2 -19.5L512.2 -12.4L513.9 -3.5L517.5 3.5L521.0 8.9L524.6 12.4M521.0 -40.7L517.5 -33.6L515.7 -28.3L513.9 -19.5L513.9 -12.4L515.7 -3.5L517.5 1.8L521.0 8.9M560.0 -31.9L561.8 -26.6L561.8 -37.2L560.0 -31.9L556.4 -35.4L551.1 -37.2L547.6 -37.2L542.3 -35.4L538.7 -31.9L537.0 -28.3L535.2 -23.0L535.2 -14.2L537.0 -8.9L538.7 -5.3L542.3 -1.8L547.6 0.0L551.1 0.0L556.4 -1.8L560.0 -5.3M547.6 -37.2L544.1 -35.4L540.5 -31.9L538.7 -28.3L537.0 -23.0L537.0 -14.2L538.7 -8.9L540.5 -5.3L544.1 -1.8L547.6 0.0M560.0 -14.2L560.0 0.0M561.8 -14.2L561.8 0.0M554.7 -14.2L567.1 -14.2M579.5 -37.2L579.5 0.0M581.2 -37.2L581.2 0.0M574.2 -37.2L595.4 -37.2L600.7 -35.4L602.5 -33.6L604.3 -30.1L604.3 -26.6L602.5 -23.0L600.7 -21.3L595.4 -19.5L581.2 -19.5M595.4 -37.2L599.0 -35.4L600.7 -33.6L602.5 -30.1L602.5 -26.6L600.7 -23.0L599.0 -21.3L595.4 -19.5M574.2 0.0L586.6 0.0M590.1 -19.5L593.6 -17.7L595.4 -15.9L600.7 -3.5L602.5 -1.8L604.3 -1.8L606.0 -3.5M593.6 -17.7L595.4 -14.2L599.0 -1.8L600.7 0.0L604.3 0.0L606.0 -3.5L606.0 -5.3M618.4 -24.8L616.7 -23.0L618.4 -21.3L620.2 -23.0L618.4 -24.8M618.4 0.0L616.7 -1.8L618.4 -3.5L620.2 -1.8L620.2 1.8L618.4 5.3L616.7 7.1M661.6 -24.8L668.7 0.0M663.4 -24.8L668.7 -5.3M675.8 -24.8L668.7 0.0M675.8 -24.8L682.9 0.0M677.6 -24.8L682.9 -5.3M690.0 -24.8L682.9 0.0M656.3 -24.8L668.7 -24.8M684.7 -24.8L695.3 -24.8M704.1 -14.2L725.4 -14.2L725.4 -17.7L723.6 -21.3L721.9 -23.0L718.3 -24.8L713.0 -24.8L707.7 -23.0L704.1 -19.5L702.4 -14.2L702.4 -10.6L704.1 -5.3L707.7 -1.8L713.0 0.0L716.5 0.0L721.9 -1.8L725.4 -5.3M723.6 -14.2L723.6 -19.5L721.9 -23.0M713.0 -24.8L709.5 -23.0L705.9 -19.5L704.1 -14.2L704.1 -10.6L705.9 -5.3L709.5 -1.8L713.0 0.0M739.6 -37.2L737.8 -35.4L739.6 -33.6L741.3 -35.4L739.6 -37.2M739.6 -24.8L739.6 0.0M741.3 -24.8L741.3 0.0M734.3 -24.8L741.3 -24.8M734.3 0.0L746.7 0.0M764.4 -24.8L760.8 -23.0L759.1 -21.3L757.3 -17.7L757.3 -14.2L759.1 -10.6L760.8 -8.9L764.4 -7.1L767.9 -7.1L771.4 -8.9L773.2 -10.6L775.0 -14.2L775.0 -17.7L773.2 -21.3L771.4 -23.0L767.9 -24.8L764.4 -24.8M760.8 -23.0L759.1 -19.5L759.1 -12.4L760.8 -8.9M771.4 -8.9L773.2 -12.4L773.2 -19.5L771.4 -23.0M773.2 -21.3L775.0 -23.0L778.5 -24.8L778.5 -23.0L775.0 -23.0M759.1 -10.6L757.3 -8.9L755.5 -5.3L755.5 -3.5L757.3 0.0L762.6 1.8L771.4 1.8L776.8 3.5L778.5 5.3M755.5 -3.5L757.3 -1.8L762.6 0.0L771.4 0.0L776.8 1.8L778.5 5.3L778.5 7.1L776.8 10.6L771.4 12.4L760.8 12.4L755.5 10.6L753.7 7.1L753.7 5.3L755.5 1.8L760.8 0.0M792.7 -37.2L792.7 0.0M794.5 -37.2L794.5 0.0M794.5 -19.5L798.0 -23.0L803.3 -24.8L806.9 -24.8L812.2 -23.0L814.0 -19.5L814.0 0.0M806.9 -24.8L810.4 -23.0L812.2 -19.5L812.2 0.0M787.4 -37.2L794.5 -37.2M787.4 0.0L799.8 0.0M806.9 0.0L819.3 0.0M831.7 -37.2L831.7 -7.1L833.4 -1.8L837.0 0.0L840.5 0.0L844.1 -1.8L845.8 -5.3M833.4 -37.2L833.4 -7.1L835.2 -1.8L837.0 0.0M826.3 -24.8L840.5 -24.8M856.5 -14.2L877.7 -14.2L877.7 -17.7L875.9 -21.3L874.2 -23.0L870.6 -24.8L865.3 -24.8L860.0 -23.0L856.5 -19.5L854.7 -14.2L854.7 -10.6L856.5 -5.3L860.0 -1.8L865.3 0.0L868.9 0.0L874.2 -1.8L877.7 -5.3M875.9 -14.2L875.9 -19.5L874.2 -23.0M865.3 -24.8L861.8 -23.0L858.2 -19.5L856.5 -14.2L856.5 -10.6L858.2 -5.3L861.8 -1.8L865.3 0.0M909.6 -37.2L909.6 0.0M911.4 -37.2L911.4 0.0M909.6 -19.5L906.0 -23.0L902.5 -24.8L899.0 -24.8L893.6 -23.0L890.1 -19.5L888.3 -14.2L888.3 -10.6L890.1 -5.3L893.6 -1.8L899.0 0.0L902.5 0.0L906.0 -1.8L909.6 -5.3M899.0 -24.8L895.4 -23.0L891.9 -19.5L890.1 -14.2L890.1 -10.6L891.9 -5.3L895.4 -1.8L899.0 0.0M904.3 -37.2L911.4 -37.2M909.6 0.0L916.7 0.0M925.5 -44.3L929.1 -40.7L932.6 -35.4L936.2 -28.3L937.9 -19.5L937.9 -12.4L936.2 -3.5L932.6 3.5L929.1 8.9L925.5 12.4M929.1 -40.7L932.6 -33.6L934.4 -28.3L936.2 -19.5L936.2 -12.4L934.4 -3.5L932.6 1.8L929.1 8.9" fill="none" stroke="#000" stroke-width="5.4" stroke-linecap="butt" stroke-linejoin="round"/>
<path transform="translate(858.0 2192.5) translate(-97.6 0)" d="M10.6 -30.2L14.2 -31.9L19.5 -37.3L19.5 0.0M17.8 -35.5L17.8 0.0M10.6 0.0L26.6 0.0M63.9 -24.8L62.1 -19.5L58.6 -16.0L53.2 -14.2L51.5 -14.2L46.1 -16.0L42.6 -19.5L40.8 -24.8L40.8 -26.6L42.6 -31.9L46.1 -35.5L51.5 -37.3L55.0 -37.3L60.3 -35.5L63.9 -31.9L65.7 -26.6L65.7 -16.0L63.9 -8.9L62.1 -5.3L58.6 -1.8L53.2 0.0L47.9 0.0L44.4 -1.8L42.6 -5.3L42.6 -7.1L44.4 -8.9L46.1 -7.1L44.4 -5.3M51.5 -14.2L47.9 -16.0L44.4 -19.5L42.6 -24.8L42.6 -26.6L44.4 -31.9L47.9 -35.5L51.5 -37.3M55.0 -37.3L58.6 -35.5L62.1 -31.9L63.9 -26.6L63.9 -16.0L62.1 -8.9L60.3 -5.3L56.8 -1.8L53.2 0.0M99.4 -24.8L97.6 -19.5L94.1 -16.0L88.8 -14.2L87.0 -14.2L81.6 -16.0L78.1 -19.5L76.3 -24.8L76.3 -26.6L78.1 -31.9L81.6 -35.5L87.0 -37.3L90.5 -37.3L95.8 -35.5L99.4 -31.9L101.2 -26.6L101.2 -16.0L99.4 -8.9L97.6 -5.3L94.1 -1.8L88.8 0.0L83.4 0.0L79.9 -1.8L78.1 -5.3L78.1 -7.1L79.9 -8.9L81.6 -7.1L79.9 -5.3M87.0 -14.2L83.4 -16.0L79.9 -19.5L78.1 -24.8L78.1 -26.6L79.9 -31.9L83.4 -35.5L87.0 -37.3M90.5 -37.3L94.1 -35.5L97.6 -31.9L99.4 -26.6L99.4 -16.0L97.6 -8.9L95.8 -5.3L92.3 -1.8L88.8 0.0M122.5 -37.3L117.1 -35.5L113.6 -30.2L111.8 -21.3L111.8 -16.0L113.6 -7.1L117.1 -1.8L122.5 0.0L126.0 0.0L131.3 -1.8L134.9 -7.1L136.7 -16.0L136.7 -21.3L134.9 -30.2L131.3 -35.5L126.0 -37.3L122.5 -37.3M122.5 -37.3L118.9 -35.5L117.1 -33.7L115.4 -30.2L113.6 -21.3L113.6 -16.0L115.4 -7.1L117.1 -3.5L118.9 -1.8L122.5 0.0M126.0 0.0L129.6 -1.8L131.3 -3.5L133.1 -7.1L134.9 -16.0L134.9 -21.3L133.1 -30.2L131.3 -33.7L129.6 -35.5L126.0 -37.3M150.9 -3.5L149.1 -1.8L150.9 0.0L152.7 -1.8L150.9 -3.5M186.4 -31.9L184.6 -30.2L186.4 -28.4L188.1 -30.2L188.1 -31.9L186.4 -35.5L182.8 -37.3L177.5 -37.3L172.2 -35.5L168.6 -31.9L166.8 -28.4L165.1 -21.3L165.1 -10.6L166.8 -5.3L170.4 -1.8L175.7 0.0L179.3 0.0L184.6 -1.8L188.1 -5.3L189.9 -10.6L189.9 -12.4L188.1 -17.8L184.6 -21.3L179.3 -23.1L177.5 -23.1L172.2 -21.3L168.6 -17.8L166.8 -12.4M177.5 -37.3L173.9 -35.5L170.4 -31.9L168.6 -28.4L166.8 -21.3L166.8 -10.6L168.6 -5.3L172.2 -1.8L175.7 0.0M179.3 0.0L182.8 -1.8L186.4 -5.3L188.1 -10.6L188.1 -12.4L186.4 -17.8L182.8 -21.3L179.3 -23.1" fill="none" stroke="#000" stroke-width="6.0" stroke-linecap="butt" stroke-linejoin="round"/>
<path transform="translate(1562.0 2192.5) translate(-97.6 0)" d="M10.6 -30.2L14.2 -31.9L19.5 -37.3L19.5 0.0M17.8 -35.5L17.8 0.0M10.6 0.0L26.6 0.0M63.9 -24.8L62.1 -19.5L58.6 -16.0L53.2 -14.2L51.5 -14.2L46.1 -16.0L42.6 -19.5L40.8 -24.8L40.8 -26.6L42.6 -31.9L46.1 -35.5L51.5 -37.3L55.0 -37.3L60.3 -35.5L63.9 -31.9L65.7 -26.6L65.7 -16.0L63.9 -8.9L62.1 -5.3L58.6 -1.8L53.2 0.0L47.9 0.0L44.4 -1.8L42.6 -5.3L42.6 -7.1L44.4 -8.9L46.1 -7.1L44.4 -5.3M51.5 -14.2L47.9 -16.0L44.4 -19.5L42.6 -24.8L42.6 -26.6L44.4 -31.9L47.9 -35.5L51.5 -37.3M55.0 -37.3L58.6 -35.5L62.1 -31.9L63.9 -26.6L63.9 -16.0L62.1 -8.9L60.3 -5.3L56.8 -1.8L53.2 0.0M99.4 -24.8L97.6 -19.5L94.1 -16.0L88.8 -14.2L87.0 -14.2L81.6 -16.0L78.1 -19.5L76.3 -24.8L76.3 -26.6L78.1 -31.9L81.6 -35.5L87.0 -37.3L90.5 -37.3L95.8 -35.5L99.4 -31.9L101.2 -26.6L101.2 -16.0L99.4 -8.9L97.6 -5.3L94.1 -1.8L88.8 0.0L83.4 0.0L79.9 -1.8L78.1 -5.3L78.1 -7.1L79.9 -8.9L81.6 -7.1L79.9 -5.3M87.0 -14.2L83.4 -16.0L79.9 -19.5L78.1 -24.8L78.1 -26.6L79.9 -31.9L83.4 -35.5L87.0 -37.3M90.5 -37.3L94.1 -35.5L97.6 -31.9L99.4 -26.6L99.4 -16.0L97.6 -8.9L95.8 -5.3L92.3 -1.8L88.8 0.0M122.5 -37.3L117.1 -35.5L113.6 -30.2L111.8 -21.3L111.8 -16.0L113.6 -7.1L117.1 -1.8L122.5 0.0L126.0 0.0L131.3 -1.8L134.9 -7.1L136.7 -16.0L136.7 -21.3L134.9 -30.2L131.3 -35.5L126.0 -37.3L122.5 -37.3M122.5 -37.3L118.9 -35.5L117.1 -33.7L115.4 -30.2L113.6 -21.3L113.6 -16.0L115.4 -7.1L117.1 -3.5L118.9 -1.8L122.5 0.0M126.0 0.0L129.6 -1.8L131.3 -3.5L133.1 -7.1L134.9 -16.0L134.9 -21.3L133.1 -30.2L131.3 -33.7L129.6 -35.5L126.0 -37.3M150.9 -3.5L149.1 -1.8L150.9 0.0L152.7 -1.8L150.9 -3.5M173.9 -37.3L168.6 -35.5L166.8 -31.9L166.8 -26.6L168.6 -23.1L173.9 -21.3L181.0 -21.3L186.4 -23.1L188.1 -26.6L188.1 -31.9L186.4 -35.5L181.0 -37.3L173.9 -37.3M173.9 -37.3L170.4 -35.5L168.6 -31.9L168.6 -26.6L170.4 -23.1L173.9 -21.3M181.0 -21.3L184.6 -23.1L186.4 -26.6L186.4 -31.9L184.6 -35.5L181.0 -37.3M173.9 -21.3L168.6 -19.5L166.8 -17.8L165.1 -14.2L165.1 -7.1L166.8 -3.5L168.6 -1.8L173.9 0.0L181.0 0.0L186.4 -1.8L188.1 -3.5L189.9 -7.1L189.9 -14.2L188.1 -17.8L186.4 -19.5L181.0 -21.3M173.9 -21.3L170.4 -19.5L168.6 -17.8L166.8 -14.2L166.8 -7.1L168.6 -3.5L170.4 -1.8L173.9 0.0M181.0 0.0L184.6 -1.8L186.4 -3.5L188.1 -7.1L188.1 -14.2L186.4 -17.8L184.6 -19.5L181.0 -21.3" fill="none" stroke="#000" stroke-width="6.0" stroke-linecap="butt" stroke-linejoin="round"/>
<path transform="translate(2266.0 2192.5) translate(-71.0 0)" d="M10.6 -30.2L14.2 -31.9L19.5 -37.3L19.5 0.0M17.8 -35.5L17.8 0.0M10.6 0.0L26.6 0.0M63.9 -24.8L62.1 -19.5L58.6 -16.0L53.2 -14.2L51.5 -14.2L46.1 -16.0L42.6 -19.5L40.8 -24.8L40.8 -26.6L42.6 -31.9L46.1 -35.5L51.5 -37.3L55.0 -37.3L60.3 -35.5L63.9 -31.9L65.7 -26.6L65.7 -16.0L63.9 -8.9L62.1 -5.3L58.6 -1.8L53.2 0.0L47.9 0.0L44.4 -1.8L42.6 -5.3L42.6 -7.1L44.4 -8.9L46.1 -7.1L44.4 -5.3M51.5 -14.2L47.9 -16.0L44.4 -19.5L42.6 -24.8L42.6 -26.6L44.4 -31.9L47.9 -35.5L51.5 -37.3M55.0 -37.3L58.6 -35.5L62.1 -31.9L63.9 -26.6L63.9 -16.0L62.1 -8.9L60.3 -5.3L56.8 -1.8L53.2 0.0M99.4 -24.8L97.6 -19.5L94.1 -16.0L88.8 -14.2L87.0 -14.2L81.6 -16.0L78.1 -19.5L76.3 -24.8L76.3 -26.6L78.1 -31.9L81.6 -35.5L87.0 -37.3L90.5 -37.3L95.8 -35.5L99.4 -31.9L101.2 -26.6L101.2 -16.0L99.4 -8.9L97.6 -5.3L94.1 -1.8L88.8 0.0L83.4 0.0L79.9 -1.8L78.1 -5.3L78.1 -7.1L79.9 -8.9L81.6 -7.1L79.9 -5.3M87.0 -14.2L83.4 -16.0L79.9 -19.5L78.1 -24.8L78.1 -26.6L79.9 -31.9L83.4 -35.5L87.0 -37.3M90.5 -37.3L94.1 -35.5L97.6 -31.9L99.4 -26.6L99.4 -16.0L97.6 -8.9L95.8 -5.3L92.3 -1.8L88.8 0.0M117.1 -30.2L120.7 -31.9L126.0 -37.3L126.0 0.0M124.2 -35.5L124.2 0.0M117.1 0.0L133.1 0.0" fill="none" stroke="#000" stroke-width="6.0" stroke-linecap="butt" stroke-linejoin="round"/>
<path transform="translate(1262.5 2268.0) translate(-178.9 0)" d="M8.9 -37.3L8.9 0.0M10.6 -37.3L10.6 0.0M3.5 -37.3L21.3 -37.3L26.6 -35.5L30.2 -31.9L31.9 -28.4L33.7 -23.1L33.7 -14.2L31.9 -8.9L30.2 -5.3L26.6 -1.8L21.3 0.0L3.5 0.0M21.3 -37.3L24.8 -35.5L28.4 -31.9L30.2 -28.4L31.9 -23.1L31.9 -14.2L30.2 -8.9L28.4 -5.3L24.8 -1.8L21.3 0.0M75.3 -21.3L75.3 -19.5L73.5 -19.5L73.5 -21.3L75.3 -23.1L78.8 -24.8L85.9 -24.8L89.5 -23.1L91.2 -21.3L93.0 -17.8L93.0 -5.3L94.8 -1.8L96.6 0.0M91.2 -21.3L91.2 -5.3L93.0 -1.8L96.6 0.0L98.3 0.0M91.2 -17.8L89.5 -16.0L78.8 -14.2L73.5 -12.4L71.7 -8.9L71.7 -5.3L73.5 -1.8L78.8 0.0L84.1 0.0L87.7 -1.8L91.2 -5.3M78.8 -14.2L75.3 -12.4L73.5 -8.9L73.5 -5.3L75.3 -1.8L78.8 0.0M138.1 -37.3L138.1 -7.1L139.9 -1.8L143.4 0.0L147.0 0.0L150.5 -1.8L152.3 -5.3M139.9 -37.3L139.9 -7.1L141.6 -1.8L143.4 0.0M132.8 -24.8L147.0 -24.8M190.3 -14.2L211.6 -14.2L211.6 -17.8L209.8 -21.3L208.0 -23.1L204.5 -24.8L199.2 -24.8L193.8 -23.1L190.3 -19.5L188.5 -14.2L188.5 -10.6L190.3 -5.3L193.8 -1.8L199.2 0.0L202.7 0.0L208.0 -1.8L211.6 -5.3M209.8 -14.2L209.8 -19.5L208.0 -23.1M199.2 -24.8L195.6 -23.1L192.1 -19.5L190.3 -14.2L190.3 -10.6L192.1 -5.3L195.6 -1.8L199.2 0.0M251.3 -44.4L251.3 12.4M253.1 -44.4L253.1 12.4M251.3 -44.4L263.8 -44.4M251.3 12.4L263.8 12.4M276.2 -24.8L286.8 0.0M278.0 -24.8L286.8 -3.5M297.5 -24.8L286.8 0.0L283.3 7.1L279.7 10.6L276.2 12.4L274.4 12.4L272.6 10.6L274.4 8.9L276.2 10.6M272.6 -24.8L283.3 -24.8M290.4 -24.8L301.0 -24.8M311.7 -24.8L311.7 0.0M313.5 -24.8L313.5 0.0M313.5 -14.2L315.2 -19.5L318.8 -23.1L322.3 -24.8L327.7 -24.8L329.4 -23.1L329.4 -21.3L327.7 -19.5L325.9 -21.3L327.7 -23.1M306.4 -24.8L313.5 -24.8M306.4 0.0L318.8 0.0M349.0 -44.4L349.0 12.4M350.7 -44.4L350.7 12.4M338.3 -44.4L350.7 -44.4M338.3 12.4L350.7 12.4" fill="none" stroke="#000" stroke-width="6.0" stroke-linecap="butt" stroke-linejoin="round"/>
</svg></body></html>
